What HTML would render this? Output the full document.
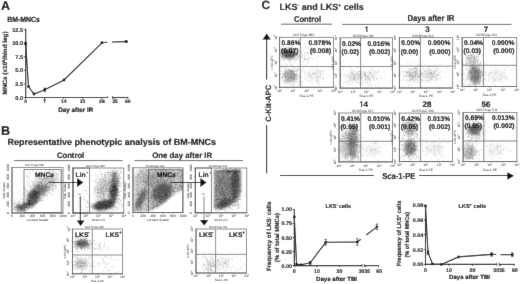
<!DOCTYPE html>
<html><head><meta charset="utf-8"><style>
html,body{margin:0;padding:0;background:#fff;}
svg{display:block;}
text{font-family:"Liberation Sans", sans-serif;text-rendering:geometricPrecision;}
text[font-weight=bold]{stroke:#111;stroke-width:0.15px;stroke-linejoin:round;}
</style></head><body>
<svg xmlns="http://www.w3.org/2000/svg" width="520" height="284" viewBox="0 0 520 284">
<defs><filter id="soft" x="0" y="0" width="520" height="284" filterUnits="userSpaceOnUse"><feConvolveMatrix order="3" kernelMatrix="0.0049 0.0602 0.0049 0.0602 0.7396 0.0602 0.0049 0.0602 0.0049" edgeMode="duplicate"/></filter><filter id="bl" x="-5%" y="-5%" width="110%" height="110%"><feGaussianBlur stdDeviation="0.35"/></filter><filter id="f8" x="-50%" y="-50%" width="200%" height="200%"><feGaussianBlur stdDeviation="0.8"/></filter><filter id="f10" x="-50%" y="-50%" width="200%" height="200%"><feGaussianBlur stdDeviation="1.0"/></filter><filter id="f12" x="-50%" y="-50%" width="200%" height="200%"><feGaussianBlur stdDeviation="1.2"/></filter><filter id="f15" x="-50%" y="-50%" width="200%" height="200%"><feGaussianBlur stdDeviation="1.5"/></filter><filter id="f20" x="-50%" y="-50%" width="200%" height="200%"><feGaussianBlur stdDeviation="2.0"/></filter><filter id="f25" x="-50%" y="-50%" width="200%" height="200%"><feGaussianBlur stdDeviation="2.5"/></filter><filter id="f30" x="-50%" y="-50%" width="200%" height="200%"><feGaussianBlur stdDeviation="3.0"/></filter><clipPath id="c0"><rect x="12" y="167.6" width="51" height="45.400000000000006"/></clipPath><clipPath id="c1"><rect x="73" y="168" width="50.8" height="45"/></clipPath><clipPath id="c2"><rect x="72.5" y="229" width="50.0" height="44.80000000000001"/></clipPath><clipPath id="c3"><rect x="133" y="167.8" width="50" height="44.79999999999998"/></clipPath><clipPath id="c4"><rect x="195.3" y="168" width="51.5" height="44.80000000000001"/></clipPath><clipPath id="c5"><rect x="196" y="229" width="50.5" height="44"/></clipPath><clipPath id="c6"><rect x="279.6" y="37.3" width="53.89999999999998" height="50.0"/></clipPath><clipPath id="c7"><rect x="340.2" y="37.8" width="52.30000000000001" height="50.3"/></clipPath><clipPath id="c8"><rect x="399.4" y="37.7" width="53.30000000000001" height="50.3"/></clipPath><clipPath id="c9"><rect x="462.2" y="37.5" width="54.50000000000006" height="49.0"/></clipPath><clipPath id="c10"><rect x="339" y="113" width="53.5" height="48.900000000000006"/></clipPath><clipPath id="c11"><rect x="399.4" y="113.1" width="53.10000000000002" height="48.5"/></clipPath><clipPath id="c12"><rect x="463.1" y="112.6" width="53.799999999999955" height="49.0"/></clipPath></defs>
<g filter="url(#soft)">
<rect width="520" height="284" fill="#fff"/>
<g clip-path="url(#c0)"><ellipse cx="20.5" cy="207.5" rx="4.5" ry="3" transform="rotate(-15 20.5 207.5)" opacity="0.42" filter="url(#f12)"/><ellipse cx="33" cy="198" rx="5.5" ry="8.5" transform="rotate(20 33 198)" opacity="0.5" filter="url(#f12)"/><ellipse cx="27" cy="205" rx="4" ry="3" transform="rotate(-30 27 205)" opacity="0.35" filter="url(#f12)"/><ellipse cx="38" cy="192" rx="10" ry="7" transform="rotate(-40 38 192)" opacity="0.18" filter="url(#f15)"/><ellipse cx="42" cy="190" rx="7" ry="4" transform="rotate(-30 42 190)" opacity="0.22" filter="url(#f15)"/><ellipse cx="46" cy="182" rx="13" ry="7" transform="rotate(-25 46 182)" opacity="0.14" filter="url(#f20)"/><polygon points="24,213.5 64,189.5 64,215 24,215" fill="#fff" opacity="1" filter="url(#f8)"/></g><g clip-path="url(#c1)"><ellipse cx="104" cy="205" rx="11" ry="4.8" transform="rotate(-12 104 205)" opacity="0.65" filter="url(#f12)"/><ellipse cx="113.5" cy="193" rx="4.2" ry="9" transform="rotate(5 113.5 193)" opacity="0.55" filter="url(#f12)"/><ellipse cx="114.5" cy="180" rx="3.6" ry="9" transform="rotate(-3 114.5 180)" opacity="0.35" filter="url(#f12)"/><ellipse cx="104" cy="188" rx="8" ry="11" transform="rotate(20 104 188)" opacity="0.15" filter="url(#f20)"/></g><g clip-path="url(#c2)"><ellipse cx="82" cy="243.5" rx="7" ry="4" transform="rotate(0 82 243.5)" opacity="0.42" filter="url(#f12)"/><ellipse cx="81" cy="264" rx="6" ry="5" transform="rotate(0 81 264)" opacity="0.14" filter="url(#f15)"/></g><g clip-path="url(#c3)"><polygon points="134,211 147,212 183,189 183,170 140,169 134,180" opacity="0.2" filter="url(#f15)"/><ellipse cx="162" cy="192" rx="11" ry="8" transform="rotate(-35 162 192)" opacity="0.45" filter="url(#f15)"/><ellipse cx="141" cy="199" rx="3.5" ry="11" transform="rotate(25 141 199)" opacity="0.3" filter="url(#f12)"/><ellipse cx="158" cy="178" rx="15" ry="7" transform="rotate(-15 158 178)" opacity="0.12" filter="url(#f20)"/><ellipse cx="160" cy="204" rx="10" ry="3" transform="rotate(-30 160 204)" opacity="0.2" filter="url(#f12)"/><polygon points="179.5,171 182.5,171 182.5,210 179.5,210" opacity="0.08" filter="url(#f10)"/><polygon points="148,214.5 184,190 184,215" fill="#fff" opacity="1" filter="url(#f8)"/></g><g clip-path="url(#c4)"><polygon points="214,170 241,170 241,192 236,202 226,208 214,209" opacity="0.4" filter="url(#f12)"/><ellipse cx="235" cy="185" rx="4" ry="15" transform="rotate(2 235 185)" opacity="0.3" filter="url(#f12)"/><ellipse cx="224" cy="203.5" rx="8" ry="4" transform="rotate(-30 224 203.5)" opacity="0.25" filter="url(#f12)"/><ellipse cx="230" cy="171" rx="9" ry="1.5" transform="rotate(0 230 171)" opacity="0.15" filter="url(#f10)"/></g><g clip-path="url(#c5)"><ellipse cx="210" cy="264.7" rx="6" ry="5" transform="rotate(0 210 264.7)" opacity="0.06" filter="url(#f20)"/><ellipse cx="223" cy="263" rx="7" ry="5" transform="rotate(0 223 263)" opacity="0.04" filter="url(#f20)"/></g><g clip-path="url(#c6)"><ellipse cx="289" cy="54" rx="7" ry="4.5" transform="rotate(0 289 54)" opacity="0.5" filter="url(#f12)"/><ellipse cx="290" cy="76" rx="6.5" ry="6" transform="rotate(0 290 76)" opacity="0.25" filter="url(#f15)"/><ellipse cx="314" cy="76" rx="9" ry="6" transform="rotate(0 314 76)" opacity="0.05" filter="url(#f20)"/></g><g clip-path="url(#c7)"><ellipse cx="354.4" cy="76.6" rx="7" ry="5" transform="rotate(0 354.4 76.6)" opacity="0.07" filter="url(#f20)"/><ellipse cx="369" cy="75.6" rx="8" ry="5" transform="rotate(0 369 75.6)" opacity="0.05" filter="url(#f20)"/></g><g clip-path="url(#c8)"><ellipse cx="413" cy="75" rx="7" ry="5" transform="rotate(0 413 75)" opacity="0.13" filter="url(#f20)"/><ellipse cx="430" cy="75" rx="8" ry="5" transform="rotate(0 430 75)" opacity="0.09" filter="url(#f20)"/></g><g clip-path="url(#c9)"><ellipse cx="475" cy="75" rx="6" ry="9" transform="rotate(0 475 75)" opacity="0.38" filter="url(#f15)"/><ellipse cx="472" cy="60" rx="5" ry="6" transform="rotate(0 472 60)" opacity="0.15" filter="url(#f15)"/><ellipse cx="498" cy="76" rx="9" ry="6" transform="rotate(0 498 76)" opacity="0.05" filter="url(#f20)"/></g><g clip-path="url(#c10)"><ellipse cx="353" cy="142" rx="5" ry="17" transform="rotate(0 353 142)" opacity="0.33" filter="url(#f15)"/><ellipse cx="346" cy="145" rx="6" ry="14" transform="rotate(0 346 145)" opacity="0.15" filter="url(#f15)"/><ellipse cx="372" cy="150" rx="8" ry="5" transform="rotate(0 372 150)" opacity="0.06" filter="url(#f20)"/></g><g clip-path="url(#c11)"><ellipse cx="410" cy="148" rx="6" ry="8" transform="rotate(0 410 148)" opacity="0.38" filter="url(#f15)"/><ellipse cx="410" cy="128" rx="6" ry="7" transform="rotate(0 410 128)" opacity="0.22" filter="url(#f15)"/><ellipse cx="435" cy="149" rx="9" ry="6" transform="rotate(0 435 149)" opacity="0.06" filter="url(#f20)"/></g><g clip-path="url(#c12)"><ellipse cx="474.3" cy="130" rx="6" ry="5" transform="rotate(0 474.3 130)" opacity="0.48" filter="url(#f12)"/><ellipse cx="469" cy="152" rx="6" ry="7" transform="rotate(0 469 152)" opacity="0.22" filter="url(#f15)"/><ellipse cx="495" cy="150" rx="9" ry="6" transform="rotate(0 495 150)" opacity="0.05" filter="url(#f20)"/></g>
<g filter="url(#bl)"><path d="M283.1 46.1h.8m6.6 1.8h.8m.2 .5h.8m3.4-.4h.8m-14.1 .6h.8m1.7 0h.8m1.8 .2h.8m5.9-.1h.8m-13.2 1.6h.8m2.3-.7h.8m6.3 0h.8m4.2 .4h.8m-17.3 .7h.8m-.1 .5h.8m3.3-.2h.8m1-.4h.8m-5.2 1.4h.8m6.6 0h.8m.9-.4h.8m.1 .7h.8m185.1-.3h.8m-197.4 1.3h.8m8.2 .1h.8m-.8-.3h.8m14.1-.4h.8m163.3 .3h.8m-190.5 1.3h.8m3.9-.4h.8m3.3-.4h.8m4.2 0h.8m-.6 .6h.8m.8 .1h.8m3.5 .1h.8m-15.2 1.2h.8m2.7-.7h.8m.1 .1h.8m4.3 0h.8m.2 .3h.8m-.1-.3h.8m4.6-.3h.8m7.1 .1h.8m154.1 .8h.8m-185.5 .6h.8m.7 .2h.8m2.8 .1h.8m1.8-.6h.8m1.2 .7h.8m2.9-.7h.8m6.4 .3h.8m-17 1.4h.8m1-.7h.8m-.2 .2h.8m0 .4h.8m-.5-.2h.8m2.3-.4h.8m-.6 .2h.8m1.6-.1h.8m172.3 .3h.8m-.7 .1h.8m5.1-.5h.8m7.1 .1h.8m-176.5 1.6h.8m3.7-.9h.8m-27.7 1.2h.8m6.9 .4h.8m11.5-.7h.8m161.5 .3h.8m-157.4 1h.8m157.1-.1h.8m.9-.1h.8m-175.4 1.5h.8m188 .1h.8m-175.8 1h.8m168.7 .1h.8m5.1-.3h.8m-194.9 .8h.8m12.4 0h.8m104-.3h.8m59.8 .2h.8m7.3-.1h.8m7.5 .1h.8m-192.2 1.1h.8m181.7 .3h.8m2.1 .1h.8m33.2 0h.8m-33.5 .9h.8m4 0h.8m-200.9 .6h.8m149.1 0h.8m37.6 .7h.8m2.7 0h.8m-182.6 1.1h.8m116.8-.8h.8m56.4 .6h.8m-53.9 .9h.8m18.6-.3h.8m35.6 .2h.8m-.1-.2h.8m1.3 .2h.8m-131.6 1h.8m64.9-.1h.8m.4 .2h.8m11.3-.6h.8m2.9 .9h.8m47.1-.7h.8m4.5 .5h.8m-.5 .1h.8m-183.3 1.1h.8m45.4-.8h.8m67.4 .2h.8m65 .6h.8m17.5-.3h.8m-210 1.1h.8m6.5-.4h.8m1-.3h.8m62.9 .6h.8m60-.6h.8m53.2 .2h.8m4.1-.2h.8m17 .6h.8m-204.2 .4h.8m26 .7h.8m1.5-.6h.8m51.9 .1h.8m26.5 .3h.8m12-.3h.8m53.7-.3h.8m5 .7h.8m-184.4 1.2h.8m.5-.4h.8m10 0h.8m116.3 .2h.8m7-.4h.8m39 0h.8m1 .5h.8m.1-.7h.8m-187.7 1.2h.8m27.9 .3h.8m38.1-.2h.8m4.9 .4h.8m.3 .2h.8m50.5-.2h.8m.4-.4h.8m10.6-.2h.8m7.3-.1h.8m57.1 .6h.8m-202.3 .6h.8m22.4 0h.8m46.1-.1h.8m6.8 .7h.8m44.4-.4h.8m6.4-.4h.8m15.8 .1h.8m1.6 .6h.8m.1-.2h.8m44 .4h.8m3.3-.3h.8m-158.1 .5h.8m25.7-.2h.8m16.3 .9h.8m33.4-.4h.8m3.6-.2h.8m-.3 .4h.8m20 .2h.8m39.3 0h.8m-.2-.3h.8m.5-.1h.8m1.9 .3h.8m.2-.4h.8m1.7 0h.8m2.1-.3h.8m.6 0h.8m-200 1.3h.8m4.5 .1h.8m5.1 .1h.8m21.7-.5h.8m32.8 .1h.8m8.7 .4h.8m45.9-.2h.8m70.6 .4h.8m1.5-.4h.8m-160.8 1.2h.8m31.8-.1h.8m12.7 .3h.8m57.3-.7h.8m4.2 .3h.8m41.2-.1h.8m2.9 .4h.8m1.9-.3h.8m-194.3 1.3h.8m28.7-.4h.8m104.3 .4h.8m8.5-.5h.8m34.1-.2h.8m4.3 .3h.8m3.7 .2h.8m23.4 .2h.8m5.6 .2h.8m-151.3 1h.8m9.1-.7h.8m3.4 .3h.8m-.4 .2h.8m64.1 .1h.8m28.7 .2h.8m12.4-.8h.8m1.4 .6h.8m.6-.6h.8m-192.5 1.2h.8m-.2 .2h.8m60.9-.4h.8m9.4 .1h.8m59.4 .1h.8m5.4-.1h.8m45.9 .2h.8m1.3 .4h.8m-180.9 .8h.8m166.6-.3h.8m9.5-.4h.8m3.8 1h.8m-196.4 .9h.8m4.3-.5h.8m3 .3h.8m24.6 .1h.8m158.6-.3h.8m-193.8 1.4h.8m150.4-.9h.8m.2 .7h.8m25.7-.2h.8m9.4-.4h.8m2.1-.1h.8m.1 .6h.8m14.2-.5h.8m14.6 .8h.8m-144.4 .4h.8m99.3-.2h.8m5.6 .3h.8m3.3 .1h.8m-.5 .4h.8m-72.1 .9h.8m-45.3 28.4h.8m0 .4h.8m49.2 .7h.8m-6.9 1.1h.8m5.5 1.2h.8m6 .2h.8m55.9-.7h.8m-130.9 1.6h.8m10.8 .9h.8m53.9 1.1h.8m2.3-.4h.8m-7 1.7h.8m-56.7 .8h.8m6.4-.6h.8m57.4 .8h.8m54-.3h.8m-121.7 .4h.8m5.9 .2h.8m48.6 0h.8m8.5 0h.8m9.2 .6h.8m38.8 0h.8m-118.6 1h.8m59.9-.7h.8m0 .5h.8m59.7-.3h.8m-53.6 1.1h.8m50.1-.1h.8m1.5 .1h.8m2.9 .2h.8m-118.7 1.2h.8m59.5-.3h.8m55 .3h.8m3.1-.1h.8m-.6-.2h.8m.4-.5h.8m10.6 .9h.8m-136.4 .3h.8m.4-.2h.8m2.3 0h.8m118.5 .7h.8m-128 1.2h.8m2.6-.4h.8m53.8-.1h.8m-.7-.2h.8m-.3 .5h.8m7.4-.4h.8m55.9 .2h.8m.9 .1h.8m1.8 .3h.8m-124.9 .2h.8m58.2 .7h.8m58.1-.5h.8m-.7 .1h.8m1 .3h.8m1.7-.4h.8m-.7 .1h.8m.1-.3h.8m-.7 .2h.8m5.3-.4h.8m-134.5 1.3h.8m55.4-.3h.8m2 .7h.8m-.3-.2h.8m2 .5h.8m-.2-.7h.8m58.5 .2h.8m.5 .1h.8m-121.3 .6h.8m55.3 .3h.8m2.3 .3h.8m1.6-.5h.8m1 .4h.8m52.6-.7h.8m9.5 .6h.8m-73.5 .5h.8m9.9 .5h.8m57.5-.2h.8m-127.8 1.5h.8m3.6-.1h.8m.5 .1h.8m4.4 .1h.8m52.3-.6h.8m-.6 .1h.8m12.6-.1h.8m40.1 .2h.8m4.7 .2h.8m9.7-.7h.8m-133.3 1.3h.8m1.7-.4h.8m.7 .3h.8m52.1 0h.8m5.8-.2h.8m3.1 .7h.8m57.6-.2h.8m-124.1 1.1h.8m2-.5h.8m1 .2h.8m1.2-.4h.8m53.3 .1h.8m2.2 .7h.8m67-.5h.8m-140.8 1.2h.8m4.1-.4h.8m118.3 .1h.8m2.8 .6h.8m4 .2h.8m3.2-.6h.8m-135.4 1.3h.8m1.7-.5h.8m6-.2h.8m-.8 .3h.8m53.1 .2h.8m3.5 .4h.8m34.1-.4h.8m22.5 .3h.8m-.5 .1h.8m-122.2 .8h.8m3-.3h.8m56.2 0h.8m-.4 .1h.8m.4-.4h.8m70.3 .1h.8m-.8 0h.8m-133.7 1.3h.8m2.9 .1h.8m111.2 .2h.8m-124.7 1.2h.8m1.6-.3h.8m5.1-.2h.8m50.2-.1h.8m4.2 .1h.8m-60 .7h.8m2 .7h.8m4.9-.3h.8m52.1-.2h.8m6.8 .4h.8m54 .1h.8m-118.1 .6h.8m-.4 .2h.8m-.6-.3h.8m58.7 .2h.8m32.7-.2h.8m20.1 .3h.8m-120.7 .7h.8m.1 0h.8m1.2-.3h.8m2 .8h.8m4.2-.1h.8m52.3-.6h.8m59.6 .1h.8m3.6-.2h.8m-127.5 1.3h.8m2.3-.3h.8m-.2 0h.8m73.3 .8h.8m74-.7h.8m-160.9 .9h.8m2.8 .1h.8m5 .7h.8m-.6-.9h.8m2.3 .9h.8m48.3-.3h.8m4.2-.1h.8m4.6 .2h.8m17-.6h.8m7.2 .7h.8m30-.4h.8m25.5 .4h.8m-151.1 .2h.8m1.3 .5h.8m11.5 .3h.8m62.2-.4h.8m14.2 .2h.8m-90.5 .6h.8m60.2 .3h.8m.3-.2h.8m6.2-.1h.8m76 .1h.8m-157.5 1.2h.8m10.2 .4h.8m1.1-.6h.8m5.7 .3h.8m12.2 .1h.8m-.7-.1h.8m35.7 0h.8m-.2-.2h.8m5.6-.1h.8m48.4 .5h.8m8.7-.6h.8m27.4 .6h.8m5.7-.1h.8m-156.3 .5h.8m4.7 .1h.8m.3 0h.8m9.9 0h.8m29.5 .2h.8m4.3-.3h.8m3 .2h.8m1.1-.4h.8m3.1 1h.8m52.9-.4h.8m-.4-.2h.8m-.4 .4h.8m-.8 .1h.8m2.3-.7h.8m-.8 .4h.8m-132.7 .5h.8m2 0h.8m4.6 .2h.8m6.9-.3h.8m.8 .9h.8m51.2-.2h.8m1.1 .3h.8m.1-.7h.8m.4-.2h.8m15 0h.8m39.4 .4h.8m-125.9 .6h.8m11.4 .4h.8m9.4 .4h.8m7.9-.7h.8m26.4 0h.8m6.8 0h.8m51.8 .5h.8m6.2-.5h.8m-125.6 1.1h.8m6.1 .3h.8m5.7 .2h.8m11.9 .2h.8m3.5-.6h.8m97.8-.1h.8m-131.6 1.1h.8m3.9 .2h.8m-.6-.2h.8m7.2-.2h.8m45.8 .4h.8m3.3 .3h.8m1.9-.2h.8m3.3-.6h.8m-61.7 1h.8m20.1-.1h.8m4.4 .2h.8m31.1 .1h.8m.5 .4h.8m56.7 .2h.8m-120.4 .8h.8m-.4 .2h.8m5.3 0h.8m1.8-.4h.8m55.8-.1h.8m-68.7 1.1h.8m1.3 0h.8m1.5 .4h.8m1.8-.5h.8m.5 .1h.8m113.1 0h.8m-.5 .2h.8m-27.6 .7h.8m25.5 .4h.8m17.5-.1h.8m-140 .4h.8m6.4 .8h.8m119.6-.7h.8m-127.5 .9h.8m-193 8.7h.8m2.1 .1h.8m-14.5 .9h.8m76.5 .1h.8m2.6-.6h.8m-110.5 1.7h.8m25.8-.4h.8m10.2 .2h.8m1.6-.5h.8m.4 .4h.8m3.9 0h.8m-.6-.1h.8m50.8 0h.8m4.1-.1h.8m2.3-.1h.8m5.5 .3h.8m2-.5h.8m-.6 .3h.8m2.4 .4h.8m-208.5 1.1h.8m1.7-.2h.8m115.2 .2h.8m11.4-.3h.8m3.4-.3h.8m51.5 .2h.8m2.4 .4h.8m1.8-1h.8m-.3 .1h.8m1.5 .6h.8m.9 .3h.8m1.2-.4h.8m1.2-.5h.8m-.3 .5h.8m-.7-.5h.8m1.8 .3h.8m1.8 .5h.8m.5-.6h.8m-177.6 1.1h.8m49.6 .4h.8m3.1 .1h.8m-.1-.7h.8m102.2 .8h.8m4.3-.8h.8m1.2 .3h.8m-.8 .1h.8m2.2-.4h.8m2.8 .3h.8m-.3 0h.8m1.4-.5h.8m-189 1.2h.8m56.1-.1h.8m3.1 .1h.8m30.9 0h.8m26.4 .4h.8m6.5-.1h.8m2.6 .1h.8m2.4-.4h.8m32.4-.1h.8m7.2 .5h.8m1.8 .1h.8m3.3-.4h.8m6.7 0h.8m-.5 .4h.8m-188.1 .5h.8m50.2 .7h.8m2 .1h.8m2.9-.3h.8m27.7-.5h.8m1 .6h.8m15.9 0h.8m12-.5h.8m.3 .4h.8m1-.1h.8m2.7 .1h.8m3 0h.8m-.7-.5h.8m44 .8h.8m2.2-.5h.8m.3 .3h.8m4.3-.5h.8m.9-.3h.8m-.2 0h.8m4.8 .6h.8m-202.1 .8h.8m56.4 .2h.8m4.7-.2h.8m2.7 .2h.8m5.8-.2h.8m-.1 .3h.8m53.4 .1h.8m9.5 .2h.8m37.2-.2h.8m18.5 0h.8m.1-.7h.8m-191.7 1.1h.8m3.5 .7h.8m1-.1h.8m53.9 .2h.8m32.7-.8h.8m6.4 0h.8m6.1 .1h.8m.7 0h.8m3.4 .4h.8m6 .2h.8m1.1-.2h.8m-.1-.1h.8m3.3 .3h.8m7.9-.6h.8m35.7 0h.8m17.1 .5h.8m1.4-.8h.8m-.7 .1h.8m-.5 .4h.8m2.6-.1h.8m-198.3 1.3h.8m57.4-.3h.8m10.9 .1h.8m45.5 .1h.8m.4 .4h.8m2.7-.5h.8m3.6-.4h.8m2 .4h.8m9.5-.2h.8m40.5 .6h.8m7.6-.8h.8m2.9 .4h.8m-.4-.4h.8m-208.1 .9h.8m16.2 1h.8m-.7-.3h.8m102.7 .1h.8m.2-.6h.8m16.5 .4h.8m4 0h.8m9-.4h.8m39.5-.1h.8m5.3 .3h.8m2.1 .6h.8m-.4-1h.8m-.7 .3h.8m-.6 .4h.8m.1-.5h.8m-.7 .3h.8m3.8 .1h.8m-202.1 .9h.8m7.6 .3h.8m2.5-.2h.8m4.7-.3h.8m.5 .5h.8m5.9-.2h.8m37.1-.4h.8m8.9-.2h.8m3.1 .1h.8m-.3 0h.8m.2 .2h.8m4.5 .5h.8m19.7 .2h.8m8.8-.1h.8m-.2-.9h.8m17.2 .8h.8m59.8-.7h.8m3.7 .9h.8m2.1-.1h.8m1.1-.3h.8m-178.7 1.3h.8m38.5-.1h.8m41.9 0h.8m3.1-.3h.8m2.9 .2h.8m12.5-.4h.8m1.4 .7h.8m54.5-.1h.8m5.9-.6h.8m10.2 .6h.8m-207.4 .9h.8m24.8-.6h.8m37.6 .6h.8m6.6-.3h.8m6.3 .2h.8m5.3-.4h.8m1.5 .5h.8m.5 .1h.8m25-.2h.8m2.2-.3h.8m.4-.1h.8m7.7 0h.8m1.3 .5h.8m3.2-.6h.8m2.1 .4h.8m-.7-.5h.8m12.6 .9h.8m-.2-.3h.8m37.9 .3h.8m3.5-1h.8m2.3 .6h.8m2.8 .2h.8m7.8-.6h.8m-.4-.1h.8m-202.6 1.8h.8m9.5-.1h.8m47.5 0h.8m10.4-.3h.8m8.5-.4h.8m-.2 .3h.8m17.7 .2h.8m.6-.4h.8m8.3 .5h.8m7.2-.6h.8m.9 .3h.8m.8 0h.8m1.4 .6h.8m10.2-.5h.8m58-.2h.8m2 .6h.8m2.5-.3h.8m.1-.5h.8m-.3 0h.8m3 .7h.8m-208.6 .9h.8m7.4-.6h.8m4.9 .7h.8m10.8-.6h.8m.6 .3h.8m51.6-.1h.8m3.6 .1h.8m1.6-.3h.8m18.6 0h.8m-.2 0h.8m4.2 .5h.8m4.9 .1h.8m20.3-.6h.8m-.4 .1h.8m3.9-.2h.8m3.6 .9h.8m-.2-.6h.8m-.7 .6h.8m42.2-.3h.8m.4-.2h.8m.9 .4h.8m4.5-.3h.8m0-.3h.8m-.5 .5h.8m-194 .2h.8m-.5 0h.8m5.1 .3h.8m2.7 .3h.8m58.4-.2h.8m.9 .5h.8m3.8-.3h.8m-.3 0h.8m-.3-.4h.8m29 .6h.8m3.6-.4h.8m66.4-.1h.8m1.2 .3h.8m.7-.3h.8m3.5 0h.8m8.7-.3h.8m1.9 1h.8m-206.3 .8h.8m2.5-.3h.8m1.2 .5h.8m2.9-.1h.8m.2 .1h.8m1.9-.7h.8m6 .3h.8m47.9-.3h.8m7.8 0h.8m2.3 .6h.8m1.2-.4h.8m-.2 .1h.8m21-.4h.8m.9 .2h.8m10.1-.3h.8m2.5 .8h.8m2-.9h.8m-.8 .9h.8m1.7-.7h.8m.9 .3h.8m2.5 .3h.8m11.5-.6h.8m40.4 .3h.8m7.6 .3h.8m.7-.3h.8m1.7-.1h.8m1.8 .5h.8m-.7-.5h.8m-.5 .4h.8m3.4-.4h.8m-206.7 1.2h.8m5.6-.3h.8m-.8 .3h.8m72.7-.4h.8m5.7 .7h.8m40.7-.2h.8m3-.1h.8m54.2-.5h.8m5.7 .8h.8m1.2-.5h.8m2.5-.1h.8m3.3-.2h.8m.8 .1h.8m.9 .4h.8m1.2 0h.8m-216.2 .7h.8m10.8 .1h.8m2.8 .6h.8m-.8-.3h.8m6.1-.4h.8m3.6 .5h.8m63 .1h.8m1.1-.1h.8m-.8-.4h.8m-.4-.1h.8m28 .2h.8m7.1-.1h.8m3.8-.3h.8m3.6 .1h.8m2.2 .1h.8m3.7 .5h.8m5.5-.1h.8m38.6-.2h.8m4.2-.5h.8m6.1 .6h.8m2.3-.2h.8m3 .6h.8m-.4-.8h.8m1 .2h.8m-211 .8h.8m9.3 .4h.8m1.7-.4h.8m.4 .2h.8m7.8 .6h.8m37.7-.8h.8m8 .4h.8m6.6 .2h.8m10.8-.7h.8m.9 .2h.8m20.6 .6h.8m6.3 .1h.8m7.5-.7h.8m6.8 0h.8m-.8-.2h.8m8.4 0h.8m3.5 .4h.8m2.3-.5h.8m3.5 .1h.8m.1 .5h.8m32.5 .2h.8m12.2-.8h.8m6.3 .1h.8m2.8 .4h.8m-201.2 1.1h.8m-.2-.5h.8m4.2-.1h.8m7.3 .9h.8m45.3-.1h.8m6.5 .1h.8m2.2-.3h.8m-.2-.6h.8m28.1 .3h.8m9 .1h.8m10.5 .5h.8m2.7-.6h.8m-.7-.2h.8m-.1 .2h.8m56-.1h.8m5.4-.2h.8m3.6 .5h.8m-189.5 1.2h.8m2.8 0h.8m53.1-.6h.8m-.4 .3h.8m4.4 0h.8m7.2-.2h.8m.5 .6h.8m-.2 0h.8m1.5-.8h.8m29.8 .7h.8m-.5-.2h.8m7.5-.4h.8m2.8 .4h.8m2.5 .2h.8m7.6-.6h.8m46.6 .4h.8m1.2 .3h.8m-.1-.3h.8m.9 .2h.8m7.4-.2h.8m-.1-.4h.8m-.4 .3h.8m5.1 .3h.8m-212.5 .5h.8m6.3 .1h.8m-.4 .4h.8m-.3-.6h.8m3.4 0h.8m4.5 .2h.8m4.8-.2h.8m.7 .1h.8m56.5 .3h.8m.3 .1h.8m.2 .2h.8m0-.7h.8m35 .5h.8m-.1-.6h.8m4.5 .9h.8m8.3-.8h.8m3.9 .1h.8m5.5 .8h.8m2.2-.9h.8m41.6 .3h.8m.2 .5h.8m-.1-.5h.8m0 .5h.8m3.1-.8h.8m8.2-.1h.8m.2 .7h.8m1-.6h.8m-208.7 1.9h.8m4.5-.3h.8m.7-.7h.8m4.7 .3h.8m.4 .4h.8m58.7-.3h.8m-.4 .2h.8m5.9 0h.8m.7-.5h.8m2.2 0h.8m-.2 .2h.8m2.4 .5h.8m2.4-.8h.8m20.5 .9h.8m4.8-.1h.8m13.2-.2h.8m4 0h.8m1.2 0h.8m44.3-.2h.8m5.3 .5h.8m9.4-.6h.8m5.8 .7h.8m-207.3 .8h.8m1.9-.6h.8m.3 .7h.8m.6-.5h.8m2 .2h.8m1.1 .1h.8m58.5 .1h.8m8.3-.4h.8m4.3 .5h.8m27.1-.1h.8m6.1 .2h.8m14.8-.8h.8m.9 .7h.8m2.2-.5h.8m3.4 0h.8m48.4 .4h.8m6.7 0h.8m-.4-.7h.8m.8 .8h.8m1.2-.6h.8m-.2 0h.8m3.9 .4h.8m-.5-.6h.8m-212 1.8h.8m-.7-.5h.8m3.6-.4h.8m-.4 1h.8m-.2-.1h.8m.8-.2h.8m.6-.3h.8m5.1 0h.8m.8 .5h.8m64.9-.5h.8m2 0h.8m.9 .4h.8m.4-.6h.8m-.5 0h.8m.4 .6h.8m-.2-.2h.8m21.3-.6h.8m1.7 .5h.8m.5 0h.8m6.7-.5h.8m6.2 .7h.8m4.1 0h.8m.9-.7h.8m3.1 .3h.8m47.4-.1h.8m2.4 .2h.8m7.6 .1h.8m1 .3h.8m-201.6 .3h.8m8.9 .6h.8m3.5-.5h.8m59.6 .7h.8m33.5-.6h.8m1.1 .4h.8m4.3-.7h.8m2.1 .9h.8m5.1-.3h.8m3 .1h.8m7-.4h.8m-.7 .2h.8m.9-.2h.8m.1 .7h.8m1.1-.9h.8m48.6 .3h.8m1.3 .1h.8m-.2-.2h.8m.7 .4h.8m1.9-.5h.8m7.2 .5h.8m-206.6 1.2h.8m5.1-.6h.8m.8 .7h.8m60.2-.5h.8m5.6-.4h.8m9.9 .4h.8m28.9 .2h.8m5.6-.3h.8m5.9 .3h.8m.2 .2h.8m1.6-.6h.8m.3 .3h.8m1.6 .2h.8m1.8-.3h.8m-.1-.4h.8m-.2 .8h.8m1.2-.5h.8m1.7 .3h.8m-.4-.2h.8m41.9-.1h.8m2.5 .5h.8m10.7 0h.8m1.4 0h.8m6.1-.3h.8m-208.1 1.1h.8m-.4-.6h.8m.4 .4h.8m1-.5h.8m1.6 .7h.8m0-.2h.8m0 .2h.8m4.9-.7h.8m68.7 .6h.8m28.1 .3h.8m1.5-.4h.8m11.1 .3h.8m8.9 .1h.8m1.1-.5h.8m52.7 0h.8m13.9-.3h.8m-210.4 1.5h.8m2.3-.4h.8m-.2 .5h.8m-.6 0h.8m3.3-.6h.8m1.1 .8h.8m64.9-.9h.8m4 .2h.8m2.8 .1h.8m28.9 .2h.8m3.5 .5h.8m.8-.5h.8m1 .1h.8m5.6-.5h.8m5.1-.1h.8m2.7 .6h.8m67.6-.5h.8m-213.5 1.3h.8m3.6 .5h.8m5-.2h.8m4.5 .2h.8m-.1-.1h.8m60.8-.6h.8m3.5-.2h.8m.4 .6h.8m.2 .2h.8m2.5 0h.8m3.7 0h.8m3.4-.8h.8m18 .5h.8m2-.2h.8m7.5 .3h.8m2.6-.5h.8m64.5 0h.8m2 0h.8m15.3 .2h.8m.5 .7h.8m-.2-.8h.8m.7 .6h.8m0-.7h.8m-214.9 1.8h.8m.9-.4h.8m1.7-.3h.8m79.5 .6h.8m-.1-.1h.8m0-.1h.8m-.3-.1h.8m1.5 .4h.8m0-.7h.8m.3 0h.8m.7 .6h.8m21.4 0h.8m.1-.2h.8m.9-.1h.8m11.3 .1h.8m.7-.2h.8m6.2 .4h.8m1.1-.3h.8m0-.1h.8m49.4 .1h.8m4.2-.4h.8m.8 .2h.8m14.3 .7h.8m-209.7 .5h.8m.6-.1h.8m4.1 .2h.8m1.4 .1h.8m64.7 .1h.8m2.2 .2h.8m-.7-.3h.8m1-.2h.8m1.4 .2h.8m6.9-.2h.8m22.6-.4h.8m-.7 0h.8m7.3 .7h.8m9.7 .1h.8m4.9-.2h.8m52.5 .3h.8m2.7-.5h.8m.1-.2h.8m-.5 0h.8m9.7-.1h.8m-.3 .7h.8m-215.1 .8h.8m10.4-.2h.8m63.5 .3h.8m.6-.7h.8m8.7 .3h.8m.7-.4h.8m5.8 .7h.8m-.4 .2h.8m-.6-.1h.8m4.7-.8h.8m15.3 1h.8m-.1-.7h.8m2.6 .1h.8m11 .3h.8m.4-.5h.8m68.8 .2h.8m5.8 0h.8m-.3 0h.8m.1-.3h.8m-.7 .3h.8m-.5 .1h.8m-.3-.1h.8m-.7 .2h.8m-.3-.2h.8m2.8-.4h.8m-223.2 1.9h.8m5.3-.5h.8m.4-.3h.8m1.4 0h.8m-.3 .8h.8m4.4-.3h.8m3.1-.3h.8m-.2 .3h.8m58.4 .2h.8m.2 .1h.8m1.5-.3h.8m-.4 .2h.8m.8 .1h.8m12.4-.7h.8m2.3 0h.8m26.7 0h.8m4.3 .3h.8m.8 .2h.8m11.9 .2h.8m59.7-.3h.8m-.7-.4h.8m1.8 .8h.8m.2-.2h.8m-.7-.7h.8m-.4 .6h.8m-.6 .3h.8m1.1-.7h.8m-.8-.3h.8m-201.1 1.9h.8m.1-.6h.8m-.7 .7h.8m-.5-.6h.8m-.4 .4h.8m-.7-.3h.8m-.4-.1h.8m-.4 .2h.8m2-.3h.8m.1 .2h.8m67.9-.2h.8m.9 .4h.8m-.1 .1h.8m2.4-.5h.8m.3 .4h.8m.5-.2h.8m-.5 .5h.8m-.3-.3h.8m-.5-.6h.8m23.7 0h.8m8.3 .7h.8m7.2 .1h.8m5.1-.1h.8m59.7-.8h.8m1 .1h.8m-.1 .2h.8m.2 .7h.8m-.4-1h.8m-.6 .6h.8m1.4-.3h.8m.3 .2h.8m0-.1h.8m1.3 .3h.8m.8 .1h.8m-215.3 .3h.8m.9 0h.8m1 .4h.8m1.8 0h.8m.8-.3h.8m1.2 .7h.8m.8-.3h.8m-.6 .3h.8m3.6-.1h.8m57.6-.8h.8m4.8 .9h.8m7.2-.6h.8m1 .4h.8m5.5-.1h.8m21.2 0h.8m-.1-.4h.8m2-.1h.8m12.2 .6h.8m4.8-.1h.8m.3-.2h.8m60.9 .1h.8m.7 .2h.8m-.1 0h.8m-.6-.4h.8m.4 .2h.8m.6 0h.8m0 .2h.8m7.9 .3h.8m-221.5 .2h.8m6.1 .5h.8m.3-.1h.8m.1-.3h.8m3.2-.3h.8m-.4 .1h.8m.5-.1h.8m.7 .8h.8m62-.6h.8m3.4 .4h.8m2.8-.5h.8m7.1 .3h.8m3.9 .2h.8m27.2-.6h.8m4.5 .7h.8m.2 0h.8m8.4-.1h.8m.7-.5h.8m56.2 .3h.8m3.9-.4h.8m3.7 .3h.8m-.4 .7h.8m3.8-.8h.8m7.5 .3h.8m.5-.2h.8m-225.1 1.3h.8m1.3-.2h.8m.7 .3h.8m-.5-.3h.8m1 .1h.8m-.2 0h.8m2.3 .2h.8m1.8-.4h.8m-.1 .2h.8m1 .2h.8m-.8 0h.8m.1 .1h.8m59.8-.7h.8m1.2 .4h.8m14.7-.3h.8m-.2 .7h.8m.2 0h.8m3.3-.6h.8m24 .4h.8m.3-.3h.8m73.1 .3h.8m7.7 .2h.8m1.5-.3h.8m2.5 .1h.8m10.4 .1h.8m-222.2 .7h.8m1.5 .4h.8m.4-.5h.8m-.8-.1h.8m.7-.1h.8m1.8 .3h.8m-.1-.4h.8m1.2 .5h.8m-.3-.1h.8m2.3 .3h.8m60-.4h.8m-.4 .5h.8m9.9-.6h.8m2.3 .4h.8m41.2-.6h.8m2.9 .2h.8m-.2 0h.8m65.5 .2h.8m-.1-.3h.8m-201.3 1.5h.8m2.1-.4h.8m-.2-.1h.8m7.7-.1h.8m65.2 .9h.8m43.6-.6h.8m6.6 .5h.8m78.1-.9h.8m-207 1.1h.8m.1-.1h.8m.9 .8h.8m71-.6h.8m15.3-.1h.8m24.2 .8h.8m82-.5h.8m6.5 .3h.8m-210.3 .6h.8m3 .1h.8m4 0h.8m60 .1h.8m-.3-.1h.8m46.3-.2h.8m3.6 .3h.8m6.9-.4h.8m-129.1 1.1h.8m57.4 24.3h.8m7 2.5h.8m-10.1 .8h.8m4.7-.5h.8m4.4 0h.8m-7.5 1.5h.8m.9-.3h.8m-2.7 .8h.8m5.8 .5h.8m.8-.3h.8m-14 1.3h.8m2.6-.6h.8m.9 .3h.8m.3 .1h.8m.8 .2h.8m-.5-.3h.8m1 0h.8m12.2 .3h.8m6.4-.5h.8m-23.3 1.3h.8m1.9-.1h.8m-9.7 1.1h.8m2.5 .2h.8m.9-.3h.8m4.4 .2h.8m-.5-.6h.8m-.8 .4h.8m.9-.3h.8m1.4 .3h.8m7.9 .3h.8m-23.3 .7h.8m2.4 .4h.8m-.5-.9h.8m-.8 .2h.8m.8 .3h.8m2.9 0h.8m-.2 .2h.8m-11 .7h.8m5.9-.4h.8m5.4 .7h.8m-.7-.2h.8m-.4-.4h.8m-.2 .3h.8m-15.8 .6h.8m-.6 .5h.8m9.3 .4h.8m1.8-.3h.8m-.4 .2h.8m-6.6 1.1h.8m1.3-.6h.8m-.7 .7h.8m1.3-.8h.8m0 .2h.8m7.4 1.6h.8m-5 .5h.8m-6.4 .7h.8m6.4-.1h.8m4 3.3h.8m104.2 1.3h.8m10.8 1h.8m-134.5 1.1h.8m17.8 0h.8m11.1-.5h.8m103.9-.2h.8m-126.3 1h.8m11.2 1.3h.8m4.7-.3h.8m131.9 .6h.8m-25.9 .4h.8m8.5 .4h.8m-146.1 .8h.8m1.3 1.3h.8m.2-.1h.8m21.3-.3h.8m113.3 .4h.8m6.7 .3h.8m-140.1 .3h.8m21.2 .7h.8m107.3-.3h.8m7.7 .2h.8m-144.1 .2h.8m-.4 .1h.8m129-.1h.8m-.1 .4h.8m-9.8 1.5h.8m6.5-.1h.8m1.4 0h.8m.2-.8h.8m4.1 .1h.8m-140.8 1.8h.8m34.1 .1h.8m108.1-.4h.8m-147.9 .8h.8m17.6 .5h.8m-15 .2h.8m135.3 .5h.8m6.8-.3h.8m-147.2 1.1h.8m3.4 0h.8m123.9 .2h.8m3.8 .5h.8m-.7 1.5h.8m-133.6 .9h.8m1.7 .5h.8m-.1 0h.8" stroke="#000" stroke-width="0.8" opacity="0.22"/>
<path d="M303.8 43.9h.8m-22 2h.8m2.4 1.6h.8m182.7 .7h.8m-184.5 1h.8m6.2-.3h.8m4.5-.2h.8m174.5 0h.8m-187 1.3h.8m.9 .1h.8m3.7-.5h.8m-9.3 1.5h.8m4.4-.4h.8m3.5 .7h.8m176.1-.2h.8m-191.6 1h.8m5.5 .2h.8m.5-.7h.8m1.1 .1h.8m.1 .1h.8m-.7 .5h.8m.2 0h.8m4.3-.6h.8m-17.7 .9h.8m12.5 0h.8m2.8 .3h.8m-15.6 .9h.8m8.2 .5h.8m.8 .1h.8m.9-.6h.8m2.8 0h.8m170.7 .2h.8m-189.5 1.2h.8m1-.2h.8m.7 .3h.8m5-.8h.8m.3 .3h.8m.3 .4h.8m.3 .1h.8m2.3-.7h.8m-.6 .8h.8m13.3-.5h.8m159.4 .4h.8m5.4-.3h.8m-185.9 .7h.8m.2-.1h.8m176.8 0h.8m-180.5 1h.8m1.9 .1h.8m3.7 .1h.8m3.3-.2h.8m164 .8h.8m8.6-.3h.8m-192.2 1.2h.8m3.8-.7h.8m1 .8h.8m-.1-.6h.8m-.3 .3h.8m6-.6h.8m7.8 .1h.8m.4 .5h.8m160.9-.3h.8m-.4-.3h.8m-190.7 1.4h.8m9.4 .2h.8m1.7 .2h.8m9.5 0h.8m2.1-.7h.8m-20.7 1.3h.8m2.3-.1h.8m-1.1 1.1h.8m178.6 0h.8m-.1 1h.8m2 .2h.8m-188 2h.8m126-.6h.8m-122.2 1.6h.8m6.8-.1h.8m5.5-.1h.8m160.8 .1h.8m5.9-.3h.8m4.1-.2h.8m.8 .5h.8m-14 .5h.8m5.5 1.7h.8m-187.8 1.1h.8m77.5 0h.8m47.9-.2h.8m56.3-.3h.8m.7-.2h.8m2.3 .5h.8m-187.1 1.2h.8m.2-.5h.8m1.9 0h.8m4.5 .5h.8m74.5-.8h.8m41.5 .1h.8m.7 .3h.8m54.2-.2h.8m3 .1h.8m1.2 .2h.8m3.7-.2h.8m-191 1.5h.8m9.6-.9h.8m69.3 .4h.8m63.7 .6h.8m.3-.3h.8m24.3 .2h.8m6.5 0h.8m3.4-.9h.8m-.1 .3h.8m-184.9 .9h.8m.8 .2h.8m27.6 .2h.8m82 .3h.8m4-.1h.8m7.8-.4h.8m55.4 .5h.8m6.8 0h.8m-.2-.3h.8m.6-.4h.8m-198.3 1.6h.8m7-.5h.8m64.2-.3h.8m10.9 .7h.8m-.7-.1h.8m6.2 .1h.8m-.6 .2h.8m36.6-.4h.8m-.4 0h.8m8.6-.5h.8m5.3 .9h.8m39-.8h.8m-.5 .6h.8m2.3 .3h.8m1.7-.7h.8m-.4-.2h.8m2.2 .2h.8m-.5 .1h.8m14.5 .3h.8m-208.4 1h.8m1.6-.3h.8m24.2 .2h.8m54.9 .3h.8m2.1-.2h.8m31.7-.3h.8m1.6-.3h.8m2 0h.8m-.6 .3h.8m.4 .2h.8m2.3 .2h.8m4.6-.2h.8m4.1-.4h.8m7.1-.2h.8m-.8 .5h.8m-147.5 1.1h.8m0-.6h.8m142.8 .7h.8m45.1 .2h.8m1.3-.3h.8m-.3 0h.8m-197.1 1.1h.8m.7 .2h.8m-.3 0h.8m7.1-.9h.8m-.1 .9h.8m1.2-.8h.8m1.1 .5h.8m18.2 0h.8m43.1-.3h.8m2.8-.3h.8m47.4 .5h.8m.3-.2h.8m22.1 .2h.8m37.9 0h.8m-192.3 .6h.8m9 .9h.8m51.6-.9h.8m64 .4h.8m15.7-.5h.8m43.5 1h.8m5.1-.3h.8m-188.4 .4h.8m2 .3h.8m120.8-.3h.8m13.5 .4h.8m3.9-.2h.8m41.1 0h.8m-195.9 1.6h.8m7.2-.1h.8m1-.3h.8m19.7-.2h.8m33.2 .2h.8m12.1-.1h.8m20.6 0h.8m45.7 .2h.8m10.5 .2h.8m34.9-.7h.8m.5 0h.8m.3 .8h.8m2.9-.5h.8m.5-.1h.8m8.5 .4h.8m1-.5h.8m-201.1 1.5h.8m2.1-.1h.8m7.3-.4h.8m48.5 .4h.8m6.7-.1h.8m1.5-.3h.8m55.2-.2h.8m3.5 .9h.8m16.1-.5h.8m31.6 .6h.8m29.1-.5h.8m-214.7 1.3h.8m6.1-.6h.8m1.1 .3h.8m77.1 .1h.8m36.4-.3h.8m18 .1h.8m41.1-.3h.8m1 .7h.8m.1-.1h.8m10.7-.5h.8m-202.7 1.1h.8m4.1 .4h.8m.6-.5h.8m59.9 .1h.8m54.2 .3h.8m15.3-.1h.8m51.4 .1h.8m25.8-.2h.8m-217.3 1.5h.8m59.6-.1h.8m13.7-.5h.8m122.3-.2h.8m-180.8 1.4h.8m40.4 .2h.8m17.5-.5h.8m116.2 .7h.8m-184.9 .2h.8m6.6 1.2h.8m9.6 .4h.8m34.9-.2h.8m1.8-.3h.8m58 .5h.8m2-.5h.8m55.4 .5h.8m5.8-.1h.8m-97.5 .4h.8m-26 28.5h.8m121.1-.1h.8m-72.9 2.6h.8m-55 .5h.8m9.6 2.1h.8m117.1-.4h.8m-126.6 1.6h.8m-6.4 .6h.8m8.6-.1h.8m58.4 .5h.8m-65.7 .6h.8m7.9 .4h.8m52.1-.8h.8m69.2 .7h.8m0-.3h.8m-135.2 1.1h.8m1.9 0h.8m60.5-.3h.8m61.9 0h.8m-55.9 1.6h.8m51.8-.4h.8m.5 .3h.8m1.3-.2h.8m-118.8 .7h.8m55.8 .7h.8m59.1-.4h.8m1.2 .5h.8m6.6-.1h.8m-.8-.9h.8m-133.2 2h.8m2.2-.3h.8m1.9 .2h.8m-.4-.8h.8m.5 .4h.8m52.1-.1h.8m56.5 .2h.8m2.2-.1h.8m.9 .4h.8m11.5-.4h.8m-143.6 .9h.8m60.7 .6h.8m7.5-.4h.8m67.2-.3h.8m-128.5 1.4h.8m51.4-.2h.8m2.6-.3h.8m12.4 .6h.8m47.1-.1h.8m.9-.4h.8m.4-.3h.8m-.5 .4h.8m2.3 .3h.8m-63.2 .7h.8m59.2-.2h.8m.5 .3h.8m.3-.1h.8m1.6 .2h.8m-136 .4h.8m3.3 .1h.8m12.1 .4h.8m50.3 .5h.8m2.1-.2h.8m2.9-.1h.8m45.9-.3h.8m4.6 .3h.8m.7-.1h.8m1.6-.2h.8m1.4-.1h.8m.5 0h.8m.1 .1h.8m-.7 0h.8m.4 .1h.8m6.5 .4h.8m-133.9 .1h.8m2.2 .7h.8m50-.6h.8m61.5 .6h.8m5.8 .1h.8m2.1-.5h.8m-125.4 1.4h.8m-.8-.7h.8m50.1 .5h.8m1.2 .3h.8m25.7-.1h.8m41.9-.3h.8m-124.7 .9h.8m1.3 .2h.8m-.6 .5h.8m52.5-.7h.8m-57.8 1.4h.8m1.2-.1h.8m-.4 0h.8m.6-.2h.8m53.5 0h.8m1.3-.4h.8m2.1 0h.8m5 .6h.8m48.3 .4h.8m2.7-.3h.8m-.2-.3h.8m-118.8 .9h.8m60.6-.1h.8m52.1 .1h.8m7.7-.2h.8m.6 .8h.8m-133.4 1.1h.8m3.6-1h.8m-.7 .8h.8m58.9-.4h.8m3.3 .4h.8m1.9-.6h.8m-69.5 1.6h.8m6.9-.1h.8m.1-.4h.8m114.2-.2h.8m1.1 .3h.8m-121.3 1.3h.8m120.5 0h.8m-133.1 1.2h.8m8-.8h.8m86.9 .1h.8m-88.5 1h.8m60.1 .3h.8m9-.4h.8m-75.5 1.1h.8m67.1 0h.8m85.4 .7h.8m-152.4 1.1h.8m2.1-.1h.8m-.3-.5h.8m50.6-.3h.8m4.9 .1h.8m65.3 .4h.8m-132 1.3h.8m3.7-.6h.8m23.5 .6h.8m34.6-.7h.8m1.8 0h.8m1.4 .2h.8m49.5-.1h.8m1.7-.1h.8m-117.1 .8h.8m2.4 .8h.8m.5-.1h.8m48.9-.6h.8m14.5-.1h.8m-66.3 1.4h.8m45.4 .3h.8m.4-.3h.8m3.9 .1h.8m.3 0h.8m.2-.3h.8m4.7 .8h.8m1.4-.1h.8m55.5-.4h.8m2.1 .3h.8m10.3 .1h.8m2-.2h.8m-147.1 1.2h.8m7.9 0h.8m4.4-.5h.8m.8 .5h.8m41-.3h.8m4.9 .2h.8m.2-.2h.8m5.3-.6h.8m25 .8h.8m29.5-.7h.8m5.2 .7h.8m14.1-.4h.8m8.6-.3h.8m-147.9 1.8h.8m2.5 .1h.8m49.5-.9h.8m14 0h.8m45.5 .1h.8m.4 .2h.8m-.2 .4h.8m-116.9 .5h.8m56.6 .7h.8m-.6-.2h.8m25.5-.1h.8m26.1-.1h.8m8.2-.6h.8m-133 1.6h.8m9.2-.2h.8m4.4 0h.8m44.5 .2h.8m8.6-.1h.8m.3-.1h.8m54.4 .6h.8m1.1-.5h.8m-119.6 1h.8m2.7-.3h.8m47-.1h.8m12.5 .4h.8m-63.1 1.4h.8m-.4-.6h.8m2.8 .1h.8m52.7-.4h.8m56.1 .5h.8m2.4-.4h.8m-114.3 1.1h.8m22.5 .1h.8m31.5 .3h.8m-.2 .3h.8m9.2-.9h.8m42.2 .3h.8m2.7 .6h.8m2.7-.9h.8m2.4 .3h.8m14.5-.1h.8m7.8 .5h.8m-143.2 .9h.8m110.6-.5h.8m-114.4 1.8h.8m50.3-.6h.8m62.9 .1h.8m-.5 .4h.8m-.3 .1h.8m-.7-.6h.8m-117.5 1.5h.8m.4-.5h.8m11.2 .3h.8m35.4 .2h.8m2.2-.6h.8m19.3 .7h.8m37.3 0h.8m.1-.3h.8m36.7-.4h.8m-157.4 1.3h.8m6.4-.4h.8m6.1 .4h.8m46.3 .4h.8m5.8 0h.8m53.6-.9h.8m13.9 .1h.8m-79.8 1.1h.8m35.6 0h.8m-95.7 1.1h.8m7.6-.1h.8m53.5 .3h.8m57.7 .1h.8m1.2-.6h.8m1.2 .5h.8m1.3 .2h.8m-116.6 .9h.8m17.1-.1h.8m38.8 .1h.8m49.1-.4h.8m3.2-.2h.8m-112.8 1.8h.8m45.8 .2h.8m33.9-.4h.8m.6-.3h.8m38.6-.1h.8m-36.9 .9h.8m-273.7 7.7h.8m54 .6h.8m8.1 .3h.8m.4-.6h.8m-88.6 1h.8m3.6 .9h.8m11.9-.3h.8m14.2-.1h.8m35.3-.3h.8m7.6 .6h.8m-.6 0h.8m.8-.2h.8m8.8-.3h.8m-184.2 1.4h.8m7.7-.1h.8m50.6-.5h.8m4.8 .1h.8m21.5 .6h.8m10.6-.8h.8m11.1 .2h.8m9.3 .1h.8m5.2 .1h.8m0 .4h.8m35.5 .1h.8m1.8-.3h.8m5.6-.4h.8m.3 0h.8m4.7-.3h.8m1.3 .5h.8m.8-.2h.8m-.5 .2h.8m-.4-.4h.8m-.3 .8h.8m.1-.6h.8m.1 0h.8m1.3 .2h.8m-209.6 .9h.8m18 .4h.8m48.2-.4h.8m7.3 .1h.8m2.3 .4h.8m8.9-.7h.8m39.6 .6h.8m63.7-.5h.8m-.7 .5h.8m.2-.6h.8m.5 0h.8m0 .4h.8m1.1-.3h.8m2.2 .6h.8m1.7 .1h.8m-.1-1h.8m.7 .2h.8m-199.2 .9h.8m64.1 .4h.8m0 .4h.8m4.3-.9h.8m30.7 .3h.8m28.7 .6h.8m3.6-.4h.8m-.4-.1h.8m4.8-.1h.8m38.3 .3h.8m.5-.2h.8m1.3-.3h.8m3.4 .1h.8m.2 .1h.8m4.6-.3h.8m-182.9 1.5h.8m6.4-.3h.8m40.8 .4h.8m7.4 .4h.8m1.9-.9h.8m.2 0h.8m38.3 .4h.8m.1 .3h.8m3.9-.6h.8m2.6 .8h.8m54.2-.9h.8m8 .7h.8m1.7 0h.8m.1-.2h.8m3.6-.4h.8m-.5 .6h.8m-.1-.3h.8m4.2 .4h.8m-208.2 .6h.8m8.8 0h.8m8.3-.3h.8m58.8 .2h.8m8.1 .4h.8m22.6-.1h.8m10.9-.6h.8m68 .6h.8m12-.2h.8m-.3-.3h.8m.9-.2h.8m-211.4 1.6h.8m69.3 .3h.8m10 .1h.8m-.3-.1h.8m3.8-.1h.8m.9 .2h.8m31.7-.4h.8m.8 .1h.8m13.9-.6h.8m11.9 .4h.8m3.6-.5h.8m40.7 .4h.8m4.7-.4h.8m4.8 .8h.8m1.8 .1h.8m-209.5 .7h.8m11.2-.5h.8m3.8 .6h.8m68.1-.6h.8m.1 .3h.8m.3 0h.8m-.1 .3h.8m-.3 0h.8m29.4 .2h.8m6.2-.2h.8m5.8-.5h.8m2.5-.2h.8m16 0h.8m36.8 .8h.8m7.9-.4h.8m-.8 .4h.8m8.3-.5h.8m-199.6 1.2h.8m9.8-.1h.8m2.3 .1h.8m89.2-.1h.8m27.4 0h.8m10.3-.2h.8m37.5 .5h.8m-.5-.2h.8m6.6 0h.8m1.1 .1h.8m12.1-.5h.8m-184.2 1.3h.8m55.5-.3h.8m1.6 .8h.8m2.1 .1h.8m17.4-.1h.8m5-.3h.8m3.6-.1h.8m12.2 .4h.8m9.7-.1h.8m5.1-.7h.8m1.8 .7h.8m34.7-.5h.8m9.6 .2h.8m6.5 .2h.8m.8-.4h.8m.6 .5h.8m1.5-.3h.8m-197.3 .5h.8m1.1 .7h.8m6.2 0h.8m1.4-.5h.8m51.4 0h.8m7.7 .4h.8m1 .3h.8m1 0h.8m5.2-.2h.8m19.1 .2h.8m1.7 0h.8m6.7-.4h.8m10.3 .4h.8m2.6 .1h.8m47-.8h.8m0 .2h.8m3.5 .3h.8m2-.2h.8m4.9 .1h.8m.7 .1h.8m3.1-.2h.8m2.2-.1h.8m-.4 .2h.8m-197 1.4h.8m.6-.9h.8m4.6 .5h.8m.9 .1h.8m51.1-.3h.8m6-.2h.8m1.1 .5h.8m1.9-.5h.8m1 .1h.8m.2 .4h.8m1.8 .1h.8m18.6 0h.8m2.2-.2h.8m15.7 .1h.8m11.4 0h.8m4.3 .3h.8m3.4-.1h.8m40.6-.4h.8m2 .5h.8m4.4-.9h.8m2.7 .1h.8m-.6-.1h.8m2.9 .4h.8m.2-.1h.8m-.2 .4h.8m-210.7 1.2h.8m6-.6h.8m8.1 .1h.8m1.8-.3h.8m13.3 .8h.8m35.2-.7h.8m18.4 0h.8m30.4-.1h.8m67.1 .6h.8m2.5-.3h.8m.7 0h.8m5.6-.5h.8m1.2 .5h.8m6.2 .4h.8m-.2-.8h.8m3.6-.1h.8m-200.7 1.6h.8m8.8-.2h.8m60-.3h.8m-.3 .1h.8m2.4 .2h.8m2.4-.1h.8m-.4 .1h.8m3 .1h.8m.9-.1h.8m23.1 .3h.8m2-.4h.8m19.6 .4h.8m3.7 .2h.8m39.8-.1h.8m4.9-.6h.8m.9 .4h.8m2.5-.3h.8m4.7 .6h.8m2-.2h.8m-190.7 1.2h.8m8.7-.9h.8m50.1 1h.8m-.3-.1h.8m1.8-.6h.8m.3 .3h.8m4.2-.5h.8m1 .1h.8m-.3 .6h.8m-.8-.6h.8m17.7 .7h.8m21.3 0h.8m-.3-.5h.8m4-.1h.8m.4 .5h.8m7.3-.4h.8m3.6 .4h.8m-.4-.2h.8m54.5-.1h.8m3.6-.2h.8m-207.6 .9h.8m3.8 0h.8m4 .5h.8m.6-.3h.8m2.2 .1h.8m.6 .2h.8m4.1 .1h.8m4.4-.6h.8m54.4 .3h.8m1.2 0h.8m-.4 .5h.8m7.9-1h.8m16 .1h.8m8.2 .5h.8m3.6 .1h.8m1.1 .2h.8m1.5-.3h.8m2 .1h.8m5.6-.7h.8m1.3 .3h.8m8 .6h.8m4.1-.7h.8m0 .7h.8m35.7-.1h.8m10.8-.7h.8m.4 0h.8m-.3 .5h.8m-.4 .2h.8m3.1-.1h.8m-.4-.1h.8m-208.8 .4h.8m10.2 .5h.8m-.5 .2h.8m.2-.5h.8m-.6 .7h.8m5.6-.6h.8m62.4-.1h.8m.8 .5h.8m1.7-.5h.8m1.7 .7h.8m.3-.5h.8m.7 .2h.8m2.2-.5h.8m23.2-.1h.8m4.4 1h.8m1.7-1h.8m16.7 .7h.8m-.2 .3h.8m64.7-.6h.8m-200.5 1.1h.8m-.4-.4h.8m-.8 .6h.8m-.1-.4h.8m10 .4h.8m1.1 .2h.8m60-.2h.8m.2-.6h.8m-.6 .8h.8m-.2 .1h.8m-.2-.2h.8m-.6 0h.8m.1-.1h.8m-.5 0h.8m1.2-.3h.8m.9-.2h.8m19.7 .4h.8m12.7 0h.8m1.5-.1h.8m5-.1h.8m8.3 .3h.8m8-.4h.8m36 .7h.8m9-.4h.8m2.4-.5h.8m3.4 .2h.8m-195.6 1.2h.8m3.1 .4h.8m10.3-.3h.8m.7-.2h.8m40.2-.4h.8m.6 .3h.8m11.8 .6h.8m3.2-.3h.8m-.4-.1h.8m.7 .4h.8m45.9-.8h.8m.2 0h.8m.2 .7h.8m59.9-.7h.8m2.7 .8h.8m.9-.2h.8m4.2-.5h.8m-211.1 1.3h.8m7.4 .2h.8m3.5-.3h.8m62.9-.3h.8m4.4 .4h.8m-.1 0h.8m1.2 .5h.8m-.1-.6h.8m5.4 .1h.8m.1 .4h.8m-.1-.8h.8m30.9 .2h.8m2.9 .4h.8m5.6-.3h.8m3 .3h.8m13.8-.2h.8m38.5 .5h.8m4.4-1h.8m.2 .3h.8m9.3 0h.8m-203.6 1.7h.8m7.3-1h.8m2.4 .1h.8m63.8 .4h.8m5 .4h.8m-.2-.6h.8m.7 .1h.8m-.6 .4h.8m.8-.2h.8m-.1 .1h.8m23.6 0h.8m19 .1h.8m.6-.2h.8m.6-.1h.8m1.8 .1h.8m12.9 0h.8m.1-.3h.8m43.7 .4h.8m.4-.4h.8m.9 .7h.8m6.5-.8h.8m.1 .4h.8m-.1 0h.8m-205.3 1.1h.8m.4-.2h.8m1.2-.2h.8m.7-.1h.8m70.8 .6h.8m2.2-.1h.8m-.2-.1h.8m.1 .3h.8m1-.7h.8m1.7 0h.8m17.5 .4h.8m5.1-.2h.8m3.3-.2h.8m6.1 .6h.8m11-.6h.8m4.7 .4h.8m.9-.2h.8m1.3 .3h.8m40.5-.1h.8m5.5 0h.8m.3-.2h.8m.7 .1h.8m5.6 .4h.8m4.8-.2h.8m1.4 0h.8m.4-.1h.8m.6 .1h.8m-206.2 1.1h.8m-.1 0h.8m-.4-.4h.8m-.7 .3h.8m.9 .3h.8m62.2-.8h.8m9.6 .5h.8m29.1-.6h.8m-.2 0h.8m10.7 .8h.8m6.1-.6h.8m2.7-.1h.8m-.7 .6h.8m3.7-.2h.8m1.5-.2h.8m-.4-.2h.8m.6 0h.8m1.2 .3h.8m38.2 .4h.8m4.3-.9h.8m6.7 .4h.8m7.8 .2h.8m-202.3 1.1h.8m62.7-.4h.8m13 .3h.8m3.5-.3h.8m22.3 .6h.8m1.9-.2h.8m21-.1h.8m.9-.1h.8m-.4-.2h.8m4 .2h.8m49.8-.4h.8m2.6 .3h.8m.1-.3h.8m.7 .4h.8m2 .1h.8m-202.4 .9h.8m5.5 .2h.8m-.6-.1h.8m3.5-.1h.8m2.7 .4h.8m61.1 0h.8m2.7-.7h.8m4 .5h.8m1.4-.6h.8m1 .2h.8m2.4 .4h.8m23.1-.4h.8m-.2 .1h.8m1.9 .2h.8m11.1 .3h.8m.7 0h.8m1.2-.6h.8m2.6 .7h.8m7.5-.6h.8m46.5 .5h.8m11.1 .1h.8m3.4 0h.8m-206.2 .5h.8m-.5 .3h.8m1.6 0h.8m.6-.4h.8m-.2-.4h.8m3.4 .1h.8m61.8 .4h.8m6-.3h.8m5.3 .1h.8m21.5-.2h.8m4.4 .4h.8m0 .2h.8m9.3-.1h.8m6.1-.6h.8m5.3 .3h.8m51.4 .7h.8m-.1-.9h.8m5.9 .5h.8m1-.4h.8m4.1-.1h.8m-.1 .3h.8m-.2-.3h.8m.9 0h.8m-218.5 1.2h.8m8.8 .1h.8m1.5 .2h.8m66.2 .1h.8m16-.5h.8m1.6 .1h.8m21.9 0h.8m2.1 .5h.8m3.8-.8h.8m-.1 .7h.8m4.7-.2h.8m.1 .2h.8m7.8-.1h.8m-.2-.2h.8m5.3-.4h.8m46.7 .7h.8m7.2-.3h.8m2.5 .6h.8m2.4-.5h.8m-205.5 1.1h.8m6.1-.5h.8m-.3 .1h.8m1.4 .5h.8m1-.2h.8m-.4 0h.8m4.5 .3h.8m57.9 .1h.8m3.6-.6h.8m1.4 .2h.8m3.3 .4h.8m-.1-.1h.8m-.6-.8h.8m7.1 .9h.8m27.4-.5h.8m8.6 .3h.8m4.9-.3h.8m1.6 .3h.8m46-.6h.8m4.5 .7h.8m2.4-.7h.8m10.3 .1h.8m2.4 .7h.8m-206.5 .4h.8m-.2-.2h.8m.6 .4h.8m.7 .2h.8m-.8 .2h.8m-.3-.9h.8m.3 .6h.8m41.7 .3h.8m14-.5h.8m17.5-.2h.8m1.4 .1h.8m35.3 .3h.8m4.1 0h.8m2.6-.5h.8m5.4-.1h.8m2.6 .2h.8m-.5 .5h.8m55.4-.6h.8m-.8 .6h.8m-.6 .3h.8m1.9-.4h.8m-.6 .3h.8m3.4-.6h.8m-.5 .4h.8m-211.2 .7h.8m8.9-.3h.8m.5 .4h.8m7-.4h.8m5.3 0h.8m49 .8h.8m3.9-.4h.8m7.1-.3h.8m2.3 .6h.8m-.6 0h.8m5.2 0h.8m25.3 0h.8m17.4-.4h.8m5.5-.1h.8m51.5 .2h.8m2.2 .1h.8m1 .2h.8m-.4-.2h.8m1.3-.6h.8m-194.3 1.1h.8m1 .9h.8m.2-.3h.8m63.6 .2h.8m.7-.4h.8m.2 .2h.8m3-.7h.8m-.7 .2h.8m2.7 .8h.8m.6-.7h.8m3 0h.8m15.8 0h.8m5.1-.1h.8m8.5 .6h.8m1.5-.7h.8m1.1 .8h.8m6.4-.7h.8m54.5-.1h.8m2.7 .2h.8m0 .6h.8m.2-.4h.8m-.1-.2h.8m3.6-.1h.8m.7-.1h.8m.1 .8h.8m1.4-.2h.8m-.6 0h.8m-.4-.2h.8m-.1-.3h.8m-.3-.2h.8m-206.1 1.5h.8m0 .3h.8m1.4-.5h.8m2.4 0h.8m1.7 .2h.8m-.5-.2h.8m.7 .2h.8m47.4-.1h.8m19.7 0h.8m6.4-.2h.8m1 .7h.8m.4-.2h.8m19.2-.4h.8m12.1-.2h.8m8 .3h.8m5.7-.1h.8m49.4-.3h.8m-.8 .1h.8m9.2 .1h.8m1.6 0h.8m4.3 .5h.8m-.6-.4h.8m-217.3 1.7h.8m1.8-.9h.8m4.2 .2h.8m1.5 .6h.8m1.3 0h.8m-.3-.5h.8m2-.2h.8m2.1 .8h.8m.2-.8h.8m61-.2h.8m6.5 .7h.8m2.8-.3h.8m.7 .5h.8m0 0h.8m2.1-.1h.8m3.4-.3h.8m20.6-.3h.8m.3 .1h.8m-.6-.1h.8m.4 0h.8m6.1-.1h.8m6.3 .7h.8m1.4-.7h.8m2.5 .2h.8m60.9 .5h.8m3.3-.2h.8m4.4-.4h.8m-211.3 1.8h.8m3.3-.6h.8m-.1 .1h.8m-.3 0h.8m-.3-.2h.8m-.5 .3h.8m-.3-.4h.8m-.2-.2h.8m-.5 .3h.8m-.5 .2h.8m-.6-.4h.8m.6 .4h.8m3-.3h.8m.7 .4h.8m-.7 0h.8m49.9-.1h.8m9.4-.2h.8m-.5 .6h.8m.4-.8h.8m.2 .1h.8m2.2 .5h.8m-.2-.4h.8m3.1 .4h.8m.4-.2h.8m28.6 .3h.8m.4-.6h.8m17.5 .1h.8m1.9-.2h.8m1.4 .5h.8m58-.1h.8m.6-.3h.8m-208 1.6h.8m7.8-.3h.8m.3-.2h.8m1.5 .3h.8m.3-.2h.8m.3 0h.8m.4 0h.8m.7-.4h.8m-.4 .2h.8m1.1 .2h.8m57.7-.1h.8m1.6 .4h.8m1.7-.3h.8m-.3 .1h.8m-.4-.4h.8m2.8 .9h.8m3.3-.3h.8m2.3-.1h.8m-.6-.2h.8m1.1-.1h.8m-.7 .3h.8m.6 0h.8m-.6-.3h.8m27.2-.1h.8m8.4-.1h.8m8.3 .1h.8m54 .2h.8m2 .1h.8m2.4 .4h.8m1.2 0h.8m1.9-.5h.8m4.7-.2h.8m3.7 0h.8m-219.1 1.5h.8m2.4-.5h.8m.5 0h.8m.4-.1h.8m.9 .8h.8m.7 0h.8m1.1-.4h.8m-.1 0h.8m-.5-.3h.8m0 .1h.8m-.6 .4h.8m64.8-.4h.8m.7 0h.8m1.4 .3h.8m52.1 .3h.8m4.5-.2h.8m58.9-.5h.8m1.2 .4h.8m.2-.5h.8m5.8 .3h.8m1.4 .2h.8m5.8 .2h.8m-222 1h.8m2.3 0h.8m.2-.2h.8m9.8 .1h.8m3.1-.1h.8m.4-.4h.8m54.3 .5h.8m4.8-.5h.8m.3 .7h.8m2.6-.3h.8m3.7 .3h.8m4.4 0h.8m1.2-.3h.8m24.2-.2h.8m77.1-.3h.8m.1 .4h.8m3.4-.2h.8m1.9 .6h.8m-.5-.5h.8m5-.2h.8m5.7 .2h.8m.3-.2h.8m-220.1 1.3h.8m4.3-.4h.8m1.5-.1h.8m-.6 .3h.8m-.7 .2h.8m.9-.4h.8m-.3 .6h.8m.5-.1h.8m3.3 .3h.8m53.8-.1h.8m4-.1h.8m7.4-.6h.8m2.7 .5h.8m0-.6h.8m1.8 .5h.8m4.2-.1h.8m23.6 .4h.8m4.3-.4h.8m-.4 0h.8m75 .5h.8m-203.2 .6h.8m3.6-.2h.8m5.1 .3h.8m-.6-.2h.8m60.3-.4h.8m10.5 .8h.8m.6-.5h.8m13.3-.1h.8m22.7 .7h.8m2-.4h.8m12.4-.3h.8m4.7 .6h.8m63.1 .1h.8m-202.5 .7h.8m.5-.5h.8m1.2 .2h.8m-.2 .1h.8m4 .1h.8m52.2 .3h.8m11-.8h.8m4.8 .1h.8m4.6 0h.8m1.2 .4h.8m5 .3h.8m21.1 .2h.8m4.4-.7h.8m11.4-.1h.8m62.8 .7h.8m-196.5 .4h.8m2.7-.2h.8m1.6 .1h.8m57.2 0h.8m1.6 .6h.8m50.5-.8h.8m.4 .5h.8m.7-.2h.8m-.2 .3h.8m-119.9 1.3h.8m69.5-.5h.8m14.7-.2h.8m3.3 .2h.8m.7 .2h.8m21.2-.5h.8m2.9 0h.8m86.3 .2h.8m-124.4 1.3h.8m6.1-.1h.8m-34.9 22h.8m9.6 .4h.8m-8.2 1.4h.8m-2.4 2.5h.8m.7 0h.8m8.3-.2h.8m-9.7 1.2h.8m2.3-.1h.8m2.4-.1h.8m.8 .2h.8m18 0h.8m-23.5 .8h.8m.1 0h.8m-.8-.3h.8m2.1 0h.8m-10.2 1.6h.8m7.9-.5h.8m.1 0h.8m-8.6 1h.8m-.8-.4h.8m4.7 .4h.8m6.1-.2h.8m-12.2 1.1h.8m1.8 .5h.8m-.7-.2h.8m1.5-.6h.8m.9 .5h.8m.3-.4h.8m2.9 .7h.8m-13.8 .9h.8m1.5-.2h.8m1.2-.3h.8m6.3 .6h.8m1.1-.1h.8m7.1 .2h.8m.1-.7h.8m3.6 .2h.8m-27.2 .7h.8m.3 0h.8m1.7 .3h.8m.2 .2h.8m4 .1h.8m.8-.2h.8m5.4-.4h.8m3.3 .3h.8m3.5 .4h.8m-24.3 .4h.8m3.7 .3h.8m-.3-.3h.8m22.7 .7h.8m-31.6 .4h.8m-1.9 1.5h.8m-1.7 .5h.8m3.8 .4h.8m18.2-.1h.8m5.5 .7h.8m-28.8 1.8h.8m151.7-.1h.8m-152.5 3.6h.8m125.1-.3h.8m-2.8 2.6h.8m1.3-.9h.8m-.4 .6h.8m15.8-.4h.8m-133 1.6h.8m12.5 1h.8m-20.7 .6h.8m-2.8 .9h.8m22.3 .3h.8m116 .3h.8m-146.2 .3h.8m1.9 .6h.8m6.7-.4h.8m121-.2h.8m15.5-.1h.8m4.2 .5h.8m6.2-.1h.8m-155.8 .8h.8m126.8-.1h.8m4.7 .2h.8m9.2 .1h.8m-142.6 .9h.8m.3-.4h.8m125 .7h.8m-134.2 .5h.8m10.8-.1h.8m130.4 .4h.8m-139 1h.8m-.4 .1h.8m10.7 .2h.8m109.6 .2h.8m.5-.6h.8m9-.1h.8m1.4-.2h.8m1 .2h.8m2.8 0h.8m-139.7 .9h.8m21.8 1h.8m100.6-.1h.8m12.2 .2h.8m-144.2 1.1h.8m36.5 .1h.8m92.2 .3h.8m-125.3 1.4h.8m123.3 .4h.8m5.8 .6h.8" stroke="#000" stroke-width="0.8" opacity="0.22"/>
<path d="M287.6 44.9h.8m174.3 1.2h.8m-177.2 1h.8m191.4-.2h.8m-184 1.1h.8m-10.5 1.4h.8m8.8-.9h.8m-10.7 1.5h.8m2-.2h.8m-.1 .2h.8m.3 0h.8m5.7 .1h.8m-11.7 .8h.8m8.2-.1h.8m5.8 .3h.8m-14.5 .9h.8m1 .4h.8m.1-.8h.8m.8 .5h.8m2.7 .1h.8m0-.3h.8m-11.9 1.5h.8m-.4-.2h.8m.8-.7h.8m1.5 1h.8m1.4-.5h.8m1.5-.3h.8m1.2 .7h.8m11-.3h.8m-23.2 1h.8m.4-.5h.8m1.1-.1h.8m2.4 .8h.8m.4-.8h.8m.1 .8h.8m7.3-.3h.8m-17.1 .7h.8m0 .3h.8m.4-.5h.8m1.1 .5h.8m3.5 .3h.8m.3-.2h.8m-.1-.2h.8m2.9 .5h.8m167.2-.1h.8m.6 0h.8m5.2-.5h.8m-193.7 1.6h.8m-.7-.2h.8m3.7-.3h.8m2 .5h.8m-.1-.8h.8m4.6 .1h.8m-12.5 1.5h.8m181.9-.6h.8m10.1 .8h.8m.3-.7h.8m-183.1 1.3h.8m171.6-.2h.8m5.6 0h.8m-193.4 1h.8m1.3 .6h.8m1.9-.7h.8m18.4 .7h.8m-18.7 .8h.8m5.8-.4h.8m181.5 .2h.8m5.2-.5h.8m-179.5 1.1h.8m170.2-.1h.8m-181.7 1.8h.8m178.4 .1h.8m5.1 .8h.8m-193.2 1.1h.8m175.4-.2h.8m.5 0h.8m11.9-.6h.8m-.8 .8h.8m-60 .9h.8m44-.7h.8m2.2 .8h.8m6.2-.5h.8m2.4 .6h.8m-45.1 .9h.8m44-.4h.8m-65.2 .7h.8m2.8 .7h.8m.2-.2h.8m5.6-.4h.8m49.9 0h.8m-124.4 1.5h.8m51.5-.2h.8m17.1 .1h.8m16.4 .2h.8m29-.1h.8m-96.5 .6h.8m99.4-.1h.8m-.8 .5h.8m-.6-.3h.8m1-.2h.8m-184.1 1.5h.8m9.4-.3h.8m16.8 .4h.8m91.7-.7h.8m14.7 .4h.8m48.3 .4h.8m2.7-.9h.8m-194.5 1.6h.8m3.6-.6h.8m-.7 .8h.8m.3 0h.8m55.6-.4h.8m80 .5h.8m52.6-.7h.8m-202.3 1h.8m0-.1h.8m7.5 .2h.8m2.2 .6h.8m15.7-.4h.8m9.4 .4h.8m37.2 0h.8m3.4-.4h.8m38.3-.2h.8m4.2 0h.8m4.3 .4h.8m23.4-.7h.8m34.6 .4h.8m10.4 .1h.8m-198 1.2h.8m2.6 0h.8m2.7 0h.8m12.4 0h.8m11.8-.4h.8m52.3 .2h.8m6.1-.1h.8m33.3-.4h.8m59.6 .5h.8m-.2 0h.8m-.1 0h.8m2.2 .2h.8m-.8 .3h.8m.4-.3h.8m2.3-.2h.8m.2 0h.8m8.2-.4h.8m.5 .7h.8m-208.7 .4h.8m6 .5h.8m2.4-.3h.8m2.1 .1h.8m55.9 .1h.8m49.9 .3h.8m4.9-.2h.8m5.2-.5h.8m6 .4h.8m9.4 0h.8m.7-.4h.8m32.4 .2h.8m6.7 .2h.8m3.4-.6h.8m31.4 .3h.8m-231 .9h.8m1.1-.1h.8m-.5 0h.8m.8 .7h.8m7.5-.6h.8m1.8 .5h.8m.2-.1h.8m51.3 .1h.8m16-.3h.8m2.2 0h.8m41.1 0h.8m2.2-.3h.8m16.2 0h.8m42.3 .3h.8m.9 .5h.8m.3-.5h.8m2.3-.2h.8m-195.4 1.5h.8m5.1-.3h.8m8.9 .5h.8m11 .1h.8m52.2-.4h.8m1.8 .3h.8m3.8-.7h.8m11.3 .6h.8m24.3-.6h.8m-.4 .3h.8m-.3-.4h.8m14.5 .7h.8m41.5 0h.8m10.5-.7h.8m25.4 .3h.8m-195.9 .9h.8m39.6 .4h.8m14.4-.1h.8m75.1-.4h.8m24.6 .4h.8m6.8 .4h.8m7.6-.7h.8m-197.8 1h.8m3.2-.2h.8m145.5 .3h.8m36.8 .4h.8m.3-.6h.8m.2 .5h.8m-.1 0h.8m1.4-.3h.8m.5-.4h.8m12.2 .3h.8m-203.2 1.3h.8m1-.3h.8m1.4-.2h.8m72.3 .3h.8m1.2-.1h.8m5.5-.2h.8m26.4 .9h.8m7.7-.4h.8m2.7-.1h.8m14.7-.3h.8m4.2 .6h.8m1.8 .1h.8m27.7-.6h.8m2.7 0h.8m12.9 .1h.8m-190.5 1.2h.8m28.1-.4h.8m28.9-.1h.8m11.5 .3h.8m46.8 .3h.8m.5 .2h.8m8.5-.1h.8m42.8-.4h.8m0-.3h.8m9.8 .4h.8m-.5-.2h.8m-195.7 .8h.8m-.6 .8h.8m10.7-.4h.8m3.8 .5h.8m15.6-.4h.8m29.6-.5h.8m1 .7h.8m57.8-.8h.8m1 .1h.8m17.4 .3h.8m43.4 .1h.8m7.8 0h.8m13.5-.1h.8m-211.1 1h.8m3.5 0h.8m120.1-.1h.8m68.1 .3h.8m-193.6 .8h.8m79.1-.4h.8m54.4 .3h.8m-131.1 1.3h.8m114.9-.3h.8m75.3-.2h.8m-7.6 1.3h.8m4 .2h.8m-113 .5h.8m52.4 1.2h.8m-73.1 30.2h.8m122.1 .4h.8m-70.6 .7h.8m74.1-.6h.8m-121.4 1.8h.8m57.3-.6h.8m-60.7 1.2h.8m46.2 .2h.8m8.3 .2h.8m57.8-.1h.8m-.2 .1h.8m4.9-.3h.8m-73.2 .7h.8m10.2 .5h.8m-60.3 1.2h.8m56.2-.1h.8m60-.8h.8m5.3 .9h.8m-129.9 .6h.8m4.3-.4h.8m59.7 .4h.8m53.4 .4h.8m15.2-.4h.8m-84.5 1h.8m72.4 .4h.8m-.1-.2h.8m-67.1 .5h.8m-.5 .4h.8m56.2-.2h.8m1.7-.3h.8m7 .1h.8m-.2-.1h.8m.3-.1h.8m.5 .4h.8m-77.5 1.3h.8m3-.2h.8m0-.2h.8m.2 .6h.8m58.9-.6h.8m-.2 .5h.8m5.2-.1h.8m3.3-.1h.8m-.5 .1h.8m1.1-.5h.8m-65.5 1h.8m48.7 .1h.8m8.8 .6h.8m4.3-.5h.8m-126.7 1.6h.8m114.6-.3h.8m1.8 0h.8m2-.5h.8m-.8 .2h.8m5.3 .2h.8m-131 .6h.8m114.1 .2h.8m-57.2 1.5h.8m1.7-.9h.8m2.1 .6h.8m54.4-.1h.8m3.4-.1h.8m.4 0h.8m1.3 .2h.8m-133.9 1.1h.8m10.6-.3h.8m-.2 .1h.8m-.2 .4h.8m48-.2h.8m.9-.5h.8m2.3-.1h.8m56.6 .8h.8m4.1 .1h.8m-128.8 .1h.8m3.1 .5h.8m65.4 0h.8m51.3-.2h.8m.9-.2h.8m3 .2h.8m5.6 0h.8m-138.7 1h.8m7.7 .5h.8m52.3-.9h.8m71.6 .6h.8m-127.7 1h.8m2.5-.4h.8m48.3 .4h.8m11.1-.3h.8m56.3 0h.8m.5 .7h.8m2.5-1h.8m.2 .8h.8m6.3-.6h.8m-76 1.1h.8m1.6 .3h.8m.8 .3h.8m57.2-.1h.8m4.7-.7h.8m3.2 .2h.8m-138 1.3h.8m61.3 .1h.8m-.2-.2h.8m-.3-.5h.8m4.9 .4h.8m5.5-.3h.8m63 0h.8m-133.6 1.7h.8m5.8 0h.8m8.1 .1h.8m49.5 .1h.8m90.5-.8h.8m-164.6 1.6h.8m11.8-.7h.8m17.7 .6h.8m98.1-.6h.8m-122.2 1.4h.8m5.1 0h.8m-.3 0h.8m1.8 .1h.8m48.9 .1h.8m2.1-.1h.8m1.3 .1h.8m56.1-.5h.8m-131.3 1.2h.8m12.2-.2h.8m1.1 0h.8m54.6 .5h.8m-.4 0h.8m-65.5 .7h.8m8 .4h.8m-.1-.1h.8m48.2-.5h.8m.9 .2h.8m1.3-.1h.8m2.3-.2h.8m62.1 .7h.8m1.1 .1h.8m-126.1 .2h.8m.7 .4h.8m125.6 .2h.8m-136 .8h.8m5.5-.5h.8m0 .5h.8m-.2-.4h.8m-.4 .1h.8m.8 .5h.8m52.7-.7h.8m3.1 .2h.8m1.4 .2h.8m-68.3 1.2h.8m1.5-.3h.8m1.3-.1h.8m1.6 .1h.8m1.6 .6h.8m-.1-.1h.8m51.4-.6h.8m-.4 .7h.8m1.5 0h.8m1.4-.3h.8m1.3-.4h.8m51.3 .2h.8m5.1 .1h.8m17.5-.3h.8m-143.4 1.1h.8m-.5 .5h.8m-.2-.6h.8m1.6 .3h.8m56 .1h.8m8.3 .3h.8m-72.6 .5h.8m2-.3h.8m1.7 .3h.8m2.6 .3h.8m54.1 .1h.8m-.2-.2h.8m-.7 .1h.8m-.3 .1h.8m2-.2h.8m49.6-.3h.8m6.6 .1h.8m-127.5 1.3h.8m7.6-.5h.8m.3 .8h.8m56.2-.4h.8m-.3 0h.8m1.9-.3h.8m92.9 0h.8m-163.4 .7h.8m9.5 .7h.8m52.8-.3h.8m16.2-.2h.8m69.8-.1h.8m-144.5 1.2h.8m46.7-.1h.8m1.7 .7h.8m-.3 0h.8m2.9-.2h.8m2.7-.6h.8m-.4 .9h.8m2.3-.3h.8m81.6-.1h.8m-153.5 1h.8m6-.6h.8m-.7 .8h.8m15-.3h.8m35.9 .4h.8m1.9-.5h.8m10.9 0h.8m20.7 .6h.8m27.8-.4h.8m5.3 .4h.8m6.1-.2h.8m-130.7 1.2h.8m4-.6h.8m3.2 .1h.8m42.9 0h.8m5.6 .2h.8m-.5-.3h.8m1.9 0h.8m-66 .7h.8m.4 .3h.8m1.4 0h.8m3.2 0h.8m1.7 .5h.8m20.9-.7h.8m38.1 .5h.8m53.8 .1h.8m1.5-.1h.8m.1-.6h.8m1.8 .2h.8m13.6 0h.8m17 0h.8m-162.2 1.2h.8m.4-.2h.8m-.8 .4h.8m2.8 0h.8m.3-.1h.8m50.9 .2h.8m25.1 .1h.8m35.8-.6h.8m.7 .2h.8m1.8-.3h.8m-126.9 1.8h.8m4.7-.5h.8m.6-.2h.8m50.5 .4h.8m7.7 .3h.8m21-.8h.8m37.2 .5h.8m17.9 .1h.8m5 0h.8m-155.6 .6h.8m1.1 .3h.8m1.1-.1h.8m2.3 .3h.8m3.5-.1h.8m1.4-.7h.8m67.8-.1h.8m7.8 0h.8m6.3 .4h.8m24.7 0h.8m2.9-.1h.8m-119 .8h.8m13.5 0h.8m37.9 0h.8m72.3 .4h.8m-127.5 1.2h.8m2.1-.2h.8m52.4-.3h.8m3.3 .4h.8m57.7-.6h.8m-131.1 1.4h.8m128.5-.1h.8m-4.3 .8h.8m6.7 .8h.8m-126.2 1.6h.8m-236.1 8.2h.8m41.9-.1h.8m1.9 .2h.8m3.8-.1h.8m66.5-.1h.8m.1-.5h.8m1 .4h.8m1.4-.1h.8m2.6 .3h.8m-.2 .1h.8m-194.3 .4h.8m108.9 .1h.8m3.4-.3h.8m9.8 .3h.8m2.5-.1h.8m47.9 .6h.8m1.6 0h.8m7.5 .1h.8m-.8-.2h.8m1.3-.1h.8m2.8 .4h.8m-185.9 .8h.8m45.8-.5h.8m33.7 .7h.8m2.9-.7h.8m24.6 .6h.8m6.1-.1h.8m7.8-.8h.8m35.5 .8h.8m4.1-.7h.8m.1 .6h.8m1.7-.6h.8m1.9 .2h.8m-.3-.1h.8m1 0h.8m-.6 .4h.8m.8 .3h.8m.8-.3h.8m5.6-.6h.8m-211 1.1h.8m128.2 .1h.8m2.7 .2h.8m11.1-.3h.8m.7 .6h.8m5.3 0h.8m47.3-.3h.8m5 .2h.8m4.2-.3h.8m-.7 .3h.8m-198.3 1.4h.8m77.2-.6h.8m15.2 .2h.8m12.6-.2h.8m9.3-.3h.8m17.1 .3h.8m2.2-.3h.8m44.8 .3h.8m2.6-.1h.8m.5 .6h.8m2.3-.7h.8m.3 .7h.8m5-.5h.8m-198.1 .9h.8m57-.1h.8m6.6 0h.8m33.5 .5h.8m6.5 .1h.8m10.6 .2h.8m12.9-.4h.8m-138.1 1.1h.8m74.5-.4h.8m1.2 .1h.8m22.1 .3h.8m-.2-.4h.8m9.2 .3h.8m2.8-.2h.8m13.3-.2h.8m58.6 .4h.8m8-.5h.8m-196.9 1.1h.8m3.4 .3h.8m7.4 .3h.8m57.1-.8h.8m32.4 .9h.8m3.2-.9h.8m1 .9h.8m.7-.7h.8m.4 .2h.8m8.1 .6h.8m-.8-.3h.8m9.2-.6h.8m2.9 .5h.8m48.1-.3h.8m4.1-.3h.8m5 .1h.8m-.7 .2h.8m-183.9 .8h.8m6.4 0h.8m47.7 .5h.8m3.3-.5h.8m33.3 .7h.8m2.9-.5h.8m4.2 0h.8m3.9 .3h.8m7.1 .2h.8m.3-.8h.8m50.9 .3h.8m-.5-.3h.8m3.8 .9h.8m-.4-.4h.8m.2-.2h.8m3.5 .3h.8m5.5-.4h.8m-198.7 1.3h.8m3.8-.2h.8m12.6 .6h.8m40.6-.7h.8m5.3 .3h.8m14.2 .5h.8m17.4-.1h.8m1.7-.5h.8m8.6-.3h.8m4.6 .2h.8m14.2-.3h.8m1.8 .1h.8m4.8 .3h.8m37.8-.3h.8m23.2 0h.8m-193.8 .9h.8m64.7 .5h.8m.2-.1h.8m4-.2h.8m.5 .3h.8m27 .1h.8m-.4-.4h.8m3.1-.1h.8m27.8 .1h.8m39 .2h.8m-.1 .5h.8m2.2-.5h.8m-.4-.2h.8m.3 .5h.8m13.6 .1h.8m-199.6 .7h.8m6.9-.1h.8m44.1 .1h.8m3.5-.3h.8m6.1 .1h.8m4.6 0h.8m.3 .6h.8m70.8-.6h.8m41.6-.3h.8m1.6 .4h.8m10.6 .1h.8m.4 .4h.8m-202.2 .9h.8m5.7-.3h.8m4.6 .5h.8m.8-.2h.8m57.3-.2h.8m2.3 .1h.8m1.2-.5h.8m-.8-.1h.8m.3 .5h.8m31.7 .4h.8m12.7-.2h.8m1.3-.3h.8m7.7-.2h.8m52.6 .2h.8m1.5 .1h.8m.7 .2h.8m2.9-.5h.8m1.7-.2h.8m2.2 0h.8m-210.7 1.1h.8m9.3 .3h.8m1.1-.1h.8m12.3 .1h.8m-.5-.2h.8m58 .7h.8m2.2-.8h.8m35.2 .7h.8m6.8-.5h.8m55 .1h.8m1.5-.2h.8m2.8 .1h.8m9-.2h.8m1 .6h.8m-.2-.8h.8m.5 .5h.8m.8-.4h.8m-195.9 1.1h.8m5.2 .1h.8m-.6 .3h.8m5.6 .2h.8m48.3-.5h.8m5.4 0h.8m2.4 0h.8m32.2 .7h.8m-.2-.7h.8m7.4 .3h.8m11.9 .3h.8m6 .1h.8m-.3-.3h.8m1.4-.3h.8m46 0h.8m.7-.2h.8m2.5 .2h.8m1.2 .1h.8m-.6-.3h.8m6.9 .6h.8m-.1 .1h.8m-187.3 .6h.8m59.1-.2h.8m.2 .3h.8m2 .1h.8m5.6-.1h.8m17.2-.4h.8m6.9 .2h.8m7.5 .5h.8m3-.3h.8m-.6 .1h.8m1.3-.6h.8m6.2 .5h.8m7.5 0h.8m40.9-.1h.8m.5 0h.8m10.2-.4h.8m1.4 .5h.8m-195.7 1h.8m2.1 .3h.8m3.3-.2h.8m65.1-.1h.8m6.4 .1h.8m18-.7h.8m5.1 .3h.8m6-.3h.8m-.8 .4h.8m12.2 .6h.8m3.1-.6h.8m2.2 .1h.8m-.7 .4h.8m4.8-.3h.8m40.2 .3h.8m3.6-.9h.8m4.6 .8h.8m8.6-.1h.8m3.3-.3h.8m-200.8 .7h.8m11.6 .7h.8m-.6-.7h.8m49.7 .7h.8m1.4-.2h.8m1.9 .2h.8m1.6-.3h.8m-.3 .1h.8m.5 .3h.8m1.3-.7h.8m.9 .3h.8m2.4-.4h.8m40.2 .6h.8m0 .2h.8m18.3-.6h.8m.5-.1h.8m37.1 .5h.8m-.6-.4h.8m9.3 0h.8m.4-.1h.8m1.2 .4h.8m4.2 0h.8m2-.5h.8m-210.9 1.4h.8m4.2-.3h.8m8.5 .5h.8m7-.3h.8m52.1-.3h.8m3 .7h.8m.5-.6h.8m7.7 0h.8m26.5 .2h.8m4.1 .2h.8m5.3 0h.8m.2 .1h.8m2.9 .3h.8m2.8-.1h.8m.9-.8h.8m.3 .5h.8m12 0h.8m36.6 .3h.8m8.1-.9h.8m2.9 .7h.8m.7 .3h.8m2.1-1h.8m4.6 .2h.8m-211 .9h.8m2.9 .7h.8m-.5 .1h.8m1.2-.4h.8m2.8 .1h.8m.6-.2h.8m4.6 .3h.8m54.7-.3h.8m-.8-.1h.8m.4 .3h.8m1 .2h.8m4.5-.3h.8m30.8-.4h.8m11.8 .5h.8m12.7 0h.8m48 .2h.8m7.2 .2h.8m7.7-.4h.8m3.1 0h.8m-204 1.1h.8m.1-.1h.8m2.4 .3h.8m.4 0h.8m1.6-.5h.8m-.3 .3h.8m.2 0h.8m0 0h.8m1.1-.7h.8m.1 .2h.8m61.6 .1h.8m.2 .1h.8m-.6 .4h.8m-.3 .1h.8m6.5-.7h.8m21.8-.2h.8m.4 .6h.8m21.9-.4h.8m-.3 .5h.8m-.7-.5h.8m.8 .1h.8m2-.1h.8m.5 .5h.8m4.8-.1h.8m-.6-.4h.8m1.9 .8h.8m37.6-.8h.8m5.5 .4h.8m-.4 .4h.8m2.8-.8h.8m7.6 .3h.8m.9 .1h.8m-206 1.1h.8m.4 .2h.8m-.1-.7h.8m1.2 .4h.8m3 .3h.8m-.3 0h.8m.6 0h.8m2.5-.1h.8m6.1-.7h.8m43.5 .6h.8m9.8 .1h.8m-.1-.5h.8m2.4 .4h.8m23.8 0h.8m3.3-.3h.8m11.9-.1h.8m.6 .1h.8m5.9 .3h.8m-.8 .2h.8m1.8-.4h.8m2.6-.5h.8m10.3 .2h.8m38.7 .5h.8m17.4-.5h.8m.6 .2h.8m.3 .1h.8m.3-.2h.8m-209.9 1h.8m.7 .6h.8m.3 .1h.8m-.7-.5h.8m6.1-.3h.8m.1 .6h.8m2 0h.8m.8-.7h.8m38.8 .2h.8m14.7 .6h.8m1-.3h.8m3.1 0h.8m.5 .1h.8m4-.2h.8m27.1-.2h.8m3.5 .2h.8m7.6 .4h.8m0 0h.8m11.9-.5h.8m-.1-.2h.8m47 .2h.8m1.8-.3h.8m2.6 .1h.8m5.4 .4h.8m4.9-.5h.8m-220.3 1.7h.8m12.8-.3h.8m7.1 .2h.8m-.5-.4h.8m.2 .6h.8m-.6-.4h.8m1.4 0h.8m1 .4h.8m-.6-.5h.8m1.5 .6h.8m.8-.6h.8m.1-.4h.8m51.1 1h.8m2-.4h.8m7.9-.3h.8m4.9 0h.8m-.6-.1h.8m22.3 .8h.8m3.5-.5h.8m1.6-.1h.8m11.9-.1h.8m4.5 .2h.8m1.2-.5h.8m.2 .9h.8m1.4-.9h.8m47.1 .5h.8m18 .3h.8m2.3 0h.8m-212.9 .5h.8m2.9 .1h.8m10.9 .3h.8m70.8 .1h.8m1-.2h.8m-.7-.1h.8m2.4-.2h.8m20.8 .4h.8m.9-.5h.8m2.3 .1h.8m1.3 .1h.8m.4 .4h.8m-.4 .2h.8m1.5-.7h.8m.1 .1h.8m9.1 .4h.8m3.6-.2h.8m2.8 0h.8m44.4-.5h.8m2.4 .3h.8m2.2 0h.8m-.4-.4h.8m5.5 .9h.8m1.3-.7h.8m10.4 .4h.8m-221.6 1.2h.8m9.1-.3h.8m2-.2h.8m1.9 0h.8m.7 0h.8m.8 .5h.8m.2-.6h.8m2.2 .7h.8m-.6-.4h.8m3.5 .4h.8m2.9-.5h.8m35-.3h.8m16.4 .3h.8m9-.2h.8m-.3 .5h.8m27.2 .2h.8m1.9-.2h.8m4.6-.1h.8m7.2-.3h.8m7.7 .3h.8m3.5-.6h.8m44.2 .9h.8m3.5-.4h.8m7.2 .1h.8m2.1 0h.8m.7-.3h.8m-.8 0h.8m.5 .7h.8m-211.8 0h.8m11.7 .4h.8m-.4 .5h.8m.7-.5h.8m3.3 .3h.8m60.9-.4h.8m.7 .1h.8m2.3 .5h.8m2.8-.2h.8m.1 .3h.8m.4-.7h.8m-.6 .4h.8m38.5-.2h.8m.6 .5h.8m2.4-.1h.8m2 0h.8m5.3-.7h.8m2.7 .1h.8m52.7 .3h.8m-.3 .3h.8m-.3 .1h.8m2-.2h.8m-191.9 .8h.8m39.7-.1h.8m18.9 0h.8m5 .4h.8m.7-.3h.8m8.2 .1h.8m2.2-.3h.8m25.7 0h.8m-.1 .3h.8m.2 .1h.8m10.7 .2h.8m.5-.9h.8m4.1 .9h.8m1.8-.8h.8m3.7 .2h.8m1.3 .5h.8m.2-.6h.8m65.6 0h.8m-.5 .2h.8m-207.6 1.3h.8m0-.3h.8m-.3 .2h.8m-.5 .2h.8m2.6 0h.8m43.7-.9h.8m22.6 .8h.8m35-.4h.8m.3-.1h.8m4.7 .1h.8m77.2 .4h.8m5.1-.6h.8m4.5-.1h.8m2.1 .5h.8m-207.6 .6h.8m-.1 .1h.8m-.5 .4h.8m4-.1h.8m64.3-.2h.8m4-.4h.8m7.5 .2h.8m28.4 .8h.8m19-1h.8m-.2 .3h.8m-.2 .1h.8m0 0h.8m-.1 .5h.8m2.2-.7h.8m46.1 .7h.8m.1-.7h.8m3.5 .6h.8m4.1 0h.8m1.2 .1h.8m.6-.8h.8m.8 .8h.8m-.3-.8h.8m-208.6 1.3h.8m10-.1h.8m46.7 .1h.8m19.3-.1h.8m3 0h.8m-.1 .1h.8m6.5 .3h.8m23 .1h.8m-.2-.4h.8m1.3 .1h.8m3.5-.4h.8m13.2 .7h.8m.3-.4h.8m2.4 .4h.8m52.7-.7h.8m9.7 .6h.8m1-.1h.8m-203.3 1h.8m-.3-.3h.8m1.3 .1h.8m0-.3h.8m4.3 .8h.8m3.9 .1h.8m1.9-.5h.8m51.3 .1h.8m9.7 .3h.8m2.9-.6h.8m-.6 .3h.8m-.3 .1h.8m7.4-.5h.8m.3 .2h.8m-.3 .4h.8m16.8-.5h.8m1.6-.2h.8m2.8 .7h.8m14.8-.3h.8m59.1-.4h.8m3 .8h.8m4.8-.4h.8m7-.2h.8m.1 .5h.8m-210.1 .8h.8m-.4 .2h.8m-.7-.7h.8m-.5-.1h.8m-.4 .4h.8m3.8-.1h.8m-.3-.2h.8m-.1 .1h.8m.8 .3h.8m2.2-.3h.8m0 .3h.8m60.8-.3h.8m.6 .7h.8m1.9-.8h.8m.8 .5h.8m5.5-.5h.8m20.3 .1h.8m3.6 .3h.8m2 .3h.8m6.8-.5h.8m6 .3h.8m-.2-.1h.8m5.8 .4h.8m2.2-.3h.8m52.3-.4h.8m7.9 .5h.8m-216.5 1.2h.8m14.4-.9h.8m6.4 .6h.8m50.2-.2h.8m11.2-.1h.8m2.2 .4h.8m6.2-.2h.8m-.6 .4h.8m2.7-.1h.8m.3-.6h.8m1.8 .4h.8m1.6 .3h.8m21.4-.9h.8m-.4 .8h.8m-.2 .2h.8m.9-.4h.8m14.9 .3h.8m.7-.2h.8m.4-.3h.8m0-.1h.8m57.2 0h.8m-.5 .6h.8m10.8 .1h.8m-.8-.9h.8m-.2 .9h.8m.8-.7h.8m.1 .4h.8m-214.2 1.1h.8m6.5-.7h.8m1.9 .8h.8m1.9-.9h.8m54.9 .6h.8m4.2-.5h.8m4.3 .1h.8m.5-.2h.8m2.4 .9h.8m.2-.2h.8m3.2 .1h.8m-.7-.5h.8m1.2 .5h.8m1.2-.8h.8m45.6 .8h.8m.4-.4h.8m1.9-.3h.8m51.8 0h.8m6 .1h.8m.3 .3h.8m-.5 .1h.8m1.7-.3h.8m5.4-.1h.8m.1-.2h.8m4.5 .3h.8m-218.2 1.4h.8m2.2-.4h.8m.7 .3h.8m.7 .1h.8m-.5-.5h.8m1.3 .5h.8m2.9-.2h.8m57.9 .1h.8m1.3-.5h.8m3.2 .2h.8m-.5 .4h.8m.1-.3h.8m.5-.1h.8m34.8 0h.8m0 .5h.8m1-.1h.8m10-.1h.8m4.3-.2h.8m1.9-.2h.8m55.6 .2h.8m1.7-.1h.8m1.3 .1h.8m.6-.3h.8m.5-.1h.8m9.1 .6h.8m4.3-.4h.8m-223 1h.8m.1 .1h.8m3.1-.1h.8m5.1 0h.8m1.7 .4h.8m1.3-.3h.8m.1 0h.8m1.3-.1h.8m59.1 .7h.8m3.4-.6h.8m6.1 .7h.8m1.3-.2h.8m-.3-.3h.8m.1 .1h.8m12.6-.3h.8m14.5 .3h.8m14 .2h.8m65.5-.6h.8m5.6 .8h.8m1.4-.7h.8m6.1 .5h.8m2.9-.7h.8m-217.7 .9h.8m.7 .2h.8m.5 .6h.8m-.6-.1h.8m1.7 .2h.8m-.7-.5h.8m2.4 .3h.8m60.4 .2h.8m7.7 0h.8m-.3 .1h.8m4.7 0h.8m.4-.9h.8m1.9 .2h.8m43.8 .5h.8m1.1-.1h.8m-.3-.5h.8m.5 .6h.8m58.4-.1h.8m1.5-.2h.8m3.7-.4h.8m2.9 .4h.8m4.7-.4h.8m-219.1 1.7h.8m.1-.2h.8m5.6 .1h.8m3.7 .2h.8m.5-.1h.8m4.2-.2h.8m55.5-.4h.8m2 .6h.8m6.7-.1h.8m13.4-.2h.8m20.5 .5h.8m.9-.4h.8m18 .1h.8m58.7-.3h.8m7.1 .2h.8m1 .3h.8m9.9-.4h.8m-214.8 1.1h.8m-.5-.1h.8m.5 .3h.8m.7-.3h.8m7.2-.1h.8m64.9 .2h.8m11.5-.1h.8m37.9 .4h.8m.2 0h.8m2.3-.5h.8m66.9 .3h.8m-.5 .3h.8m-.1-.2h.8m-129.8 .6h.8m2.6-.3h.8m1.5 .7h.8m4.8-.2h.8m1.8-.1h.8m-.7 .1h.8m35.2 .3h.8m8.4 0h.8m63.5-.8h.8m2.7 .4h.8m1.3 .5h.8m-207.6 .2h.8m1.4 .1h.8m1.1 0h.8m0 .5h.8m2.4-.6h.8m-.4 0h.8m74 .6h.8m36.4-.4h.8m7.9-.1h.8m73.3 .6h.8m5.1-.2h.8m-204.4 .7h.8m1.5 0h.8m81.8 .4h.8m28.5 .1h.8m-114.8 .1h.8m78.6 .4h.8m.3-.3h.8m44.3-.1h.8m-62.4 27.9h.8m.8-.3h.8m2 .6h.8m-14.2 1.4h.8m.5 .1h.8m3.1-.1h.8m1.1 .3h.8m5.6-.7h.8m-16.4 .9h.8m3.3 .5h.8m1.2 0h.8m2.4-.5h.8m2 .8h.8m1.3-.4h.8m-14.9 1.1h.8m6.2 0h.8m-4.3 1.1h.8m-.5-.3h.8m1.6-.1h.8m.4 .4h.8m3.1-.2h.8m1 .3h.8m-.8-.7h.8m17.2 .6h.8m-28.5 1.3h.8m2.9-.3h.8m.8-.2h.8m.1-.2h.8m3 0h.8m-11.8 .7h.8m1.4 .6h.8m4.7-.2h.8m-9.4 .9h.8m3.3 .2h.8m.2-.2h.8m.2 .6h.8m.5-.5h.8m1.8 .3h.8m3.5-.3h.8m17.8 .2h.8m-14.4 .9h.8m2.9-.2h.8m-5.2 .8h.8m-9.5 .9h.8m-7.7 2h.8m5.7 .8h.8m4.5 .2h.8m-17.2 4.3h.8m14.9 .3h.8m15.1-.4h.8m99.4-.1h.8m22 .9h.8m-137 .3h.8m14.4 .3h.8m114.4 .2h.8m-146.5 1h.8m24.6-.7h.8m108.6 .2h.8m-134.6 1h.8m24.1 1.3h.8m-25.9 .9h.8m4.7-.1h.8m123.7-.1h.8m1.6 0h.8m4.3 .1h.8m13.1-.2h.8m-129.2 1.6h.8m97.6-.4h.8m7.4-.1h.8m2.5 .6h.8m6.2-.8h.8m1.1 .6h.8m4.4-.2h.8m-147.1 .8h.8m.9 0h.8m9.8 .5h.8m1 .1h.8m3.2-.3h.8m116.3-.6h.8m6 .6h.8m5 .4h.8m-153.3 .9h.8m10.4-.5h.8m19.9-.2h.8m101.5 0h.8m.6 .5h.8m-133.1 1.3h.8m8.4-.3h.8m125.3-.1h.8m1.4 .1h.8m-137.6 .5h.8m135.3 .4h.8m-1 .5h.8m8.1 .1h.8m7.2 .1h.8m4.1 1.1h.8m-27.9 1h.8m-.4 1.4h.8m-127.5 .6h.8m32.9 .6h.8" stroke="#000" stroke-width="0.8" opacity="0.22"/>
<path d="M291.1 46.6h.8m-.1 .5h.8m12.7-.1h.8m-.7 .5h.8m-17.4 .6h.8m2.8-.5h.8m-11.1 1.6h.8m-.8 1h.8m-.7-.1h.8m12.1-.5h.8m6.1 .7h.8m-15.7 .9h.8m3.2-.2h.8m-9.1 .6h.8m3.4 .2h.8m3.3-.2h.8m9.1 .7h.8m177.4-.1h.8m-.4-.4h.8m-194.5 1.1h.8m-.1-.4h.8m1.4 .6h.8m1.2-.2h.8m2.6 .3h.8m.4 .2h.8m4.2-.8h.8m5.7 .1h.8m-21.4 1.3h.8m1.5 .2h.8m3.3 .2h.8m178.2-.1h.8m-4.1 1.2h.8m12.5-.5h.8m-200.5 .9h.8m3.2 0h.8m2.5 .3h.8m1.7 .2h.8m1.9-.3h.8m2.8-.4h.8m168.4-.1h.8m-186.8 1.7h.8m2.1-.6h.8m-.1 .8h.8m5.4-.2h.8m-.3-.6h.8m-.4 .3h.8m5.3 .1h.8m-.7-.5h.8m1 .6h.8m3.2-.6h.8m168.7 .7h.8m1.5-.4h.8m-193.8 .9h.8m28.2 0h.8m157.4-.3h.8m-181.6 2h.8m15.9-1h.8m5.5 1h.8m161.5-1h.8m-191.8 2h.8m15.4-1h.8m-18.8 1h.8m6.2 .3h.8m176.5 .2h.8m4.6 .2h.8m1.6-.6h.8m12.3 0h.8m-65.3 1.4h.8m51-.2h.8m-9 1.1h.8m10.9-.3h.8m-12.3 1.3h.8m-149.8 1.3h.8m156.9 .2h.8m3.6-.6h.8m-137.5 1.1h.8m126.3 .5h.8m.5 0h.8m.2-.5h.8m9.7-.2h.8m19.2-.2h.8m-88.3 1.8h.8m52.8-.3h.8m5.2 .4h.8m-.7-.2h.8m1.3 0h.8m5.3-.1h.8m-.4-.2h.8m-199.5 .7h.8m65.4 .3h.8m5.2-.3h.8m56.9 0h.8m21.8 .6h.8m38.5 0h.8m-181.3 1.2h.8m.2-.3h.8m-.2 .3h.8m110.1-.2h.8m7.2-.1h.8m-.7-.5h.8m9.6 .1h.8m37.9 .3h.8m10.9 .4h.8m33.1 .1h.8m-217.3 .7h.8m1.7 0h.8m125.6-.5h.8m43.1 .5h.8m2.3-.6h.8m3.1 .7h.8m3.3-.3h.8m0 .5h.8m-198.1 .4h.8m3.1 .5h.8m2.5-.4h.8m6.3 0h.8m23.2 .3h.8m42 .1h.8m4.3-.6h.8m9.1-.1h.8m24 .2h.8m12.4-.1h.8m56.9 .4h.8m2.5-.5h.8m-193.7 .9h.8m135.3 0h.8m12.5 .4h.8m10.3-.3h.8m23.9 .4h.8m-.1-.5h.8m-186 1.8h.8m-.5 0h.8m3.3-.3h.8m.6 .2h.8m-.6-.4h.8m1.7 .4h.8m62.1-.6h.8m3.3-.1h.8m3 .4h.8m65.3-.3h.8m-.3-.1h.8m31.6 .7h.8m.7-.3h.8m2.6 .2h.8m4.7 0h.8m.9-.5h.8m2.3 .6h.8m0-.3h.8m.6-.4h.8m-195.3 1.3h.8m5.7 .6h.8m63.4-.3h.8m.9 0h.8m4-.5h.8m44.9 .6h.8m15.4-.2h.8m2.6-.3h.8m54.7 .3h.8m-.3 0h.8m-196.7 .6h.8m4.6 .7h.8m.9-.6h.8m111.5-.1h.8m62.7 .6h.8m-181.6 1.2h.8m-.4-.5h.8m.2 .3h.8m58.1-.3h.8m2.7 0h.8m10.8-.5h.8m5.3 .4h.8m30.4 .4h.8m13.3-.3h.8m-.8 .1h.8m12.2 .2h.8m5.6-.5h.8m26.5 .1h.8m2.9 0h.8m9.1 .3h.8m9.7 .2h.8m12.1-.8h.8m-220.1 1.5h.8m9.9 0h.8m.6-.1h.8m61.5-.3h.8m4.1 .6h.8m3.6-.4h.8m.3 0h.8m45.1 .5h.8m26.4-.3h.8m31-.5h.8m6.2 .7h.8m-194.5 .4h.8m2.5-.2h.8m1.8 .2h.8m-.3 .3h.8m2.2 0h.8m.8-.3h.8m2 .7h.8m4.7-.2h.8m62.4-.1h.8m4.2 .2h.8m-91.2 1h.8m4.5-.2h.8m65.7-.3h.8m3.4 .4h.8m51.6 0h.8m55.4-.3h.8m4.3-.1h.8m2.3 .7h.8m.2-.7h.8m-184.2 1.1h.8m61 .3h.8m50.6-.6h.8m4.7 .3h.8m3.9-.1h.8m13.3 0h.8m49-.3h.8m1.9 .3h.8m-192 1h.8m.5 0h.8m54.7 .7h.8m15-.6h.8m4 .1h.8m48.6-.3h.8m61.9-.1h.8m.6 .4h.8m9.4 .3h.8m5.9 .1h.8m-214.9 .2h.8m-.6 .4h.8m13.1-.1h.8m11.4 .2h.8m43.8-.3h.8m121.4-.2h.8m-59.1 1h.8m53.5 .6h.8m.3-.2h.8m3.2-.1h.8m22.5-.1h.8m-209.5 .9h.8m73.5 .3h.8m108.9-.4h.8m-107.1 1.8h.8m74-.8h.8m19.8 .9h.8m9.8-.7h.8m-192.7 1.3h.8m129.3 30.2h.8m-70.5 4.8h.8m4.9-.1h.8m117.3-.3h.8m-119.6 1h.8m7.2 0h.8m112.7 .1h.8m-60 1.4h.8m2.4-.1h.8m61.5-.4h.8m-.8 .5h.8m-77.4 .9h.8m-.1-.1h.8m8 .1h.8m59.6 .1h.8m2.5 .1h.8m-125.2 .8h.8m115.3-.3h.8m10.5-.1h.8m-133.1 1.8h.8m2.8-.4h.8m56.5-.4h.8m5.6 .6h.8m1.6 .1h.8m58.7-.1h.8m3.1-.1h.8m.3 .3h.8m-.2-.2h.8m-131.5 .6h.8m58.8-.1h.8m.2 .5h.8m58.3-.4h.8m6.9 0h.8m.2 .3h.8m-125 1.2h.8m2-.8h.8m3.5 .7h.8m105.6-.5h.8m4.3 0h.8m6.1 .5h.8m-130.4 1.2h.8m7.7-.1h.8m51.9-.8h.8m65.3 .8h.8m-120.4 .8h.8m50-.5h.8m.2 .1h.8m-.2 .2h.8m2.9-.2h.8m0 .5h.8m.3-.7h.8m49.3 .7h.8m11.9-.6h.8m-125.9 1.8h.8m.5-.7h.8m2.3 .4h.8m45.6-.2h.8m2.6 .4h.8m1.7 0h.8m55.8-.8h.8m3.8 .1h.8m0 .3h.8m8.4 0h.8m-125.3 .8h.8m53.7 .6h.8m54.9 .1h.8m5.8-.3h.8m.5-.6h.8m2.5 .3h.8m10.3-.2h.8m-142.6 1.3h.8m-.3 .5h.8m2.5-.5h.8m3.1 .3h.8m112.9-.4h.8m6.8 .3h.8m1.5-.3h.8m-63.4 1.5h.8m56.5-.5h.8m2 0h.8m-.6 .5h.8m.6-.6h.8m.5-.1h.8m-131.5 1.6h.8m117.2-.5h.8m3.1 .2h.8m4.5-.2h.8m3 .3h.8m-137.5 1.1h.8m15.6-.5h.8m75 .3h.8m37.9 .4h.8m5.7 0h.8m30.5-.7h.8m-161.5 1.4h.8m56.3 .4h.8m.2-.7h.8m57.9 .1h.8m.8-.1h.8m-123.3 1.3h.8m.3-.6h.8m59.6 .8h.8m30-.7h.8m35.4 .8h.8m-.3 0h.8m.8-.1h.8m.4-.7h.8m-129 1.1h.8m5.3 .8h.8m61.4-.1h.8m-72 .7h.8m-.7 .4h.8m1.9-.8h.8m115.6 .7h.8m7.1-.6h.8m13 .3h.8m-132.3 1.1h.8m48.3 0h.8m15.4-.3h.8m-72.2 .8h.8m-.1 .5h.8m1.2 0h.8m56.4 .1h.8m56.8-.2h.8m.4-.5h.8m-128.1 1.7h.8m3.1-.2h.8m1.4-.6h.8m2.6 .7h.8m1.1-.4h.8m16.9 .5h.8m3.1-.6h.8m32.7 .5h.8m4.9-.4h.8m56.3-.1h.8m1.9 0h.8m-.5 .1h.8m-123.5 1.1h.8m1.8 .1h.8m4.5 .4h.8m48-.5h.8m6.3-.2h.8m80.7 .1h.8m-153 1h.8m1.6 .4h.8m8.6-.3h.8m-.1 .5h.8m0-.2h.8m42.1-.4h.8m34.8 .6h.8m.8-.1h.8m32.6-.3h.8m21.4 .3h.8m-149.9 .4h.8m2.2 0h.8m3.8 .6h.8m1.8-.8h.8m51.3 .6h.8m-.2-.6h.8m-.5 .2h.8m-.3 .3h.8m3.4 .5h.8m.3-1h.8m49 .2h.8m-123.6 1.2h.8m16.3 .2h.8m19.4-.4h.8m24.4 .2h.8m1.8-.3h.8m26.6 .7h.8m37.7 .1h.8m-.8-.9h.8m-130.3 1.6h.8m6.8 .2h.8m-.7-.2h.8m9.9-.5h.8m.2 .3h.8m10.8 .3h.8m34-.2h.8m-.8 .4h.8m3-.6h.8m-.7-.2h.8m1 .9h.8m56.1-.5h.8m-.3-.4h.8m-126.1 1.7h.8m10.1 .1h.8m6.8-.6h.8m4.7 0h.8m34.4-.2h.8m2.7 .2h.8m1.9 0h.8m-.6 .2h.8m-.4-.2h.8m0 .1h.8m56.9 0h.8m7.1 .3h.8m-73.6 .9h.8m1.6-.1h.8m5-.1h.8m53.4 .4h.8m-125.3 .7h.8m9-.3h.8m16.1 .4h.8m105.2-.6h.8m.7 .9h.8m11.1-.8h.8m-141.6 1.4h.8m1.6 .1h.8m4.3 .1h.8m53.1-.7h.8m6.1 .6h.8m52.7-.2h.8m-126.4 1.6h.8m1.4-.6h.8m1.2 .2h.8m-.3-.4h.8m.2 .5h.8m0-.4h.8m-.2 .4h.8m1.6-.5h.8m2.3 .2h.8m51.2-.3h.8m55.5 .1h.8m33 .2h.8m-158.9 .7h.8m8.1 .8h.8m-3.2 .3h.8m.9 .1h.8m-.8 .7h.8m1.4-.2h.8m51.8-.4h.8m19.7 .4h.8m8.2 0h.8m28.9 .1h.8m5.3-.4h.8m2.3 .4h.8m-.6-.5h.8m5-.4h.8m31.8 .3h.8m-167.7 1h.8m-.4 .4h.8m2.3-.4h.8m8.2 .4h.8m16.6 .1h.8m26.7-.2h.8m62.8-.3h.8m-108.6 1.6h.8m45.1-.5h.8m-60.2 1.2h.8m9.6-.1h.8m17.6 .3h.8m29.6-.4h.8m8.4-.4h.8m3.8 .4h.8m-.5 .5h.8m46.9-.4h.8m4.8 .2h.8m-62.8 .5h.8m.9 .7h.8m-59.5 1.4h.8m-239.3 8.3h.8m24.8 .1h.8m4.8 0h.8m81-.1h.8m8.6-.3h.8m2.5 .3h.8m-208.1 1.4h.8m87.4-.6h.8m44.1 .2h.8m13.1-.3h.8m1.2 .4h.8m46.7 .2h.8m-181 .7h.8m1.1-.4h.8m7.4 .2h.8m76.7-.4h.8m3.7 .2h.8m18.5 .1h.8m4.4 0h.8m13.9-.1h.8m37.3 .8h.8m3.9-.1h.8m4.6-.2h.8m.2-.7h.8m-.4 .9h.8m.2-.2h.8m-.6 .1h.8m-169.7 .7h.8m86.5 .3h.8m15.1-.5h.8m48.6 .1h.8m13.6-.3h.8m-.6 .3h.8m-.5 .1h.8m1.5-.1h.8m5.4-.3h.8m-182.5 1.9h.8m48.8-.9h.8m11 .5h.8m21.4 0h.8m8.7 0h.8m11.4-.4h.8m0 .6h.8m7.3 .1h.8m47.2-.2h.8m1.9 .3h.8m4.4-.9h.8m.6 .1h.8m-.4 .1h.8m3.7 .1h.8m2.2-.2h.8m-.5 .1h.8m-210.2 1.3h.8m.7-.2h.8m17.7 .2h.8m14.1 .2h.8m39.4 0h.8m6.6-.7h.8m3.3 .7h.8m.3-.1h.8m4.2 .2h.8m18.6-.3h.8m24.4-.1h.8m12.5-.1h.8m42.4 .3h.8m7.2 .1h.8m.9-.3h.8m-193.4 1.1h.8m6.3 .3h.8m62.6-.3h.8m2.3-.2h.8m.4 .4h.8m2.7 0h.8m-.2-.2h.8m29.3 .1h.8m8.1-.6h.8m58.3 .4h.8m8.6 .4h.8m3.8-.8h.8m3.6 0h.8m.7 .7h.8m2.2-.3h.8m-187.8 1.4h.8m47.6-.7h.8m6.5 .7h.8m3.5-.8h.8m.5 .7h.8m2.1-.3h.8m44.3 .1h.8m16.9-.5h.8m.1 .7h.8m36.5-.5h.8m-.1 0h.8m2.8 .3h.8m13.2 .2h.8m3.7-.3h.8m-188.6 .6h.8m68.7 .8h.8m-.5-.1h.8m.3-.1h.8m18.3-.2h.8m19.4 .5h.8m58.2-.4h.8m2.5 .3h.8m-.2-.7h.8m-.2 .5h.8m.3-.3h.8m9.5 .4h.8m3.6-.6h.8m-.3 .6h.8m-200.4 1.2h.8m3.9-.9h.8m10.5 .5h.8m54.9-.3h.8m.3 .1h.8m1.5-.1h.8m20.1 .5h.8m13.8 0h.8m1.7-.1h.8m6.2-.2h.8m.3 0h.8m13.2 .3h.8m3.2-.6h.8m36.6 .1h.8m1.1 .6h.8m2.4-.2h.8m1.5-.6h.8m-.1 .2h.8m1.3 .1h.8m5.8 .3h.8m3.6-.5h.8m0 .1h.8m-212.2 1.6h.8m18.7-.7h.8m54.1 .4h.8m9.4 0h.8m29.3-.4h.8m8 .4h.8m7.9-.4h.8m71.2 .2h.8m2.9-.4h.8m3.2 .4h.8m-205.1 .9h.8m6.9-.2h.8m6.9 .9h.8m.9 0h.8m-.3-.3h.8m4.6 .2h.8m39.1-.7h.8m6.5 .6h.8m6.9-.4h.8m3.2 0h.8m30.5-.2h.8m7.1 .7h.8m8.4 0h.8m.3-.6h.8m3.5 .4h.8m9.9-.5h.8m36.7 .8h.8m1.1-.3h.8m-.4-.6h.8m6.8 .1h.8m-.8 .2h.8m-.2-.2h.8m3.4 .4h.8m1.6-.3h.8m2.9 .4h.8m-.6-.1h.8m-193.3 1.1h.8m2.9-.2h.8m51.7 .3h.8m6.7-.4h.8m.3-.3h.8m2.6 .1h.8m-.1 .5h.8m19.4-.2h.8m5.2 .1h.8m-.6-.5h.8m-.1 .9h.8m2.5-.3h.8m9.3-.2h.8m7.1 .1h.8m6.2-.4h.8m41.8 .6h.8m2.7-.6h.8m-.8 .1h.8m6.3 .3h.8m8.5-.1h.8m-.3-.2h.8m-.4-.2h.8m-.6 0h.8m-195.6 1.8h.8m6.2-.5h.8m6.5-.3h.8m43.3 .7h.8m5.3-.4h.8m4.5 .5h.8m.2-.5h.8m-.1-.4h.8m4.7 .4h.8m21.8-.3h.8m1.6 .6h.8m10.1-.3h.8m10 .3h.8m0-.2h.8m56-.5h.8m4.6 .6h.8m3.2-.1h.8m-.4-.1h.8m2.4 .5h.8m-137.7 .9h.8m11.5-.7h.8m2.2 .8h.8m-.1-.6h.8m1.9 .1h.8m23.8-.3h.8m11.5 0h.8m10.3 .1h.8m3.8 .4h.8m50.3 .4h.8m.2 0h.8m.7-.2h.8m9.1 .2h.8m2.6-.5h.8m1.2 0h.8m0-.1h.8m-207.6 1h.8m4.9 .4h.8m6.7-.4h.8m53.2 .1h.8m4 .3h.8m1.4-.2h.8m.6 0h.8m.7-.6h.8m50.3 .9h.8m-.7 0h.8m2.4-.4h.8m6.3-.2h.8m-.3 .3h.8m3.2 0h.8m5.6 .2h.8m37.4-.3h.8m3.5-.1h.8m4.4-.1h.8m1.7 .5h.8m1.8 .2h.8m4-.8h.8m-200.5 1.4h.8m8.1-.4h.8m56.6 .8h.8m6.3-.7h.8m2.3 .5h.8m25.7-.3h.8m3.4 .1h.8m25.3-.3h.8m1.3 .7h.8m39-.3h.8m.5-.2h.8m5.4-.3h.8m3.6 .3h.8m.5 0h.8m4.5-.2h.8m-200.9 1.7h.8m3.7-.2h.8m1.9-.3h.8m1.1-.1h.8m3.3 0h.8m.1 .5h.8m47.5-.4h.8m3.7 0h.8m14.3 0h.8m4-.1h.8m19.8 .4h.8m7.2-.1h.8m9.1 0h.8m.7 .2h.8m.3-.3h.8m.5 .4h.8m1.3-.5h.8m6.7 .3h.8m3.1-.4h.8m2.8 0h.8m35.1 .2h.8m2.3-.4h.8m-.6 0h.8m-.1 .2h.8m6.7-.4h.8m-.4 .4h.8m4.3 .4h.8m2.4-.7h.8m1.6 .1h.8m.5 .3h.8m-.7-.2h.8m-203.6 1.1h.8m1.4 .1h.8m-.5 .2h.8m1.1 .1h.8m58.7-.2h.8m10.4 .1h.8m2 0h.8m-.2 .3h.8m37.4-.2h.8m8.9-.3h.8m1.2-.5h.8m1.1 .1h.8m.8 0h.8m.1 .5h.8m-.4-.6h.8m1.1 .4h.8m.5-.1h.8m-.6 0h.8m45.3 .3h.8m.6 .2h.8m.1-.5h.8m6.8-.2h.8m1.5 .7h.8m.1-.8h.8m3 .1h.8m-.6 .7h.8m-214.2 .8h.8m13.3 .2h.8m6.5-.1h.8m-.4-.5h.8m4.8 .1h.8m5-.1h.8m43.3 .5h.8m1.4-.1h.8m1.8-.1h.8m.9 0h.8m1.9-.4h.8m-.7 .1h.8m2-.1h.8m1.7 .7h.8m-.1-.2h.8m26.9 .1h.8m.7-.2h.8m12.3 .5h.8m-.1-.5h.8m14.2-.5h.8m5.8 .4h.8m45.2-.3h.8m.4 .5h.8m1.1 0h.8m8.6-.2h.8m1.5 .1h.8m-210 .7h.8m1.1 .7h.8m.2-.3h.8m1.1 .2h.8m4.9-.4h.8m4.7 0h.8m2.6 .2h.8m48.6 .2h.8m1.2-.3h.8m6.8 .5h.8m1.1-.2h.8m-.1 0h.8m-.3-.5h.8m-.1 .4h.8m-.4-.5h.8m-.7 .5h.8m1.1 .2h.8m-.3-.4h.8m21.8-.2h.8m1.1 .6h.8m3.3-.7h.8m-.6 .7h.8m6-.1h.8m6.4-.3h.8m1.9-.3h.8m8.1 .3h.8m9.7 0h.8m32.4 .5h.8m2.2-.4h.8m1.9 .1h.8m11.1-.3h.8m-200.2 1h.8m5.1-.3h.8m9.7 .5h.8m64.9 .2h.8m-.1-.1h.8m24 0h.8m2.4-.4h.8m4.1 .1h.8m5.1 .3h.8m.3 0h.8m1.5-.5h.8m1.9-.1h.8m12.8 0h.8m40.3 .9h.8m4.3-.6h.8m7.3 .6h.8m.3 0h.8m0-.5h.8m.4-.4h.8m1.3 .4h.8m5.4 .3h.8m-204 .8h.8m-.3-.1h.8m-.6 .3h.8m1.2-.4h.8m.8 .5h.8m5-.4h.8m-.8-.2h.8m-.6 .5h.8m9.5 0h.8m26.5-.8h.8m18.7 .8h.8m6.6-.7h.8m-.6 .3h.8m.1 .4h.8m22-.3h.8m.5-.4h.8m2.8 0h.8m4.3 .7h.8m3.8 0h.8m-.2-.2h.8m7.4 .4h.8m5.8 0h.8m5.8-.1h.8m3.5-.7h.8m-.5 .7h.8m50 0h.8m3-.2h.8m1.1 .3h.8m4.2-.9h.8m-205.7 1.1h.8m2.6 .6h.8m8.3-.1h.8m2.7-.6h.8m60.1 .2h.8m.6-.3h.8m1.3 .7h.8m.3 0h.8m1.9-.3h.8m-.2-.1h.8m19.2-.2h.8m7.1 .1h.8m-.1 0h.8m9.9 .2h.8m7.1 .4h.8m2.2-.2h.8m-.6 .4h.8m8.2-.8h.8m54.2 .1h.8m2.5 .2h.8m-209.7 1.4h.8m4.7 0h.8m-.2-.2h.8m2 0h.8m.2-.7h.8m11.6 .5h.8m47.5-.5h.8m15.1 .1h.8m3.7 0h.8m20.4 .9h.8m-.1-.2h.8m.7-.1h.8m.8 .3h.8m3.5-.7h.8m10.5-.3h.8m7.2 .1h.8m54.3-.1h.8m11.4 .9h.8m-.7-.2h.8m-200.9 .4h.8m1.1 .5h.8m4.4 .2h.8m51 0h.8m1.7-.3h.8m2.6 .4h.8m10.3-.8h.8m-.2 .7h.8m32.3-.8h.8m.1 .5h.8m5.5-.1h.8m5.2 .1h.8m1.6-.2h.8m.7-.1h.8m1.8-.1h.8m.8 .1h.8m.7 .7h.8m7.4 0h.8m46.7-.3h.8m-.8-.3h.8m.5 .6h.8m.3-.2h.8m5.3 .2h.8m0-.2h.8m-200 .4h.8m-.6 0h.8m4.9 .3h.8m2.9 0h.8m1.4 .2h.8m7.3-.3h.8m55.5 .2h.8m2.4 .1h.8m2.3 .1h.8m.7-.1h.8m1.6 .1h.8m16.9-.2h.8m-.4-.5h.8m5 .5h.8m5.1 .4h.8m14.7-.3h.8m-.3-.4h.8m8 .6h.8m40.5 0h.8m.6 .2h.8m-.6-.7h.8m7.6-.2h.8m1.5 .3h.8m-203.4 .9h.8m5.1 .3h.8m.2-.4h.8m3.5 .1h.8m.2 0h.8m5.1 .1h.8m2.7 .2h.8m41.5 .1h.8m6.4 .2h.8m15-.1h.8m-.4 0h.8m4.7-.6h.8m20.9 .3h.8m3.9-.1h.8m9.1-.2h.8m5.2 .6h.8m6.4 .1h.8m59.3-.9h.8m1.1 .4h.8m5.2 .4h.8m3.7-.6h.8m-209.9 1.4h.8m.4-.3h.8m2.2 .2h.8m64.4 .5h.8m8-.7h.8m4.3 .4h.8m5.6-.7h.8m30.3 .7h.8m-.6-.2h.8m6-.3h.8m5.3 0h.8m-.8 .6h.8m0-.7h.8m1.5 .4h.8m1 0h.8m51.4-.1h.8m7-.1h.8m2.2 .2h.8m.8-.2h.8m-.2 .1h.8m1.2 .3h.8m3.5-.1h.8m-.5-.6h.8m-211.7 1.9h.8m-.4-.4h.8m2.1-.4h.8m7.1 .2h.8m55 .1h.8m1.6 .2h.8m11.3-.2h.8m5.7 0h.8m19.8 .6h.8m.5-.9h.8m1 0h.8m5.8 .8h.8m.3-.7h.8m3.1 .1h.8m0 .2h.8m5.6-.4h.8m1.3 .1h.8m60.6 .7h.8m1.9 .1h.8m1.6-.4h.8m1.8 0h.8m-209.9 .8h.8m2 0h.8m3.3 .3h.8m3.8-.6h.8m65.7 .6h.8m7.1-.3h.8m6.5 .4h.8m2.1 .2h.8m-.1-.8h.8m16.1 .6h.8m6.2-.8h.8m1 .3h.8m.4 .2h.8m4.1-.4h.8m2.2-.1h.8m61.9 1h.8m6.3-.7h.8m1.9 .3h.8m3.1 .4h.8m1.7-.4h.8m-.1-.3h.8m5.4 .7h.8m-226.4 .8h.8m4.1-.3h.8m6 0h.8m.4 0h.8m-.5 .3h.8m.2-.1h.8m-.4-.7h.8m-.4 .6h.8m2.3 0h.8m5.9 0h.8m55.5 0h.8m8.4 .1h.8m.5-.1h.8m2.6-.4h.8m5.5 0h.8m27.8 0h.8m3 .4h.8m.8 .1h.8m.9-.5h.8m1 .3h.8m5.3 .2h.8m1.1-.6h.8m1.4 .5h.8m50.6-.1h.8m4.7-.3h.8m1.5 .5h.8m1.2-.5h.8m2.8 .3h.8m1.2 .3h.8m.2-.3h.8m1.5 .2h.8m4.8-.6h.8m-211.5 1.9h.8m0-.3h.8m71-.1h.8m2.3 .3h.8m0-.3h.8m.2 0h.8m.4-.5h.8m.3 .9h.8m1.7-.1h.8m2.7-.9h.8m5.1 .4h.8m17.1 .3h.8m13.2-.1h.8m-.1-.2h.8m2.2 .2h.8m2.9 .2h.8m3.3-.1h.8m55.2 0h.8m1.1 .1h.8m-.1 .1h.8m.3-.2h.8m-.4-.3h.8m-.1 0h.8m.6 .2h.8m2.2 .4h.8m2.1-.4h.8m3.1-.2h.8m-.5 .3h.8m-.6 0h.8m.6-.2h.8m-213 1.2h.8m.7-.3h.8m.2-.3h.8m.4 0h.8m.3-.1h.8m.6 .9h.8m66.3-.7h.8m-.3 .2h.8m4-.3h.8m4.1 .5h.8m-.2 .3h.8m-.5-.1h.8m.6-.3h.8m1.2-.3h.8m-.8 .2h.8m22.9-.3h.8m13.3 .6h.8m1.7-.4h.8m-.7 .5h.8m.1-.6h.8m4.2 0h.8m53.3 0h.8m1.8 .8h.8m2.3-.1h.8m-.6-.2h.8m3.2-.4h.8m0 .6h.8m.5 0h.8m1.8-.3h.8m.5 0h.8m2.8 .3h.8m1.4-.4h.8m1.4-.1h.8m-219.9 1.3h.8m10.3-.3h.8m-.1 .5h.8m2.1-.2h.8m1.4-.5h.8m-.5-.1h.8m.3 .6h.8m60.1 0h.8m8-.1h.8m.6-.1h.8m-.6 0h.8m30.9-.1h.8m.4-.2h.8m9.5 0h.8m1 .5h.8m61.3 .2h.8m2.8-.1h.8m2.2-.7h.8m-.6-.1h.8m-.7 .8h.8m1.2-.1h.8m-.2 .2h.8m.2-.9h.8m-.8 .9h.8m.2 .1h.8m-.8-.7h.8m-213.2 1.2h.8m-.6-.2h.8m4.7-.2h.8m2.5 .7h.8m-.5-.5h.8m1.5 .4h.8m.6-.7h.8m.9 .8h.8m73-.1h.8m.2-.2h.8m2.4 .1h.8m3.2-.2h.8m4.1 .3h.8m3.1 .3h.8m15.3-.7h.8m82.2 .2h.8m.4-.1h.8m1.7-.1h.8m3 .7h.8m3.2-.9h.8m1.5 .4h.8m-219.4 1.2h.8m2.7 0h.8m-.7-.5h.8m3.7 .5h.8m-.5-.1h.8m-.5-.2h.8m-.5 .4h.8m.2-.7h.8m2.9 .1h.8m0-.1h.8m3.9 .6h.8m66.4-.4h.8m-.7-.3h.8m3.1 .9h.8m0-.8h.8m.7 .8h.8m11.6-.6h.8m17.2 .6h.8m-.5-.6h.8m1 .1h.8m-.7 .3h.8m18.6 .3h.8m1.7-.9h.8m58.1 .1h.8m14.7 .2h.8m2.1-.3h.8m-219.7 1.3h.8m2.2-.2h.8m5.2-.1h.8m2.9 0h.8m52.1 .5h.8m15.5 .2h.8m-.7-.1h.8m-.7-.5h.8m.3 .1h.8m.6 .5h.8m4.9-.5h.8m.7 .4h.8m3.6 .2h.8m19.4-.3h.8m6.2 .1h.8m2.8-.4h.8m9.5 .4h.8m58.2-.6h.8m1 0h.8m-.4 .4h.8m1.6-.4h.8m6.7 .2h.8m1 .2h.8m6.2-.3h.8m-.5 .1h.8m-221.2 .7h.8m4 1h.8m-.8-.6h.8m-.4 0h.8m3.9 .2h.8m1.9-.3h.8m-.3 .1h.8m-.7-.2h.8m.7 .6h.8m1.7 0h.8m55.1-.7h.8m.8 .2h.8m0-.1h.8m-.5 .2h.8m1.7-.3h.8m-.6 .6h.8m.7-.1h.8m-.1-.2h.8m2.8 .4h.8m2.6-.5h.8m.1 .4h.8m.3 0h.8m2.1 .1h.8m.8-.7h.8m3.5 .4h.8m1.8-.3h.8m18.3 .6h.8m12.2 0h.8m.8-.6h.8m.6 .4h.8m1.4 .3h.8m62.4-.3h.8m2-.5h.8m.3 .3h.8m-.6 .2h.8m7 .3h.8m3-.7h.8m-218.8 1.7h.8m2.7-.9h.8m.6 .5h.8m2.4-.2h.8m2.4-.1h.8m-.7 .5h.8m62.7-.2h.8m6.6-.1h.8m1.2 0h.8m-.4-.3h.8m5.4 0h.8m2.6 .8h.8m-.6-.3h.8m4.3 0h.8m.6 .1h.8m-.7 .2h.8m19.5 0h.8m2.1-.8h.8m-.1 .5h.8m83.6 .4h.8m12-.6h.8m-225 1.4h.8m2.9 0h.8m2.4 .1h.8m1.2 0h.8m2.1-.4h.8m2.9-.1h.8m63.8 .2h.8m2.8-.1h.8m.8 .4h.8m10.6-.7h.8m4.1 .2h.8m19.1-.4h.8m4.9 .2h.8m79 .4h.8m9-.6h.8m-208.7 1h.8m1.1 .5h.8m58 0h.8m17.9 .2h.8m35.2-.1h.8m6.6-.3h.8m6 .4h.8m-136.1 1.1h.8m6.8-.6h.8m0 .3h.8m73-.3h.8m0 .1h.8m39.4-.3h.8m-119.6 1.3h.8m76.4-.2h.8m9.4 0h.8m-33.4 25.4h.8m2.4 1.1h.8m.5 .2h.8m2.6 1.1h.8m-7.1 .7h.8m1.9 .2h.8m1.9-.2h.8m.4 .2h.8m-.8-.3h.8m-3.3 1.4h.8m10.3-.6h.8m-16.6 1.4h.8m.3 .2h.8m-.2-.2h.8m-.2 1.1h.8m2.2-.3h.8m-.2 .3h.8m-.2 0h.8m-.3 0h.8m-.1-.4h.8m.7-.3h.8m.5 .8h.8m1.2-.3h.8m-2.6 1.1h.8m-11.5 .4h.8m3.5 .2h.8m-.1 .5h.8m-.6-.8h.8m.9 .1h.8m.3 0h.8m-.8 .8h.8m2.1-.8h.8m-12.9 .9h.8m1.8 .6h.8m-.1 .3h.8m6-.2h.8m3.2-.3h.8m5.8-.4h.8m1.6 .8h.8m-23.4 .8h.8m5 .3h.8m-3.2 .8h.8m7.6-.5h.8m.6 .5h.8m9.1-.4h.8m-24.2 1.2h.8m11.2-.3h.8m9.9-.1h.8m2 .3h.8m-25.1 .7h.8m138.9 2.9h.8m9.3 3.1h.8m-139.2 1.2h.8m113.3 .5h.8m32.2-.4h.8m-159.4 1.4h.8m130.3-.5h.8m12.6 .4h.8m-15.9 .4h.8m3.9 .8h.8m17.1-.9h.8m-155.8 1.9h.8m2.7-.3h.8m2.1 .2h.8m1.1 .2h.8m1.5-.1h.8m5.1-.7h.8m117.3 .6h.8m-135.4 .5h.8m3-.1h.8m126.4 .2h.8m7.5 .1h.8m3.7-.1h.8m-141.6 1h.8m10.3-.3h.8m13.9 .4h.8m-26.8 .8h.8m-.1 .3h.8m4.9-.1h.8m-.6 0h.8m-.7-.4h.8m0 .2h.8m.4-.2h.8m125.6 .1h.8m13 .6h.8m-140.1 .6h.8m0 .6h.8m0-.7h.8m18 0h.8m120.1 .5h.8m-151.5 .4h.8m24-.1h.8m113.9 .5h.8m-143.7 1.2h.8m3.5-.1h.8m.8-.2h.8m7 .2h.8m6.6 .1h.8m130.5-.7h.8m17.5-.1h.8m-161.8 1.3h.8m124 .3h.8m4.8-.4h.8m-137.7 1.1h.8m8.1 .5h.8m120.8-.6h.8m-124.7 1.1h.8m23 .5h.8m92.7-.7h.8m1.6 .8h.8m-.6-.8h.8m2.4 .4h.8m-118.7 1.2h.8m117.6-.1h.8m-.8-.1h.8m11-.2h.8m-131 1.3h.8" stroke="#000" stroke-width="0.8" opacity="0.22"/>
<path d="M280.8 44.4h.8m13.8 1.6h.8m-8 2.3h.8m2.6-.6h.8m9.3 .4h.8m-22.1 2.2h.8m2.7 0h.8m-.5-.2h.8m4 .2h.8m13.3-.4h.8m169.8 .4h.8m-187.4 1h.8m5.1-.5h.8m5.4-.2h.8m-18.2 1.7h.8m3-.4h.8m.1-.1h.8m-.3 .5h.8m0-.8h.8m.7 0h.8m-6 1.3h.8m-.6 .5h.8m-.8-.8h.8m2.1 .8h.8m4.3-.3h.8m.9 0h.8m-.4 .4h.8m-.4-.2h.8m.5-.3h.8m-13.3 .7h.8m5.2 .4h.8m.9 0h.8m3 .2h.8m-10.6 .7h.8m.6 .3h.8m2.2-.1h.8m3.4 .1h.8m.2-.6h.8m.5-.1h.8m174.1 .8h.8m-189.4 .8h.8m3.2 .3h.8m-.7-.7h.8m.7-.2h.8m.6 .2h.8m-.1 .2h.8m-.6 0h.8m-.4 0h.8m6 .4h.8m174.8-.4h.8m-192.3 .7h.8m19 .7h.8m171.7 .1h.8m-190 .5h.8m6.9-.1h.8m-5 1.4h.8m.2-.5h.8m.2 0h.8m1.8 .2h.8m2.1 .1h.8m8.4 .5h.8m168.7-.4h.8m1.3 0h.8m-186.8 1h.8m185.1 .3h.8m-176.1 .2h.8m.9 .7h.8m166.6-.6h.8m6 .7h.8m-.2-.3h.8m-15.1 1.1h.8m6.3 .2h.8m3.2 .6h.8m4.5-.2h.8m-.1 .6h.8m-190.6 .3h.8m116.1 0h.8m-122.6 1.3h.8m141.7 .5h.8m40.9 1h.8m0-1h.8m4.3 .3h.8m-190 1.2h.8m129.1-.4h.8m.4 .1h.8m4.7 .1h.8m4.5 0h.8m42.5 .3h.8m1.3 0h.8m-.8 .3h.8m4.2-.8h.8m14.8 .3h.8m-192.2 1.5h.8m125-.3h.8m36.7 0h.8m3.3 .2h.8m9-.2h.8m-34.3 .9h.8m-165.8 .7h.8m3.7 .6h.8m123.4-.1h.8m1.6 .2h.8m25.6-.2h.8m1.4-.2h.8m31.5-.1h.8m.5 .5h.8m23.7-.3h.8m-208.8 1.1h.8m23.6-.5h.8m60.9 .6h.8m52.6-.8h.8m37.4 .3h.8m.5-.2h.8m.4 .2h.8m3.2 .7h.8m-191.5 1h.8m-.8-.3h.8m4.2-.7h.8m6.4 .5h.8m20.5-.3h.8m46.6 .8h.8m48.6-.2h.8m8-.3h.8m-.8-.5h.8m48.9 .7h.8m3-.4h.8m-.4 .6h.8m11.3-.1h.8m-176.7 .8h.8m36.2-.1h.8m50.2-.5h.8m36.2 .2h.8m27.5 .1h.8m14.6 .3h.8m5.2-.3h.8m-207.7 1.3h.8m9.8-.3h.8m-.8 .6h.8m58.6-.5h.8m3.9-.3h.8m2.6 .4h.8m54.2 .4h.8m2.5-.3h.8m8.6-.6h.8m40.4 .1h.8m4.1 .1h.8m.7 0h.8m1.5 0h.8m15.2-.2h.8m-187.7 2h.8m54.1-.5h.8m52.8 .3h.8m58.2-.2h.8m4.3-.3h.8m1.4 .5h.8m5.4-.4h.8m-206.4 1.6h.8m5.5-.4h.8m5.2-.1h.8m55 .3h.8m17.6 0h.8m45.4 .2h.8m-.7-.5h.8m2.8 .1h.8m4.2 .2h.8m46.7-.4h.8m2.6-.2h.8m.3 .6h.8m3.2-.5h.8m-198.5 1.3h.8m2.3-.5h.8m39.7 0h.8m85.5 .3h.8m.6-.2h.8m2.4 .2h.8m6.1 .5h.8m48.9-.5h.8m4.6 .6h.8m-198.9 0h.8m7.6 .8h.8m.2-.5h.8m2.1 .1h.8m56.4 .3h.8m1.4-.3h.8m1.2 .5h.8m6.4 .1h.8m107.4-.2h.8m.3-.3h.8m5.9 .2h.8m18.8-.2h.8m-209.9 .7h.8m6.9 .4h.8m56.2-.5h.8m2.2 .3h.8m9.6-.1h.8m10.9-.1h.8m31.3 .5h.8m59.7-.3h.8m1.8-.3h.8m-190.6 1.5h.8m6.7 .3h.8m5.6-.7h.8m10.5 .7h.8m106.2-.3h.8m4.6-.3h.8m13.7 .5h.8m-134.7 1h.8m14.3-.6h.8m158.6 .1h.8m17.4 .2h.8m-204.8 1.3h.8m4.8-.5h.8m1.9 0h.8m1.8 .4h.8m15.7-.4h.8m6.8-.1h.8m89.8 .5h.8m12.6-.5h.8m44.7 .1h.8m3.8 .1h.8m-.8 .2h.8m-63.7 .6h.8m58.4 .3h.8m-6.8 .7h.8m2.6 .2h.8m-98.7 .6h.8m94.4 .2h.8m4.9 0h.8m-187.2 .9h.8m117.9 1.4h.8m12 0h.8m-4.4 28.1h.8m-71.1 1.2h.8m128.4 1.2h.8m4.2 .3h.8m-128.6 1h.8m46.6 1h.8m80.3 .4h.8m-143 .6h.8m73.9 .7h.8m51-.3h.8m8.3 .1h.8m-116.7 1.1h.8m42.6-.1h.8m69.6-.5h.8m.2 .2h.8m2.7 .4h.8m-129.4 .2h.8m52.8 0h.8m5.3 .8h.8m5.7-.4h.8m48.6-.1h.8m7 .4h.8m-126.3 .4h.8m54.7-.1h.8m62.9 .9h.8m6.7-.6h.8m.2 .2h.8m-.5 .1h.8m.3-.4h.8m-131.5 .9h.8m7.5 .3h.8m122.4 .3h.8m-135.2 .6h.8m9.8 .3h.8m49.8-.1h.8m11.5-.4h.8m47.5 .8h.8m8.7-1h.8m3.6 .1h.8m3.1 .8h.8m-137.2 .9h.8m3-.6h.8m5.3 .6h.8m-.8-.1h.8m53.7 0h.8m1.5-.5h.8m1.4-.1h.8m53.9 .4h.8m4.9 .5h.8m-120.2 .7h.8m50.2 0h.8m2.7 .1h.8m1.9-.1h.8m51.3-.3h.8m3.7-.1h.8m5.1 .1h.8m.7 .6h.8m1.5 0h.8m-126.4 .5h.8m53.3-.4h.8m.4 .3h.8m61.7 .5h.8m2.7 0h.8m4-.2h.8m1-.3h.8m-139 1.4h.8m5.3-.2h.8m4.2 0h.8m-.2 .4h.8m.3-.9h.8m49.4 .2h.8m4.1 .1h.8m-10.3 1.2h.8m6.4 0h.8m.7 .3h.8m3.3-.9h.8m61.3 .4h.8m-68.9 1.5h.8m-.5-.3h.8m56.6-.3h.8m-123.2 1.5h.8m.6 0h.8m3-.3h.8m4.2-.3h.8m.9-.1h.8m109.3 0h.8m.9 0h.8m-.1 .7h.8m-.5 0h.8m.4-.3h.8m.6 0h.8m1.4 .2h.8m.5-.3h.8m.4 .4h.8m1.9-.4h.8m2.6-.1h.8m-128.4 1.5h.8m56.3 0h.8m58.8-.5h.8m-.8 0h.8m6.2-.2h.8m-.8 .6h.8m-133 .4h.8m11.2 .2h.8m45.7 .2h.8m6.6-.1h.8m56.8 0h.8m2.2 .3h.8m5.7-.4h.8m-133.4 .8h.8m5.3 .7h.8m1.7 .2h.8m53 0h.8m61.2-.3h.8m3.1-.4h.8m2-.1h.8m1.2 .2h.8m-.8-.3h.8m-127.4 1.4h.8m8.3 .4h.8m46.2-.5h.8m-.7 .4h.8m67.2-.3h.8m-.5-.2h.8m-129 1.3h.8m.4-.2h.8m1.4 .1h.8m3.7-.3h.8m120.8 0h.8m-127.6 .9h.8m49.5 .1h.8m-53.4 .8h.8m-.7 .4h.8m1.5-.1h.8m3.4 .2h.8m50.8 .4h.8m62.5-.7h.8m4.8 .2h.8m-129.8 .6h.8m3.7 .5h.8m21.9-.2h.8m2.7 .3h.8m47.6-.2h.8m48.2-.3h.8m-122.6 1.3h.8m0 0h.8m21 .2h.8m37.2-.5h.8m4.1 0h.8m51.7 0h.8m-121 1.7h.8m1.5-.6h.8m20.5 .6h.8m29.1 .2h.8m62.3-.7h.8m1 .1h.8m29.1-.4h.8m-156.1 1.4h.8m1.8 .2h.8m1.3-.4h.8m.9 .1h.8m2.6 .4h.8m1.2 .3h.8m4.2-.3h.8m2.1 .1h.8m41.4-.1h.8m2.9-.1h.8m56.6 .2h.8m-118.6 .5h.8m2.5 .6h.8m24-.8h.8m26.9 .3h.8m6.6 .5h.8m.5-.6h.8m56.7-.2h.8m-126.1 1.4h.8m2.2-.1h.8m-.2 .3h.8m-.3-.4h.8m.7 .3h.8m.8-.3h.8m1.9 .5h.8m48.9-.2h.8m3.1-.3h.8m7 .4h.8m53.9-.3h.8m-47.3 .8h.8m9.2 .1h.8m7.4 .4h.8m52.1 .1h.8m-150.8 1h.8m5.1-.5h.8m5.4-.2h.8m46.2 0h.8m4.3 .1h.8m4.1 .7h.8m-1.6 .5h.8m17.4 .2h.8m69.5-.5h.8m-157 1.2h.8m.1 .3h.8m2.1 0h.8m1.2-.3h.8m20.8-.1h.8m31.1-.1h.8m3.4 0h.8m2.5 .8h.8m55.1-.2h.8m0-.2h.8m2.8 .3h.8m5.1-.4h.8m-133.1 .7h.8m1.8 .4h.8m4.1 .1h.8m51.9 .1h.8m.8-.5h.8m.6 .6h.8m2.1-.6h.8m18.7 .7h.8m41.5-.3h.8m24.6-.4h.8m4.6 .5h.8m-167.6 .6h.8m1.7-.1h.8m6.5 .7h.8m57 .1h.8m2.7-.3h.8m2.4-.1h.8m-73.4 1h.8m10.8 .3h.8m53.7-.7h.8m1.9 .5h.8m1.8-.3h.8m52.4 .5h.8m.8-.6h.8m10.7 .4h.8m-132.1 .8h.8m3.5 0h.8m2.1 .1h.8m-11.5 1.1h.8m1.1-.6h.8m23.4 .4h.8m30.9 .3h.8m2.7-.2h.8m1.7 0h.8m5.2-.2h.8m.8 .6h.8m47.6-.7h.8m2.7-.1h.8m4.1 .8h.8m2.4-.1h.8m.5-.6h.8m-121.7 .7h.8m.7 .3h.8m49.4 .6h.8m7.1-.7h.8m1.1-.1h.8m54.8-.1h.8m-116.3 1.6h.8m107.8 0h.8m2.1 .1h.8m.1-.2h.8m15.4 .4h.8m-145.9 .1h.8m8.9 .3h.8m48.2 .5h.8m11.5-.1h.8m53.7-.1h.8m-.2 0h.8m1 .1h.8m6.2-.1h.8m21.9-.3h.8m.9 .4h.8m-143.5 .3h.8m44.2 .7h.8m6.5-.3h.8m3.4 .3h.8m51.8-.4h.8m.5 .3h.8m-110.7 1.8h.8m-181.8 7.6h.8m46.5 .8h.8m-.5-.2h.8m0-.6h.8m-.7 .2h.8m9.5 .1h.8m1.4 .1h.8m-190.5 1.3h.8m67.8-.1h.8m28.4-.3h.8m73.4 .6h.8m1.9-.4h.8m3.8 .5h.8m1.6-.1h.8m.2 0h.8m-.1-.5h.8m-181.6 1.4h.8m55.3-.2h.8m34.5-.5h.8m1.3 .8h.8m20.9-.6h.8m45.9 .3h.8m4.3 0h.8m1.1-.3h.8m5.1-.2h.8m-.3 .1h.8m.7 0h.8m2.5 .8h.8m2.7-.8h.8m1.9 .1h.8m-190.8 1.5h.8m57.9-.1h.8m5.1 .2h.8m2.4-.2h.8m39.2-.4h.8m-.8-.1h.8m9.1 .6h.8m4.7-.4h.8m1.3 .2h.8m3.3-.3h.8m2.8-.2h.8m44.8 0h.8m.4 .6h.8m1-.5h.8m4.5 .4h.8m.5-.6h.8m.2 .2h.8m-209.4 1.6h.8m65.4 0h.8m4.7-.2h.8m10.8-.2h.8m1.9 .3h.8m-.1-.5h.8m19.5 .3h.8m8.7-.2h.8m.3 .7h.8m14.1-1h.8m5.4 .8h.8m3-.4h.8m46.2-.3h.8m10 .2h.8m-.7 0h.8m3.4 .7h.8m.8-.3h.8m5.1-.3h.8m-207.4 1.4h.8m23-.8h.8m48.9 0h.8m1.5 .5h.8m2.7 .2h.8m.8-.1h.8m1.9-.5h.8m25.1 0h.8m4.5 .3h.8m10.6 .3h.8m2.3-.5h.8m1.1 .2h.8m58.6 .3h.8m7-.1h.8m3.6-.4h.8m-188.3 1.6h.8m87.4-.2h.8m4.2-.2h.8m6.3-.3h.8m23.5 .3h.8m6.6 .5h.8m34.8-.1h.8m13.8 .2h.8m-.8-.7h.8m-.4 .4h.8m1.3-.4h.8m-205.9 .9h.8m24.4-.1h.8m62.6 0h.8m17.5 .8h.8m.8 0h.8m9.1-.7h.8m19 .3h.8m7.2-.4h.8m44.5 .3h.8m5.1 .2h.8m6.3 .3h.8m1.4-.5h.8m0 .2h.8m-211.5 .6h.8m20.5 .6h.8m13.2 .2h.8m47.4-.3h.8m5.6-.2h.8m19.1-.4h.8m11 0h.8m8.5 0h.8m11.8 .4h.8m-.2-.3h.8m-.5 .5h.8m.5 .1h.8m1.3 .2h.8m7.4-.3h.8m47.1 .2h.8m7.9-.4h.8m-191.1 1.4h.8m53-.1h.8m9.4-.1h.8m1.5-.2h.8m2.8-.3h.8m16.2-.1h.8m4.1 .1h.8m8.6 .1h.8m18.1-.2h.8m50.9 .5h.8m-.2-.5h.8m-.8 .4h.8m1.6 .4h.8m-.3-.8h.8m8 .8h.8m4.4-.4h.8m-204.7 1.4h.8m4.3-.7h.8m6.9 .3h.8m8.5 .2h.8m52-.5h.8m3.5 .6h.8m-.7 0h.8m-.1 0h.8m3.2-.7h.8m1.6 .4h.8m27.5-.1h.8m10 .4h.8m2.1-.6h.8m57 .2h.8m6.3-.2h.8m2.5-.2h.8m.2 .7h.8m2.2 .1h.8m2.6-.1h.8m-.1-.5h.8m-127.7 1.7h.8m1.1-.8h.8m.6 .6h.8m30-.2h.8m1.8 .1h.8m.8 .2h.8m6.4-.1h.8m.1-.1h.8m13.7 .4h.8m.9-.3h.8m2.7-.1h.8m43.1-.4h.8m-.1 .4h.8m.2-.2h.8m1.2 .5h.8m10.3-.2h.8m1.8-.2h.8m-.2 .1h.8m-205 1.1h.8m15.7-.1h.8m-.3 0h.8m42.4-.5h.8m8.5 .3h.8m5.1-.4h.8m3 .3h.8m1.6-.2h.8m23.8 .8h.8m15.7-.2h.8m-.6 .3h.8m3.5-.8h.8m57.5-.1h.8m-181.3 1.1h.8m7.3 .7h.8m7.6-.2h.8m44.8-.2h.8m.9 .3h.8m7.2-.2h.8m2.1-.2h.8m36.1-.4h.8m.6 .6h.8m1.2-.6h.8m8 1h.8m-.4-.5h.8m11.4 .5h.8m1.2-.8h.8m49 .7h.8m4.3-.4h.8m-.5-.4h.8m-206.1 1.8h.8m7.6 .1h.8m6.4-.8h.8m55.6 .5h.8m2.9 .1h.8m1.8-.1h.8m-.4-.5h.8m1.2-.1h.8m3.9 .7h.8m1.5-.3h.8m.9 .2h.8m-.4-.4h.8m3.5-.2h.8m27.2 .4h.8m6.8-.2h.8m4.2 .1h.8m17.3 0h.8m36.8-.3h.8m8.7 .4h.8m.1 .4h.8m1.4-.4h.8m.2 .4h.8m.3-.8h.8m.4 .4h.8m.8-.3h.8m.6 .2h.8m-203.9 1.3h.8m3.6 0h.8m4.1-.6h.8m-.3 .3h.8m14.3 .2h.8m43.5 .4h.8m8-.1h.8m2.7-.5h.8m-.4 .6h.8m27.9-.8h.8m6.2 .7h.8m19.2 0h.8m43.1 0h.8m2-.7h.8m1.5 .5h.8m1.5-.5h.8m7.9 .7h.8m-.5-.6h.8m-195.8 1.6h.8m10.9 0h.8m.1-.8h.8m.1 .8h.8m54.8-.3h.8m-.8-.2h.8m1.7 .5h.8m.8-.9h.8m-.1 .4h.8m38.6 .4h.8m-.6-.1h.8m.1 .2h.8m.8-.5h.8m11.9 .2h.8m-.5 .1h.8m8.2-.1h.8m39.6 .2h.8m2.3 0h.8m3.8 .1h.8m6-.4h.8m.5-.1h.8m.2 .2h.8m1.4-.3h.8m.2 .2h.8m.2-.3h.8m-208.9 1.4h.8m6.3-.6h.8m9.1 .1h.8m6.6 .6h.8m1.7-.2h.8m43.3-.2h.8m1.5 .5h.8m-.2-.4h.8m4.6 0h.8m2.2 .3h.8m-.5 0h.8m1.7 .1h.8m-.8-.6h.8m.6 .2h.8m2.4 .2h.8m43.1 .3h.8m1-.2h.8m1.7-.3h.8m1.7 .3h.8m1.2-.4h.8m7.9 .5h.8m38.6 0h.8m1.6-.5h.8m5.2-.2h.8m-204.8 1.1h.8m-.6 .6h.8m10.2-.8h.8m1.8 .2h.8m3.9-.2h.8m-.6 .2h.8m61.1 .2h.8m4.2 .1h.8m3.2-.1h.8m.3-.1h.8m-.7 .7h.8m35.7-.1h.8m-.8-.5h.8m8-.4h.8m4.6 .5h.8m14.9-.2h.8m32.4 .5h.8m1.7-.6h.8m4.7 0h.8m-.7 .7h.8m5.5-.2h.8m.4-.2h.8m1.2-.3h.8m-198.3 1.1h.8m-.5 .3h.8m1.5-.5h.8m1.5 .8h.8m.9 0h.8m.3-.8h.8m2.2 .7h.8m66.7-.1h.8m3.9-.3h.8m27.3-.3h.8m3.5 .6h.8m1.6-.6h.8m1 .9h.8m8.9-.1h.8m11.2-.1h.8m-.6-.2h.8m40.3-.3h.8m4.1 .6h.8m.2-.5h.8m.1 .5h.8m2-.8h.8m2.8 .7h.8m-.3-.3h.8m.3 0h.8m4.9-.3h.8m-210.5 1.6h.8m7.8-.7h.8m18.3 0h.8m41 .1h.8m-.6 .1h.8m.5 .4h.8m7.9-.4h.8m1-.1h.8m2.6 .2h.8m1.1 .3h.8m-.2-.6h.8m3.9 .8h.8m36-.7h.8m.9 0h.8m1.2 .6h.8m-.1 0h.8m4.7 .2h.8m4.3-.9h.8m42.6 .2h.8m10.9-.3h.8m3.1 .2h.8m-198.3 1.5h.8m.4-.1h.8m4.5 0h.8m6.7-.3h.8m1.6 .1h.8m1.7 0h.8m-.1-.1h.8m42.2 0h.8m3.9-.1h.8m0-.1h.8m3.3 .2h.8m6-.3h.8m.5 .6h.8m-.8 .1h.8m2.1-.5h.8m.2 .4h.8m25.5-.1h.8m-.2 .4h.8m7-.5h.8m.9-.4h.8m.9 .1h.8m.8 .6h.8m1.5 0h.8m-.1 .2h.8m-.3-.2h.8m-.7 .2h.8m1.1 0h.8m2.7 0h.8m.9-.5h.8m9.4-.3h.8m44.8 .7h.8m2.3-.6h.8m-.2 .5h.8m2.5-.4h.8m3.3 .4h.8m-.6 0h.8m-.5-.4h.8m1.1 .7h.8m-217.9 .3h.8m5 .4h.8m4.8 .2h.8m6.9-.5h.8m-.7 .6h.8m12.9-.4h.8m45.9-.5h.8m11.7 .4h.8m2.8 0h.8m1.8 0h.8m25.5 .3h.8m-.4-.5h.8m2.1 .3h.8m4.7-.5h.8m.8-.1h.8m-.2 .4h.8m3.2-.1h.8m1.5 .6h.8m.3-.6h.8m-.6 .6h.8m1-.7h.8m-.4 .3h.8m-.8 .3h.8m-.1-.1h.8m6.7-.4h.8m.5 .6h.8m40.9-.7h.8m-.4 .4h.8m.5 .3h.8m1.4 0h.8m.7-.2h.8m.7-.5h.8m4.5 .8h.8m-.1-.2h.8m-.2-.3h.8m2.8 .3h.8m.2-.3h.8m.8 .2h.8m-.7-.2h.8m4-.3h.8m-208.7 .9h.8m.6 .3h.8m3.6 .4h.8m-.7 0h.8m-.6-.6h.8m3.7 .5h.8m1.4-.2h.8m50 .3h.8m10.4-.7h.8m2.7-.1h.8m.5 .1h.8m.7 .9h.8m-.8-.6h.8m-.7-.4h.8m29.7 .7h.8m3.1-.7h.8m.7 .6h.8m2.4-.5h.8m16.2 .7h.8m3.5 0h.8m43.3-.7h.8m5.7 .3h.8m9.4-.2h.8m-207.4 .8h.8m.3 .6h.8m3.8 .3h.8m2 0h.8m1.4-.8h.8m3 .5h.8m3.9-.6h.8m49.3 .7h.8m1.9-.5h.8m.6 .8h.8m.6-.3h.8m8.6-.1h.8m23.6-.6h.8m1.2 .3h.8m6.6 .1h.8m1.7-.4h.8m4 .4h.8m4 .2h.8m66.2 .1h.8m0-.3h.8m6.3-.3h.8m1.5 0h.8m-212.1 1.6h.8m4.7 .3h.8m-.1-.1h.8m.8 .1h.8m.6-.5h.8m3.3-.4h.8m-.6 .3h.8m3.4 .4h.8m59.1-.4h.8m-.6 .2h.8m7.8-.5h.8m30.1 .1h.8m.3 0h.8m24.6 .6h.8m.6-.1h.8m52-.5h.8m12.8 .4h.8m1.2-.1h.8m-210.4 1.2h.8m-.6-.2h.8m.6 .5h.8m10.1-.8h.8m4.8 .4h.8m62.7 .2h.8m28.2-.2h.8m1.4-.3h.8m.1 .5h.8m.8-.5h.8m.7 .7h.8m.8-.7h.8m5.7-.1h.8m3.4 .6h.8m1.1-.8h.8m5 .2h.8m-.4 .7h.8m4.7-.1h.8m48.6 .1h.8m3.3-.1h.8m-201.1 .2h.8m-.5 .1h.8m.5 .9h.8m9.4-.6h.8m1.8-.3h.8m67.7 0h.8m7 .3h.8m-.7 .1h.8m28.9 .1h.8m11.4-.5h.8m1.6 .3h.8m1.1 0h.8m6.2 0h.8m46.5-.2h.8m8.4 .3h.8m-.6 .5h.8m2.4-.2h.8m2.4-.3h.8m1.2 .1h.8m-205.8 .7h.8m-.8 .6h.8m3.2-.4h.8m2.8 .3h.8m59.3-.2h.8m1.9-.4h.8m.6 0h.8m9.6 .5h.8m2.5 .1h.8m.5-.3h.8m18.1-.1h.8m3 .2h.8m-.7-.2h.8m1.3-.3h.8m-.1 .3h.8m0-.2h.8m-.7-.1h.8m.9 .3h.8m-.8 .5h.8m-.6-.1h.8m1.7-.1h.8m3.5-.7h.8m9.2 .4h.8m-.5 .6h.8m1.5-.8h.8m5.7-.1h.8m52 .2h.8m-.7 .5h.8m-.1-.5h.8m10 .3h.8m1.1 .3h.8m.1-.2h.8m1.9-.6h.8m-206.8 1h.8m4.5 .6h.8m60-.6h.8m15 0h.8m0 .4h.8m5.4 .3h.8m14.3-.3h.8m-.4-.2h.8m.7 .5h.8m3-.1h.8m2.7-.1h.8m6.5-.2h.8m6.7 0h.8m61.4 .6h.8m4.6-.3h.8m3.4-.2h.8m-.1-.4h.8m3.3 0h.8m-213.5 1h.8m1.8 0h.8m3.2 0h.8m69.5 .6h.8m7.9-.1h.8m.3-.3h.8m2.1 .7h.8m23.7-.9h.8m-.6 .7h.8m1.2-.4h.8m23.4 .2h.8m-.3-.3h.8m.5 .7h.8m.3-.8h.8m48.8 .2h.8m5-.1h.8m-.5 .6h.8m6.6-.2h.8m.3 .1h.8m.1-.1h.8m0-.3h.8m3.3 .6h.8m-208.5 .9h.8m1.9 0h.8m-.6-.3h.8m68.8-.3h.8m1.3 .6h.8m.8-.7h.8m.5 .7h.8m.8-.8h.8m5.7 .9h.8m-.6-.8h.8m19.9-.2h.8m1 .9h.8m.2-.3h.8m4.3 .3h.8m17.7-.3h.8m50.9-.4h.8m4.7 0h.8m-.5 .5h.8m2.2-.1h.8m.4 .2h.8m.4-.7h.8m8.7 .3h.8m-220.2 1.5h.8m4.6 0h.8m-.2-.5h.8m6.1 0h.8m.6-.2h.8m-.7-.1h.8m6.6 .3h.8m44.5 0h.8m12.7 .2h.8m5 .2h.8m-.6 0h.8m3.5-.7h.8m6.3 .2h.8m22.1 .3h.8m1.7-.4h.8m-.6 .6h.8m14.8-.6h.8m1.6 .4h.8m4.8-.2h.8m2-.1h.8m57 .5h.8m1.3-.7h.8m-.7 0h.8m-.5-.1h.8m.6 .3h.8m1.8 0h.8m5.8 .5h.8m-207.7 .8h.8m1.6-.2h.8m3.2 0h.8m62.4 .3h.8m6.4-.3h.8m-.1 0h.8m1.9-.1h.8m-.2 .6h.8m-.6-.8h.8m3.3 .6h.8m-.8 .3h.8m20.3-.9h.8m.5 .1h.8m7.6 0h.8m5.4-.1h.8m1.6 .9h.8m3.1-.4h.8m59.8-.1h.8m-.1 .3h.8m.1-.7h.8m1.2 .7h.8m4.6-.5h.8m-.3 .3h.8m.2-.5h.8m-217.2 1.3h.8m9.3 .5h.8m7.5 0h.8m2.4-.5h.8m61.2 .2h.8m1.2 .2h.8m2.1-.1h.8m-.4-.4h.8m6.1-.1h.8m2.6 0h.8m23.6 .8h.8m0-.3h.8m.8-.1h.8m3.9-.1h.8m7-.1h.8m67.1 .4h.8m3.6-.1h.8m-.1-.4h.8m-208.4 1.6h.8m7.2-.5h.8m.8-.2h.8m.4 .2h.8m1.7 .4h.8m.3-.2h.8m68.3-.1h.8m2.8 .3h.8m29.5-.6h.8m1.8 .7h.8m1.8-.8h.8m9 .9h.8m5.7-.9h.8m-.7 0h.8m-.7 0h.8m3.4 .8h.8m52.1-.3h.8m5.3-.3h.8m7.7-.2h.8m-212.8 1.8h.8m.9 .1h.8m2.4 0h.8m1.5-.1h.8m-.1-.8h.8m-.4 .4h.8m-.4-.5h.8m-.7 .6h.8m.2 .1h.8m1.3-.1h.8m63 0h.8m2.9-.4h.8m3.1 .5h.8m1.2 .3h.8m1.7-.7h.8m-.8 .3h.8m.2 .3h.8m7.2-.7h.8m20.8 .3h.8m4.7-.3h.8m12.5 .6h.8m2-.4h.8m60.9 .2h.8m.7 0h.8m1.1 .3h.8m-.4-.1h.8m1.8-.8h.8m-.2 .1h.8m3.5 .9h.8m.9-.8h.8m3.9 .1h.8m-219.4 1.4h.8m2-.2h.8m3.6-.1h.8m5.1 0h.8m-.2 .2h.8m59.5 .1h.8m5.8-.5h.8m2.5 .3h.8m.9-.2h.8m-.1 .3h.8m6.3 .3h.8m41.1-.7h.8m3 .4h.8m1.8-.1h.8m57.6 .4h.8m0-.6h.8m7.9-.3h.8m11 .4h.8m-225.4 1.5h.8m2.4-.6h.8m.9 0h.8m3.8 .1h.8m.1 .5h.8m.4-.1h.8m1.7-.5h.8m.6 .4h.8m-.6-.1h.8m1.1-.2h.8m53.8 .4h.8m1-.6h.8m5.4 .2h.8m10.5 .3h.8m2.5-.5h.8m-.5 .4h.8m27.9-.5h.8m1.2 .6h.8m-.6-.6h.8m7 0h.8m8.8 0h.8m64.4 .5h.8m3.4-.4h.8m-210.8 1h.8m-.5 0h.8m.6 0h.8m-.3 .7h.8m-.5-.5h.8m3.1-.2h.8m4.5 .2h.8m1.2 .2h.8m60.5-.4h.8m3.4 .6h.8m.4-.6h.8m.8 .1h.8m1.5 .4h.8m2.2 .3h.8m1.6-.6h.8m-.7 .1h.8m.7-.5h.8m-.7 .4h.8m25-.2h.8m.6-.1h.8m2.7 0h.8m2.1 .1h.8m76 .1h.8m.8 .3h.8m-.7-.1h.8m-.6 .4h.8m-208.8 .3h.8m5.9-.1h.8m-.7 .6h.8m-.2-.2h.8m-.6-.2h.8m1.1 .4h.8m.4 .1h.8m1.2 0h.8m73.2-.8h.8m-.6 .1h.8m-.3 .1h.8m2.7 .7h.8m.5-.3h.8m3.3-.6h.8m.2 .3h.8m24.5 .3h.8m83.4-.2h.8m2.1 .5h.8m-208.8 .7h.8m-.6 .1h.8m4.7-.2h.8m2.5-.3h.8m65.5-.2h.8m12.1 .1h.8m10.7 .5h.8m22 .4h.8m-.3 0h.8m1.9 0h.8m74.6-.8h.8m5.7 .1h.8m-206.5 .7h.8m3.2 0h.8m-.5 .5h.8m.2 .3h.8m75.5-.3h.8m17.8-.4h.8m99.9 .5h.8m9.4 0h.8m-210.9 .5h.8m64.3 25.6h.8m-5.6 .6h.8m6.9 .5h.8m-3.7 .5h.8m-3.4 1.4h.8m-.5 .1h.8m-7.1 1.1h.8m7.2-.8h.8m2 .3h.8m1 0h.8m1.3-.1h.8m-13.7 1.3h.8m2.3-.2h.8m1.7 .1h.8m-.8-.2h.8m-6.1 1.3h.8m1.7 .1h.8m1.2-.1h.8m19.3-.3h.8m-25.8 1h.8m2.8 .5h.8m-.3-.3h.8m.7-.4h.8m.8 .2h.8m.6 0h.8m2.7-.3h.8m-10.7 1.8h.8m.1-.7h.8m1.9 .9h.8m-.5-.8h.8m1.3 .6h.8m-.8 .1h.8m6.2-.6h.8m-13.5 1.3h.8m2.8 0h.8m-.6-.3h.8m.3-.2h.8m-.6 .8h.8m5-.8h.8m-16.8 1.2h.8m3.7 0h.8m1.5 .6h.8m.9-.4h.8m-.4-.1h.8m3.3 .1h.8m-10.3 1.3h.8m3.5-.5h.8m13.6 .6h.8m4.7-.2h.8m11.8-.3h.8m-37.7 1.1h.8m2.3-.3h.8m.6-.1h.8m2.3 .1h.8m5.3 .8h.8m5.5-.8h.8m10.2 .1h.8m-27 1.6h.8m.6 3.8h.8m125.8-.4h.8m12.8 1h.8m-149 1.8h.8m2.7 1h.8m1 .5h.8m3.6-.2h.8m-6.7 1h.8m131.9 .1h.8m15.5 .4h.8m-143.3 .6h.8m29.2-.4h.8m90.9 .8h.8m1.7 0h.8m7.7-.1h.8m7.9-.6h.8m-9.9 1.1h.8m7.3-.2h.8m1 .2h.8m-152.7 1.2h.8m.5 .5h.8m3.8-1h.8m11.7 .2h.8m115 .5h.8m-.6-.4h.8m1.1 .3h.8m-135 .8h.8m1.6-.3h.8m3.9 .2h.8m-.7 .5h.8m3.8-.4h.8m133.5 .3h.8m-145.1 .5h.8m122.5 .4h.8m-122.4 1.2h.8m.5-.1h.8m-.5 .1h.8m.2 0h.8m14.6 0h.8m110.5 .1h.8m-128.8 .3h.8m3-.1h.8m112.4 .5h.8m6.5-.1h.8m1-.4h.8m-131.9 1.2h.8m7.9 .4h.8m23.4-.6h.8m120.6 .5h.8m-22.4 .8h.8m28 1.2h.8m-157.5 .5h.8m128.1 .2h.8m23.9 .4h.8m-39.2 .8h.8m5 .2h.8m4.2-.3h.8m1.9 .3h.8m2.3-.4h.8m-111.2 .8h.8" stroke="#000" stroke-width="0.8" opacity="0.22"/>
<path d="M283.6 46h.8m-3.9 2.1h.8m2.3-.1h.8m1.5-.3h.8m2.6 .4h.8m.3 .2h.8m-4.8 .7h.8m.6 .4h.8m6 0h.8m176.5-.1h.8m-186 1h.8m-7.5 .7h.8m4 0h.8m1.3-.5h.8m.6 .8h.8m-.6 .1h.8m4.4-.1h.8m-.1-.7h.8m-11.5 .9h.8m1.4 .5h.8m3-.4h.8m-7.4 1.5h.8m4.5 .3h.8m1.4-.3h.8m-.1-.6h.8m1.5 .6h.8m4-.2h.8m163.7-.4h.8m12.6 .7h.8m-192.4 1h.8m1.3-.6h.8m-.7-.1h.8m-.5 .6h.8m-.7-.3h.8m5.1-.1h.8m-.1 .2h.8m-9.6 .8h.8m2.5 .2h.8m-.4 .3h.8m-.2-.1h.8m-.6-.2h.8m0 .5h.8m13-.5h.8m160.5-.1h.8m4.9 .5h.8m10.3-.3h.8m-203.1 .7h.8m4.7 .6h.8m6.5-.1h.8m.8-.2h.8m183.2 0h.8m-184 1.3h.8m.5-.5h.8m.7-.1h.8m-.5-.2h.8m169.2 .8h.8m3.8 0h.8m-191.6 .3h.8m1.6 .3h.8m-.3 .4h.8m7.9 0h.8m13.3-.4h.8m158.9 0h.8m-175 .7h.8m.6 .7h.8m.5 .1h.8m171.2-.8h.8m2.1 0h.8m2.4 0h.8m3.7 .4h.8m-181.5 .7h.8m9 .7h.8m157-.6h.8m2.9-.1h.8m10.3 .1h.8m-197.2 1.2h.8m3.8 0h.8m184.3-.1h.8m5.1-.3h.8m-195.6 1.3h.8m183.2 .6h.8m4.6-.4h.8m5.2 .6h.8m-10.1 1h.8m-.3 .8h.8m-109.2 .3h.8m102.1-.3h.8m5 .7h.8m.1-.7h.8m7.1 .4h.8m-175.8 1.3h.8m102.8 0h.8m7.6-.4h.8m47.7 .5h.8m3.6 0h.8m2.9-.5h.8m-194 1.7h.8m150.3-.6h.8m39-.3h.8m.1 .3h.8m4.9 0h.8m2.2-.2h.8m-71.4 1.1h.8m2 .4h.8m54.7-.2h.8m27.6 0h.8m-213.9 .6h.8m25.3 .7h.8m103.1-.5h.8m1.4 .1h.8m16.6 .5h.8m37.3 0h.8m1.3-.2h.8m3-.3h.8m17 .4h.8m-211.5 .4h.8m2.1 .5h.8m0 .2h.8m-.3 .1h.8m2.6 0h.8m4.9-.3h.8m130.2 .3h.8m73.8-.4h.8m-220.2 .5h.8m1.9 .1h.8m3.8 .1h.8m32.6-.1h.8m146.5-.2h.8m1.9 .2h.8m1.5 0h.8m2.4 0h.8m-197.5 1h.8m2.3 .5h.8m1-.4h.8m1.9-.2h.8m7.7 .5h.8m63.6 .2h.8m-.7 .1h.8m9.8-.5h.8m8 .4h.8m29.8-.1h.8m.5-.2h.8m68.1 0h.8m-.7 .1h.8m-205 .9h.8m51 .1h.8m17.5 .1h.8m-.7-.3h.8m-.5 0h.8m1.6-.2h.8m5.9 0h.8m46 .1h.8m8.3 .5h.8m12.9 0h.8m4.2 0h.8m7.9-.6h.8m24.7 .5h.8m6.7-.6h.8m3.4 0h.8m22.7 .3h.8m-211.8 1.5h.8m15.4-.2h.8m6.2-.6h.8m4.5 .2h.8m37 0h.8m39.6 .4h.8m8.6 .2h.8m8.6-.2h.8m1.8-.1h.8m9.1-.4h.8m-.6 .6h.8m50 0h.8m-192.6 .6h.8m8.4 .5h.8m10-.1h.8m8.7-.4h.8m23.2-.3h.8m9.1 .5h.8m5.3 .3h.8m44.7-.1h.8m3.6-.8h.8m20.7 .1h.8m30.9-.1h.8m5.3 0h.8m7.5 .2h.8m.6 .7h.8m2.7-.3h.8m-.1 .3h.8m-192.5 .4h.8m2.8 0h.8m51.4 .6h.8m6.5-.2h.8m9-.1h.8m-.1 .3h.8m107.9-.1h.8m1.5-.1h.8m-160.9 1.1h.8m42.7 .1h.8m48.1-.5h.8m9.7-.1h.8m8.3 .6h.8m2.2-.4h.8m.2-.4h.8m38.2 .2h.8m.7-.2h.8m.5 .1h.8m1.7-.1h.8m-188.4 1.6h.8m4.3 .2h.8m60.5-.5h.8m18.6 .5h.8m.7 0h.8m100.6-.8h.8m26.6-.1h.8m-217.4 2h.8m3.6-.2h.8m1-.8h.8m1.7 .8h.8m56.2 .2h.8m10.7-.8h.8m7.1-.2h.8m38.4 .6h.8m-.4-.1h.8m6 .4h.8m54.5-.8h.8m-.1 .2h.8m-.5 .3h.8m18 0h.8m-208.5 1.3h.8m8.3-.4h.8m56.6 .2h.8m14.3-.5h.8m21.1 .8h.8m11.6-.5h.8m8.4-.3h.8m18.3 .5h.8m8.5-.1h.8m24.1-.6h.8m-.5 .6h.8m4.5 0h.8m5.3-.2h.8m-.3-.3h.8m4.6 .5h.8m-191.5 .7h.8m24.4-.1h.8m48.9-.1h.8m114.1 .8h.8m5.1-.8h.8m-202.8 1.7h.8m-.6-.5h.8m.6 0h.8m3.5 .5h.8m.8-.5h.8m1.3 .4h.8m48.5-.6h.8m10.7 .6h.8m.3-.5h.8m8.4 .6h.8m-80.2 1.1h.8m60.8 0h.8m9.1 0h.8m65.7-.3h.8m52.8 .2h.8m-193.1 .6h.8m1.6 .6h.8m71.6-.6h.8m-2.9 .7h.8m10.4 0h.8m97.9 .7h.8m-.4-.5h.8m3.2 .5h.8m.3 0h.8m-181.2 .5h.8m6.8 0h.8m58.5 29.7h.8m-3.4 1.8h.8m-7.8 .5h.8m1.5 .5h.8m50.8-.2h.8m-1.8 1.4h.8m65.2 .5h.8m-63.7 .5h.8m4.6 .8h.8m-59.3 .3h.8m120.3 .8h.8m-.5-.8h.8m-130.7 1.6h.8m7.7 0h.8m49-.6h.8m5.8 .8h.8m-57.6 .5h.8m55-.3h.8m-.1 .7h.8m61.7-.7h.8m2.6 .5h.8m-128.1 1.3h.8m54.9 0h.8m13.2-.5h.8m-62.2 1h.8m-.3 .3h.8m44.5 .2h.8m1.2-.3h.8m7.5-.2h.8m58.3 .2h.8m1.5-.5h.8m.4 .1h.8m-131.2 .9h.8m55.6 .7h.8m1.3-.8h.8m5.8 .9h.8m-.1 0h.8m4.8-.8h.8m56.8 .6h.8m2.8-.2h.8m2.2-.1h.8m-128 1.3h.8m53.6-.5h.8m56.7-.1h.8m-.2 .8h.8m-122.6 .3h.8m57.5 .4h.8m13.4 .1h.8m53.1-.4h.8m3.2 .1h.8m4.6 .4h.8m-131.6 .7h.8m51.2 .2h.8m4.8-.6h.8m.7 .9h.8m57.6-.9h.8m3.9 .5h.8m-.4 0h.8m6.5 .2h.8m4.3-.1h.8m-135.8 .6h.8m52.6 .1h.8m7.5 .6h.8m1.1-.8h.8m64-.1h.8m3.9 .1h.8m-137.8 1.2h.8m.5-.1h.8m8.1 .7h.8m48-.2h.8m1 .2h.8m4.9-.8h.8m59.6 .3h.8m1.8 0h.8m7.1-.1h.8m2.7 .3h.8m-142.2 .9h.8m4 .1h.8m3.9 0h.8m2 .1h.8m44.1-.1h.8m2.9 0h.8m65.4 .1h.8m2.3-.1h.8m-127.7 .8h.8m-.3 .2h.8m52.9-.7h.8m4.2 .8h.8m0-.4h.8m62.3 .3h.8m3.7 0h.8m-.2-.1h.8m.7 0h.8m-129.9 .7h.8m-.3-.1h.8m64.1 .4h.8m49.8 .2h.8m6.2-.3h.8m9.6-.4h.8m-126.3 1.4h.8m113.4-.3h.8m3.9 .4h.8m-125.6 .5h.8m-.5 .2h.8m4.4 0h.8m44.3 0h.8m11.2 .2h.8m-59 1h.8m59.7 0h.8m-.4 .3h.8m1-.6h.8m53 .5h.8m4.1-.3h.8m-131.8 .6h.8m4.7 1h.8m2.2-.2h.8m2.7-.2h.8m42.9-.5h.8m.6 .5h.8m-55.1 1.3h.8m10.4-.4h.8m49.2 .1h.8m3.2-.2h.8m55-.2h.8m-.7 .7h.8m31.3-.3h.8m-163.4 .7h.8m7.9 .1h.8m-.5 .6h.8m5.8-.8h.8m53.8 .1h.8m-.1 .2h.8m21.6-.3h.8m37.1 .2h.8m-126.9 .9h.8m4.5 .5h.8m2.9-.6h.8m0 .4h.8m-.7 .1h.8m2.3-.3h.8m45.8-.1h.8m8 .3h.8m63.8-.4h.8m-128.3 1.7h.8m-.1-.7h.8m1.8 .3h.8m47.2 .2h.8m7.2-.2h.8m3.5 .1h.8m11.5 0h.8m-84 1h.8m3.1-.2h.8m-.4 .5h.8m3.7-.8h.8m23.5 .4h.8m27.8-.4h.8m1.2 .8h.8m61.7-.5h.8m-119.5 1h.8m-.1-.2h.8m1.4 .5h.8m2.6 .1h.8m.4-.5h.8m2.3 .3h.8m2.9 .1h.8m41.1-.7h.8m.5 .6h.8m1.9-.1h.8m1.6 .3h.8m-.1-.7h.8m-.5 .5h.8m.1 .3h.8m.6-.8h.8m48.6 .6h.8m31.1-.1h.8m-129.3 1.1h.8m45.4 .2h.8m69.1-.5h.8m.5 .5h.8m17.9-.4h.8m-165.6 1.2h.8m1.1-.6h.8m3.4 .5h.8m13.9-.6h.8m19.4 .2h.8m25.5 .4h.8m6.9-.2h.8m-8.9 1h.8m.2 .4h.8m.3-.3h.8m.7 0h.8m14.9 .1h.8m46.3-.2h.8m-129.2 .9h.8m-.6 .5h.8m.1-.4h.8m15.9 .3h.8m37 .2h.8m5.9-.5h.8m3-.2h.8m10.2 0h.8m3.3 .2h.8m.3 .3h.8m37.8-.6h.8m4.5 .2h.8m-.1 0h.8m2.1-.3h.8m-64.9 1.3h.8m.6 .2h.8m-.4-.3h.8m.5 .3h.8m3.2 .4h.8m-78.6 .5h.8m3.7 .6h.8m63.1-.9h.8m61.3 .5h.8m.8 0h.8m-124.5 .9h.8m9.5 .3h.8m47-.4h.8m19.3-.3h.8m-76.5 1.4h.8m21.9 .4h.8m32.5 .1h.8m2.9-.9h.8m15.4 .8h.8m11.1-.3h.8m50.7-.2h.8m-139.3 .7h.8m29.1 .4h.8m23.5-.2h.8m-.5-.2h.8m-.5 .8h.8m2-.7h.8m3.8 .7h.8m57-.1h.8m2.3-.3h.8m0 .4h.8m-127.5 .1h.8m-.4 .3h.8m-.2 .3h.8m2.3-.5h.8m64 .4h.8m46.1-.1h.8m-.6 .9h.8m-110.9 1h.8m45.5 .1h.8m5.8-.4h.8m9.6 .9h.8m45.2-.4h.8m-112.2 1h.8m1.8-.2h.8m1.9 .4h.8m49.3-.6h.8m64.2 .7h.8m.8-.1h.8m15.7 .1h.8m-140.1 .3h.8m55.6 .8h.8m-64.2 .5h.8m1.4-.1h.8m-.3 .6h.8m-.6-.2h.8m.7 .2h.8m69.1-.6h.8m17.1-.1h.8m28.9 0h.8m-89.7 .9h.8m-215.2 7.6h.8m-108.4 1h.8m61.8 0h.8m26 .1h.8m4.1-.2h.8m2.8-.4h.8m13.8 .6h.8m46.5-.4h.8m5.8 .5h.8m5.5-.8h.8m5.3 .5h.8m2.2 .2h.8m-184.7 .6h.8m59.1 .1h.8m25.7 .2h.8m5.8-.4h.8m.9 .1h.8m5 .5h.8m.2-.9h.8m.3 .7h.8m57.3 0h.8m2.3 .1h.8m4.5-.8h.8m7.4 .8h.8m.5-.1h.8m2-.4h.8m-.2 .4h.8m-200.3 1.1h.8m79.6 .1h.8m22.4 0h.8m31.3-.2h.8m42.8 .3h.8m2.1-.5h.8m1.7-.1h.8m3.8 0h.8m-.6 .2h.8m3.2 .3h.8m-.6-.2h.8m-.4 .3h.8m-.4-.7h.8m1.5 .2h.8m.8 .5h.8m-.6-.4h.8m-129.3 1.4h.8m4.4-.1h.8m2-.1h.8m-.2 0h.8m4-.2h.8m40.4-.5h.8m55.4 .8h.8m1.1-.8h.8m0-.1h.8m2.6 1h.8m11.2-.4h.8m0 .2h.8m1.2 .1h.8m-.1-.1h.8m-.6-.5h.8m-210 .9h.8m23.9 .4h.8m53.1-.6h.8m1.1 .1h.8m1.7 .7h.8m.8-.1h.8m25.5-.3h.8m7.9 .4h.8m12.9 0h.8m-.3-.1h.8m10.4-.1h.8m2.8 .3h.8m37.8-.8h.8m.2 .2h.8m3 .3h.8m3.3 .3h.8m1.3-.6h.8m6.1 .1h.8m.2-.1h.8m2.5-.3h.8m-187.6 1.6h.8m63.4-.5h.8m19.4 .8h.8m39-.2h.8m4.2-.4h.8m31.6 .2h.8m17.5 .5h.8m1.5-.4h.8m1.8 .1h.8m1.7 .2h.8m-183.8 .7h.8m-.7-.3h.8m39.6 .5h.8m5.8-.4h.8m5.1 .4h.8m5.2 0h.8m28.3 0h.8m1.5-.6h.8m11.9 .5h.8m76.6-.2h.8m-212.1 .5h.8m31.9 .2h.8m41.8 .4h.8m1.4-.1h.8m8.3-.3h.8m3.4 .6h.8m.2 0h.8m-.1-.6h.8m34.9-.1h.8m18.4 .4h.8m1.8 0h.8m3.9 .1h.8m53.5-.5h.8m1.8 .3h.8m-202.5 1.2h.8m12.9 0h.8m83.8 .3h.8m15-.8h.8m-.4 .7h.8m.1 0h.8m3-.2h.8m2.8-.2h.8m57.2 0h.8m10.9-.4h.8m.3 .1h.8m2.9 0h.8m.8 .2h.8m1.3-.2h.8m.3 .4h.8m1.9 .4h.8m-212.5 .9h.8m10.8 .2h.8m4.7-.2h.8m3.6 0h.8m.8 0h.8m52.1-.1h.8m46.8-.1h.8m2.3 .2h.8m3.5 .1h.8m11.7-.6h.8m.8 .1h.8m5.1 0h.8m40.1 .3h.8m-.4 .3h.8m8.5-.1h.8m.4-.6h.8m2.9 .1h.8m2.1-.2h.8m-200 1.1h.8m-.1 .3h.8m1.7-.3h.8m0-.1h.8m6.9 .2h.8m8.6 .3h.8m38.6-.1h.8m8-.4h.8m4.9 .7h.8m2.2-.7h.8m0 .2h.8m.4 0h.8m33.4-.2h.8m-.1 .1h.8m6.6 0h.8m10.1 .1h.8m.5 .5h.8m47-.3h.8m2.3-.2h.8m3.8-.2h.8m.3 .3h.8m2.6 .3h.8m0-.8h.8m-.4 0h.8m1.7 .6h.8m-187.2 .7h.8m53.2 .4h.8m6.9-.1h.8m.1 .1h.8m2.5-.1h.8m30.1 .1h.8m9.1 .1h.8m8.1 .2h.8m2.5-.8h.8m2.1 .2h.8m.4 0h.8m45.4 0h.8m5.4 .5h.8m.3-.6h.8m-.6 .4h.8m.8-.2h.8m1.1-.3h.8m.6 .1h.8m-.8 .1h.8m-.4 0h.8m2.4 .2h.8m-191.9 1h.8m1.7-.4h.8m-.4 .5h.8m4.3-.3h.8m55.4 0h.8m1.4 .1h.8m.5 .2h.8m-.7 .1h.8m-.6-.8h.8m-.2 .7h.8m1.6-.3h.8m18.3-.3h.8m3.7-.1h.8m2.3 .4h.8m3.8 .3h.8m4.9 0h.8m8.1-.7h.8m3.7 .8h.8m2.3-.3h.8m46-.4h.8m3.9 .2h.8m.1 .2h.8m4.4 0h.8m2 .4h.8m1.1-.1h.8m-195.4 .9h.8m12 0h.8m.5-.5h.8m46.7 .2h.8m10.3 0h.8m4 .5h.8m2.5-.7h.8m-.7 .2h.8m25.4 .5h.8m-.4-.3h.8m-.5-.4h.8m.4-.1h.8m.2 .2h.8m8.3 .5h.8m-.3-.2h.8m3.3 0h.8m5.6 .2h.8m2.4-.8h.8m8.2 .7h.8m34 0h.8m5.1-.2h.8m3.8 .5h.8m9.1-.5h.8m.8-.3h.8m-197.4 1h.8m-.8 .6h.8m61.5 .1h.8m2.6 .1h.8m2.2-.8h.8m-.6 .6h.8m.2-.7h.8m3.5 .5h.8m.1 .1h.8m-.4-.1h.8m.5 .4h.8m37.8-.4h.8m1-.5h.8m0 .7h.8m.1-.7h.8m58.4 .2h.8m-.2 .6h.8m2.4-.5h.8m11.3-.1h.8m-.3-.1h.8m2.5 0h.8m-192.3 1.3h.8m6.5-.1h.8m.1 .1h.8m58-.3h.8m-.8-.1h.8m1.4 .3h.8m.6 .2h.8m.4 0h.8m27.3-.1h.8m6.1-.3h.8m3.1 .5h.8m1.4-.3h.8m2.8 .4h.8m1.3 .1h.8m4.1-.5h.8m4.6-.1h.8m.5 .7h.8m1.4 0h.8m39.8-.4h.8m-.5 .3h.8m3.7-.7h.8m0 .1h.8m3.9 .5h.8m.7 .1h.8m-.8-.7h.8m.1 .5h.8m7.5-.3h.8m-210.4 1.4h.8m1.8-.2h.8m1.4-.4h.8m.5 .1h.8m8.5 .6h.8m.6-.5h.8m5.1-.1h.8m1.4 .7h.8m80.4-.6h.8m-.6 .4h.8m6.7-.2h.8m5.1-.3h.8m.7 .6h.8m16.1-.6h.8m.1 .2h.8m.9 .3h.8m50.9-.6h.8m1.4 0h.8m-.7-.1h.8m.8 .9h.8m1.6-.2h.8m8.9-.8h.8m.4 .8h.8m-156.8 .5h.8m28.8 .1h.8m-.7-.2h.8m.3 .5h.8m1-.1h.8m-.3-.1h.8m29.5-.1h.8m6.3 .5h.8m-.2-.8h.8m2.9 .9h.8m10-.5h.8m9.6-.1h.8m34.6 .5h.8m8.9-.9h.8m4.3 .1h.8m3 .6h.8m-.8 .2h.8m-199.9 .6h.8m-.6 0h.8m.2 .3h.8m.9-.7h.8m-.3 .8h.8m3.4 0h.8m1.2-.5h.8m.6 0h.8m-.7 .2h.8m-.8-.3h.8m.7 .6h.8m.1-.2h.8m-.2 .1h.8m.5-.7h.8m35.1 .4h.8m12.2 .1h.8m2.2-.1h.8m6.9-.2h.8m2.1 .2h.8m37.5-.2h.8m3 0h.8m-.4 0h.8m.4 .2h.8m2.1 0h.8m-.5-.5h.8m14.3 1h.8m2.2 0h.8m.2-.8h.8m1.1 .5h.8m38.8 .1h.8m2.9-.6h.8m8.3 .6h.8m.4-.6h.8m-205.7 1.1h.8m2.1 .5h.8m2.3-.7h.8m.1 .7h.8m8.4-.3h.8m-.2 .2h.8m1.5-.6h.8m58.9 0h.8m3.8 .2h.8m0-.1h.8m.8-.1h.8m.3 .5h.8m27.4-.1h.8m-.6 .3h.8m.5 .2h.8m6.5-.7h.8m2 0h.8m6.5 .3h.8m7.9-.2h.8m-.5 .2h.8m-.5 0h.8m-.6-.4h.8m4.1 .6h.8m-.2 .1h.8m-.1-.4h.8m36.5 .4h.8m.6-.1h.8m1.6-.3h.8m3.8-.4h.8m1 .7h.8m5.5-.3h.8m1.8-.4h.8m1.1 .8h.8m-205.2 .9h.8m10.7 0h.8m-.3 0h.8m5.6 .1h.8m1-.8h.8m30.3 .6h.8m21.7 .3h.8m6.7-.4h.8m-.7-.4h.8m.3 .8h.8m-.8-.3h.8m32.8-.1h.8m-.5 0h.8m12.3 0h.8m-.5-.6h.8m1.1 .8h.8m.6-.2h.8m1-.5h.8m1.3 .2h.8m1.7 0h.8m-.4 .6h.8m40.8-.7h.8m3.6-.1h.8m2 .8h.8m4.1-.2h.8m.2 .2h.8m7-.6h.8m-195.8 .8h.8m1.2 .4h.8m3.2 .4h.8m.6-.7h.8m45.3 .1h.8m2.9 .5h.8m2.4-.3h.8m.8 .5h.8m-.5-.6h.8m8.6 .2h.8m-.3 .1h.8m3.4-.5h.8m-.1-.2h.8m37.7 .5h.8m6.3 .3h.8m3.2-.5h.8m4.5 .3h.8m7.4-.6h.8m48.2 .7h.8m2.5 .1h.8m-.4-.7h.8m-.2 .4h.8m-208.4 .6h.8m-.7 0h.8m1.9 .3h.8m1 .1h.8m.6-.2h.8m13 .3h.8m.8-.4h.8m34-.2h.8m3.4 0h.8m22.1 .1h.8m-.6 .2h.8m.5 .6h.8m-.6-.4h.8m2 .5h.8m-.6-.6h.8m1.7-.1h.8m20.5 0h.8m1.5 .6h.8m2.1-.6h.8m9-.3h.8m7 .6h.8m-.6 .3h.8m5.7-.7h.8m.1 .2h.8m55.3-.1h.8m3.8 .1h.8m-.5 .4h.8m1.3 .2h.8m7.3-.1h.8m0 0h.8m-213.9 .6h.8m2.7 .5h.8m3-.3h.8m2.4 .1h.8m-.3 .1h.8m52.8-.3h.8m2-.3h.8m5 .3h.8m-.6 .3h.8m1.9-.8h.8m8.6 0h.8m.7 .9h.8m.1-.8h.8m-.1 .5h.8m.3-.1h.8m-.7-.3h.8m23.6 .2h.8m15.5 .3h.8m-.4-.7h.8m2.3 .4h.8m-.2 .1h.8m-.1-.3h.8m62.2 0h.8m4 .5h.8m4.2-.6h.8m-219.3 1h.8m5.9 .6h.8m10.8 .1h.8m-.3-.2h.8m3.2-.5h.8m.7 .1h.8m58.6 .5h.8m1.5-.3h.8m6.3 .5h.8m5.1-.3h.8m20.2 .2h.8m3.6 .1h.8m-.2-.5h.8m11.9-.4h.8m4.1 .1h.8m.7 0h.8m-.6-.1h.8m8.4 .3h.8m43.8-.2h.8m2.2 .4h.8m0 .1h.8m-.3-.6h.8m4.2 .2h.8m-195.9 1.3h.8m-.1-.1h.8m1.6-.1h.8m-.1-.1h.8m3.9 0h.8m.3 .4h.8m.3-.4h.8m.6 0h.8m9.4 .2h.8m59.2-.1h.8m-.4 .6h.8m33.9-.8h.8m3.1 .6h.8m7.3-.1h.8m5.5-.3h.8m5.1 .5h.8m51.3-.2h.8m-.6-.1h.8m5.8-.4h.8m3.4 .6h.8m3.1 0h.8m-.1-.8h.8m-211.1 1.4h.8m-.8 .1h.8m-.3-.1h.8m-.1-.1h.8m1.6 .6h.8m-.7-.6h.8m1.5 .3h.8m-.5 .3h.8m7.2 0h.8m2.7-.3h.8m59.5 .1h.8m4.3 .3h.8m.8-.8h.8m.3 .2h.8m2.3 .2h.8m19.8-.6h.8m1.3 .7h.8m-.4-.1h.8m-.2-.4h.8m2.2 .2h.8m-.1 .5h.8m72.2 0h.8m1.9-.2h.8m7.2 0h.8m2.5-.7h.8m.9 .3h.8m.3-.2h.8m2.2 .4h.8m-210.1 .9h.8m1.9 .5h.8m1.7-.8h.8m1.2 .5h.8m1.1-.1h.8m5.1 .4h.8m64.2-.7h.8m-.4 0h.8m1.6 .3h.8m1.7 0h.8m.5-.1h.8m26.4 0h.8m8.8-.3h.8m-.2 .6h.8m.9 0h.8m3-.3h.8m2.2 .5h.8m-.7-.6h.8m2.6 .4h.8m50.8-.2h.8m7.7-.4h.8m4.9 .3h.8m1.4-.2h.8m1.8 .7h.8m-210.2 .7h.8m3-.3h.8m1-.3h.8m2.3 .6h.8m-.4-.2h.8m7.6-.1h.8m64.8 .5h.8m.5-.2h.8m6.5-.3h.8m22-.2h.8m9.7 .2h.8m7.6-.3h.8m4.1 .1h.8m3.3 .3h.8m46.1-.1h.8m6.7 0h.8m3.1 .4h.8m4.6-.2h.8m1.5 0h.8m1.7-.2h.8m.5 .1h.8m-204.3 1.5h.8m.3-.5h.8m2 .1h.8m38.7-.1h.8m23.4 .2h.8m2.3 .2h.8m7-.2h.8m0 .2h.8m26.3-.7h.8m2.4 0h.8m-.4 .5h.8m7.8-.2h.8m11.1 .4h.8m-.2-.3h.8m.3-.3h.8m50.8 .2h.8m-.8 .4h.8m1.1 .1h.8m3-.6h.8m-.7-.3h.8m.6 .3h.8m2.8 0h.8m-.8-.3h.8m1.3 .4h.8m4.3 0h.8m-202.9 1.3h.8m4.2 .1h.8m1.8-.1h.8m64.9 .2h.8m1.6 0h.8m.7 0h.8m1.1-.4h.8m.8 .1h.8m-.1 .2h.8m23.5 0h.8m-.5 .1h.8m0-.8h.8m7.7-.1h.8m-.1 .8h.8m2.4-.7h.8m1.9-.1h.8m2.4 .8h.8m1.4-.5h.8m0 .3h.8m3.8-.1h.8m49.3-.2h.8m7.6-.1h.8m-.6 .3h.8m0-.4h.8m2.4 .2h.8m.2-.1h.8m.7 .7h.8m-.3 0h.8m0-.2h.8m4 0h.8m-210.9 .9h.8m2.5 0h.8m.4-.2h.8m6.8 .3h.8m.5 .1h.8m.2 0h.8m56.9-.4h.8m37.5-.2h.8m15.2 .5h.8m.2-.7h.8m4 0h.8m1.3 .9h.8m-.1-.4h.8m53-.5h.8m2.8 .4h.8m.9 .6h.8m.6-.2h.8m.3 .2h.8m.1-1h.8m-.5 .4h.8m1.3 0h.8m1.2-.3h.8m1.7 .4h.8m5-.5h.8m-210.6 1.6h.8m1.3 0h.8m1.1 .2h.8m4.5-.1h.8m.7 0h.8m-.4-.3h.8m58.8 .1h.8m1.9 .2h.8m2.5 .2h.8m2.3-.1h.8m29.5-.6h.8m4.2 .2h.8m0 0h.8m4.5-.1h.8m5.7-.1h.8m3.6 .3h.8m3.3 .3h.8m-.6-.1h.8m48.8 0h.8m7.7 0h.8m1.5 0h.8m4.5-.1h.8m.4 .3h.8m0-.8h.8m-218.2 1.8h.8m1.2 0h.8m0-.8h.8m3 .1h.8m.2 .6h.8m-.4-.7h.8m2.5 .5h.8m2.1-.3h.8m1.5 .4h.8m.8-.1h.8m.7 .2h.8m2.1-.7h.8m58.8 .4h.8m-.5-.5h.8m1 .4h.8m2.5 .2h.8m.1-.3h.8m-.8 .4h.8m6 0h.8m0 .2h.8m1.1-.8h.8m-.3 .3h.8m2.3 .3h.8m22.1 0h.8m.5-.6h.8m10.6 .4h.8m7-.5h.8m59.9 0h.8m4.7 .6h.8m3.4-.4h.8m1.7 .7h.8m2.7-.3h.8m-218.3 .9h.8m4.5-.3h.8m-.8 .5h.8m.3 .3h.8m-.4-.3h.8m3.1 0h.8m.3-.1h.8m1.4-.6h.8m2.4 .3h.8m61.1 .2h.8m-.5-.4h.8m-.7 .2h.8m10.2 0h.8m4.4 0h.8m-.1-.2h.8m1.1 .7h.8m3.7 .1h.8m15.3-.5h.8m.7-.3h.8m15.9 .3h.8m4.4-.1h.8m52.8 .4h.8m6.5 .2h.8m6.2-.1h.8m4.1-.5h.8m-220.2 .8h.8m1.1 .8h.8m1.5 0h.8m5.5-.2h.8m2.2 .1h.8m-.6-.7h.8m.3 .6h.8m1.4-.5h.8m50.3 0h.8m4.5 .1h.8m6.8 .5h.8m-.5-.3h.8m3.5 0h.8m4.4 0h.8m2.3-.1h.8m-.2 .4h.8m25-.5h.8m1.5-.1h.8m1.4-.2h.8m-.4 .3h.8m3.5 0h.8m12.9 .7h.8m66.3-.3h.8m4.3-.6h.8m-.1 .3h.8m-211.1 1.4h.8m1.3-.5h.8m.7-.2h.8m-.2 .2h.8m-.2 .6h.8m3.1-.8h.8m0 .7h.8m-.1-.2h.8m.6-.3h.8m44.2 .2h.8m24.4 .3h.8m.3-.1h.8m.3 .2h.8m-.2-.7h.8m2 .3h.8m0 .3h.8m2.1-.4h.8m.7-.2h.8m25.4 0h.8m13.9 .6h.8m6.5-.5h.8m54.4 .3h.8m5-.2h.8m1.3 .3h.8m2-.2h.8m3-.3h.8m.8 .6h.8m-219 .9h.8m.7-.4h.8m.8-.3h.8m-.6 .3h.8m.7 .2h.8m1.3-.1h.8m8.9 .3h.8m64.7-.1h.8m1.2 .3h.8m-.6-.2h.8m6.1 .3h.8m-.1-.7h.8m1 .5h.8m1.5 0h.8m-.8 0h.8m.6-.3h.8m22.8-.5h.8m0 .7h.8m4.1-.5h.8m14.9 .5h.8m63.1 0h.8m3.1 .3h.8m-.5-.8h.8m-.7 .2h.8m4.9 .1h.8m-216.1 1.3h.8m3.2-.2h.8m1.6 .2h.8m.5-.1h.8m0-.7h.8m.5 .6h.8m.1-.1h.8m52.6 .4h.8m.9-.5h.8m17.5-.1h.8m.2 .3h.8m3.7-.6h.8m-.1 1h.8m47-.3h.8m75.3-.3h.8m2.2-.1h.8m-216 1.3h.8m-.1-.5h.8m74.2 .8h.8m2.8-.7h.8m-.8 .2h.8m.7 .5h.8m7.3-.1h.8m1.6-.7h.8m-.2 0h.8m43.1 0h.8m64.2 .4h.8m-.6 0h.8m1.3-.2h.8m17.1 .2h.8m-226 1.4h.8m3.4 .1h.8m4.6-.8h.8m.9 .5h.8m61.3-.1h.8m7.4-.4h.8m5.2 .2h.8m.2-.4h.8m2.2 .3h.8m.2 0h.8m-.4 .2h.8m-.5 0h.8m28.2-.4h.8m.3 .8h.8m3.1 0h.8m4.1-.5h.8m.8 .4h.8m89.2-.5h.8m-220.7 1.4h.8m3-.2h.8m-.7-.1h.8m2.2 0h.8m2.9 0h.8m0-.2h.8m68.9 .5h.8m-.2 .3h.8m47.3-.6h.8m.3-.4h.8m70.2 .5h.8m12.2-.4h.8m-217.2 1h.8m2.3 .8h.8m1 0h.8m2.9 .1h.8m1.7-.9h.8m77 .4h.8m4.2 .2h.8m24.3-.5h.8m2.7 .4h.8m-121.7 .6h.8m87.6 .1h.8m-26.9 23.8h.8m-.5 .6h.8m12.3 .5h.8m-18.3 .8h.8m9.2 .3h.8m-6 1.7h.8m-.5 0h.8m.5-.1h.8m-5.7 1.1h.8m4.1-.5h.8m1.9-.2h.8m-5.2 .9h.8m2.8 .8h.8m1.1-.7h.8m-.2 .2h.8m3.5 .1h.8m3.4 .4h.8m-18 .4h.8m3.8 .1h.8m1 .1h.8m-.7 .1h.8m-1.1 .4h.8m-.5-.1h.8m-.4 .1h.8m-11.5 1.3h.8m4.7 .3h.8m-.4 0h.8m-.2-.5h.8m-.1 .2h.8m9.1-.4h.8m.6 .6h.8m.6-.4h.8m12 0h.8m-22.4 1.1h.8m1 0h.8m.3-.1h.8m.1 .7h.8m21.7-.3h.8m-31.4 1.4h.8m.6-.3h.8m-.1 .2h.8m20.6-.1h.8m-27.8 1.2h.8m2.8 0h.8m-.8-.7h.8m-4.7 .8h.8m9.9 .4h.8m-.2 .4h.8m4.6-.6h.8m8.5-.3h.8m-19.6 1.2h.8m2.7 .1h.8m.5-.3h.8m-7.3 1.4h.8m-4.8 1.4h.8m21.2-.6h.8m1.4 .1h.8m102 2.9h.8m-129.5 2.4h.8m134.1 .1h.8m-108 .4h.8m107.6 .5h.8m30.3-.1h.8m-168.3 .9h.8m9.3 .1h.8m23 0h.8m95-.3h.8m4.2-.2h.8m11.8 .6h.8m-136.6 .8h.8m117.6-.3h.8m19 0h.8m-147.8 1.8h.8m5.3-.5h.8m25.4-.4h.8m94.7 .4h.8m5.5-.1h.8m4.6 .4h.8m3-.1h.8m9.2 .3h.8m-145.3 .2h.8m128.7 .7h.8m10.4 .1h.8m-154.2 .2h.8m1.2 .8h.8m147.3-.6h.8m-.5 .6h.8m-143.2 .5h.8m0 .4h.8m124.2-.7h.8m11.4 .2h.8m-136.4 .8h.8m2.6 0h.8m119-.1h.8m10.1 .9h.8m2.8 .1h.8m.6-1h.8m-149.2 1.5h.8m13.1 .5h.8m112.8-.8h.8m14.8 .5h.8m-142.7 .8h.8m1.7 .4h.8m3.7-.5h.8m5.6 .6h.8m120.5-.1h.8m-137.8 1h.8m11.3-.2h.8m17.5 .2h.8m-.3-.4h.8m98.4 .4h.8m35.2 .4h.8m-160.9 1.4h.8m.8 0h.8m1.8-.1h.8m-.3 .2h.8m122.9-.1h.8m8.7 .2h.8m-144.3 .4h.8m27 .1h.8m4 .6h.8m.2-.5h.8m100.6-.2h.8m-.5 .3h.8m12.4 .2h.8m6.4-.7h.8m-113.1 1.7h.8m91.2-.8h.8m-130.7 1.8h.8m0 .5h.8" stroke="#000" stroke-width="0.8" opacity="0.22"/>
<path d="M285.6 43.2h.8m6.8 3.7h.8m-4.8 2.1h.8m18.8-.1h.8m.8 .3h.8m-23.5 .6h.8m2.8 .3h.8m4.2 .1h.8m11.1-.4h.8m-26.9 1.1h.8m1.6 .4h.8m5.2-.3h.8m-6.7 .8h.8m1.9 0h.8m-.7 .7h.8m3.8-.3h.8m2.2-.1h.8m10.9 .4h.8m159.8-.4h.8m-187.2 1.2h.8m3.6-.7h.8m3.8 .4h.8m.7 .5h.8m2.5-.9h.8m.5 .8h.8m7.2-.6h.8m3.6-.3h.8m173.7 1h.8m-203.4 .6h.8m1.5 0h.8m10.6 0h.8m-.5-.2h.8m.3 .6h.8m12.5-1h.8m-26.6 1.9h.8m2-.3h.8m4.2-.2h.8m5.6 .4h.8m.9 .1h.8m181.9-.1h.8m-196.9 .6h.8m-.4 .1h.8m3.1 .3h.8m-.2 .1h.8m1.2 0h.8m-.7-.5h.8m-.1-.2h.8m178.6 .2h.8m-191.4 1h.8m.4 .3h.8m3.1-.5h.8m-.6 .1h.8m-.7-.3h.8m.7 .4h.8m4.4-.2h.8m-13.5 1.1h.8m14.1 .5h.8m-8.2 1.1h.8m7.5-.4h.8m-6.8 1.1h.8m24-.3h.8m151 .2h.8m7.4 .1h.8m-6.7 .8h.8m6.6-.4h.8m-188.8 1.3h.8m3.5-.1h.8m171.4 1.8h.8m2.3-.2h.8m3-.7h.8m0 .6h.8m5.3 0h.8m-173.9 .5h.8m110.6-.2h.8m48.9 .3h.8m3.5 .6h.8m.7-.5h.8m-183.5 .9h.8m183.3 .7h.8m-61 .2h.8m89.1 1.5h.8m.5-.1h.8m-213.3 .8h.8m3.6-.1h.8m116.1 .7h.8m57.6-.3h.8m4.6-.3h.8m3.2 .2h.8m1.2-.4h.8m-55.9 1.7h.8m-.3 .1h.8m35.7-.1h.8m14.5 .1h.8m-165.7 .3h.8m95.8 .4h.8m20.9-.1h.8m35.7-.1h.8m0 .2h.8m4.3-.6h.8m25.9-.1h.8m-213.6 1.6h.8m12.2-.2h.8m11.2-.1h.8m35.9 .3h.8m66.6 .2h.8m6.9-.4h.8m5.8 .4h.8m32.1-.1h.8m.6-.6h.8m-.1 .6h.8m7.1 0h.8m.7 0h.8m11.7-.6h.8m-202 1.4h.8m.7 .4h.8m-.4-.9h.8m15 .8h.8m49.4-.5h.8m1.1 .3h.8m12.2-.4h.8m32.8 .1h.8m7.6 0h.8m2.2 0h.8m7.1 0h.8m47.8-.2h.8m2.2 .5h.8m.7 .1h.8m1.3-.4h.8m.1 .5h.8m-112.6 1.1h.8m34.8-.8h.8m69.2-.1h.8m1.6 .6h.8m4.5-.5h.8m11.3 .1h.8m-203.8 1.3h.8m.3 0h.8m-.7 .2h.8m.8 .1h.8m15.7-.6h.8m.2 .1h.8m5.9-.1h.8m21.8 .3h.8m21.2-.1h.8m3.5 .2h.8m70.1-.2h.8m30.3-.4h.8m.7 .6h.8m-185.1 .6h.8m7.1 .3h.8m3.2-.2h.8m48.4 .5h.8m14.2 0h.8m60.8-.7h.8m10.8-.1h.8m.2 .8h.8m26.5-.5h.8m11.1 0h.8m3.8-.3h.8m-200.4 2h.8m4.4-.2h.8m1.9-.1h.8m2.8-.5h.8m20.9 0h.8m41.1 .2h.8m14.5 .1h.8m37.1 0h.8m21.6-.1h.8m33.9 .3h.8m6.7-.3h.8m.6-.3h.8m26.1 .6h.8m-219.9 .3h.8m.3 .3h.8m4 .3h.8m6.7-.1h.8m.5 .4h.8m16.3-.6h.8m.5 .5h.8m40.7-.5h.8m52.4 .1h.8m.4 .4h.8m-.6-.4h.8m17.8 .2h.8m42.6-.4h.8m-194.7 .8h.8m3.4 .4h.8m3.5 .4h.8m0 .1h.8m1.8-.6h.8m27.5 .4h.8m3.9-.6h.8m31.1 .4h.8m.6-.2h.8m6.1-.2h.8m1.6 .6h.8m11.3-.2h.8m30.2 0h.8m55-.4h.8m2 .1h.8m5.2 .3h.8m0 .2h.8m28.3-.1h.8m-215.1 .4h.8m.6 .6h.8m54.7-.1h.8m2.9-.3h.8m13.2 .4h.8m106.2-.4h.8m8.8 .2h.8m-168.2 1.2h.8m155.9-.6h.8m4.4 0h.8m6.9 .8h.8m7.3-.7h.8m-213.7 1.9h.8m12.3-.2h.8m11.1-.5h.8m102.8 .7h.8m8.5-.3h.8m6.4-.1h.8m43.6-.4h.8m1.5 .4h.8m4.9-.4h.8m.7 .7h.8m-193.2 .1h.8m73.6 .3h.8m56.8 .1h.8m53-.3h.8m-155.1 1.1h.8m31.8 .3h.8m122-.1h.8m-.4-.4h.8m-183.2 2h.8m22.9-.7h.8m29.6 .2h.8m16 .3h.8m5.6-.6h.8m7.3 .5h.8m87.3-.5h.8m7.4 0h.8m3.2 .8h.8m.3-.6h.8m-182 1h.8m109.1-.2h.8m57.4 .3h.8m27.7 0h.8m-140.4 .6h.8m3.5 29.5h.8m-1.9 1.9h.8m-10.1 1.1h.8m120.8-.3h.8m-118.5 1h.8m57.4 .7h.8m-58.7 1.5h.8m.1 .1h.8m120.1-.4h.8m-70.1 .9h.8m6 .9h.8m55.4-.7h.8m4.9 0h.8m1.9 .5h.8m-73.8 .8h.8m.8 0h.8m61.9-.6h.8m-117 1.2h.8m53.3 .2h.8m4.1 .2h.8m5.7 .1h.8m50.9-.4h.8m-118.8 .7h.8m2.5 .2h.8m55.7 .3h.8m2.2-.3h.8m-64.8 1.5h.8m52.9-.1h.8m8.9-.6h.8m60 .8h.8m-6.5 .8h.8m2.2-.2h.8m3.6 .4h.8m2-.4h.8m2.7-.1h.8m-138.9 1.3h.8m6.5 0h.8m116.4 .4h.8m1.2-.1h.8m2.2 0h.8m2.7-.2h.8m3.9 .2h.8m-143 .4h.8m72.2 .1h.8m1.4-.3h.8m53.8 .3h.8m1.1 .4h.8m5.1-.2h.8m.7 .2h.8m-134.1 1.1h.8m7.6-.3h.8m112.9 0h.8m3.4 0h.8m8.1 .1h.8m-128.9 .4h.8m2.9 .2h.8m.4 0h.8m51.2-.1h.8m9.7 .7h.8m51.2-.4h.8m6.8 .1h.8m-135.7 1.2h.8m7.5 0h.8m118.4-.3h.8m.8 0h.8m-123.9 .6h.8m1.2 .5h.8m1 .2h.8m9.4 .1h.8m39.8-.5h.8m5.5-.3h.8m1.9 .1h.8m50.2 .5h.8m11.8-.2h.8m.5 .1h.8m3 .3h.8m.8-.2h.8m-78.2 1h.8m2.8-.4h.8m-70.7 1.1h.8m4.6 .6h.8m1.1 0h.8m1.7-.4h.8m.5-.4h.8m.3 .1h.8m.2-.3h.8m46.5 .5h.8m1.7 .5h.8m10.9-1h.8m-.3 .2h.8m15.8 0h.8m34 .6h.8m10-.7h.8m4.9 .2h.8m-132.5 1.7h.8m55.4-.8h.8m63.4 .3h.8m1.5 0h.8m2.9 0h.8m-135.8 1.4h.8m10-.8h.8m.6 .5h.8m2.4-.6h.8m55.6 .3h.8m50.1-.2h.8m.6 .7h.8m-.3-.6h.8m-124 1.6h.8m.1-.1h.8m4.6 .1h.8m58.2-.3h.8m1.7-.3h.8m.8 .1h.8m58.7 .4h.8m4 .1h.8m-129.5 .7h.8m56.9 .1h.8m1.4-.4h.8m-57.9 1.2h.8m.4 .2h.8m4.3 .1h.8m47.2 .2h.8m.8-.7h.8m13.5 .8h.8m45-.2h.8m-129.1 .4h.8m9.1 .3h.8m1.9-.4h.8m20 .8h.8m39-.8h.8m20 .5h.8m-92.8 .7h.8m14.1 .6h.8m.6-.2h.8m16.5-.1h.8m27.8 .4h.8m-51.3 .7h.8m49.5-.3h.8m2.7 .3h.8m.6 .1h.8m20.8 0h.8m33.9-.4h.8m-121.6 .8h.8m11.3 .7h.8m53.6-.2h.8m1.2-.2h.8m4.4 .2h.8m46.6-.5h.8m-116.3 1.2h.8m56.4 .1h.8m1.8-.4h.8m56.8 .6h.8m-125.6 .6h.8m7.7 .3h.8m2.7-.1h.8m47.7-.4h.8m11.6 .7h.8m16.8-.1h.8m28.7-.6h.8m3.6 .2h.8m-122.1 1.7h.8m3.5-.4h.8m7.8 .2h.8m44.3 0h.8m8.4 .2h.8m-.2-1h.8m-.2 .9h.8m54.4-.2h.8m-127.5 1.1h.8m.8-.7h.8m2.8 .4h.8m-.7 0h.8m4.9 .2h.8m50.6-.5h.8m4.9 .5h.8m2.9-.4h.8m.6 .7h.8m21.3-.5h.8m31.3 .4h.8m-125.3 .3h.8m57.3 .7h.8m4-.2h.8m1.6 .1h.8m1.3-.2h.8m-.2-.5h.8m-.7 .4h.8m52.5-.3h.8m2.9 .3h.8m0 0h.8m-133.3 1.4h.8m2-.4h.8m4.9 .2h.8m22 .2h.8m41.7-.1h.8m-.3-.6h.8m13 .7h.8m.9-.2h.8m46.5-.1h.8m19.6 .2h.8m-143.8 .9h.8m4.7-.1h.8m47.7-.1h.8m5.6-.3h.8m55.1 .3h.8m17.8 0h.8m-79.2 1h.8m56-.4h.8m2.2 .5h.8m.2 .1h.8m4.8 .1h.8m-136.9 .6h.8m4.9-.1h.8m120.8-.1h.8m0 .6h.8m4.1-.1h.8m-128.3 .7h.8m2.7 .3h.8m.8-.5h.8m.2 .4h.8m56.8-.3h.8m-65.2 .8h.8m4.4 0h.8m2.9 .6h.8m7.2-.1h.8m40.7-.2h.8m60-.2h.8m-121.6 1.5h.8m1.5-.3h.8m6.1 .2h.8m2.2-.2h.8m78.1 .2h.8m30.2 .4h.8m.1-.4h.8m-113.6 1.1h.8m1.9-.2h.8m57.8-.3h.8m-.2 .4h.8m49.7-.5h.8m-120.1 1.1h.8m116 .5h.8m-118.5 1.1h.8m4.2-.5h.8m119.8 .3h.8m-129.9 1.4h.8m.9-.6h.8m5.4 .4h.8m57.7-.1h.8m-247.5 8.1h.8m-21 1h.8m14.8 .2h.8m17.9-.3h.8m42.3-.6h.8m19.4 .7h.8m-130 .6h.8m39.6 0h.8m9.5 .5h.8m3.3-.4h.8m56.2-.1h.8m3 .1h.8m.1 .3h.8m-.2-.5h.8m1.8 .4h.8m1 .1h.8m-.3 0h.8m2.9-.1h.8m.5-.3h.8m-128.9 .7h.8m2.9 .1h.8m33.1 .8h.8m13.2-.9h.8m6.2 .1h.8m7.8 .7h.8m.4-.7h.8m40.1 .2h.8m-.7 .4h.8m2.6-.4h.8m3.9 .5h.8m.8-.2h.8m.7 0h.8m2.7-.1h.8m-.6 .1h.8m1 .2h.8m.2-.3h.8m-201.7 .5h.8m9.9 .5h.8m7-.4h.8m52.1 .5h.8m.2-.1h.8m32.6 0h.8m24.5 .1h.8m53.5-.1h.8m-.8-.3h.8m.1-.2h.8m-.7 .5h.8m4.3-.2h.8m-.4-.2h.8m1.7 0h.8m1.2-.1h.8m.7 .9h.8m3.9-.4h.8m.4-.3h.8m-201.7 1.5h.8m14.2-.2h.8m55.5-.6h.8m36.6 .5h.8m3.4 .4h.8m1.4-.7h.8m.3 .2h.8m9.5-.2h.8m.2 .1h.8m59.1-.2h.8m1 0h.8m5.7 .8h.8m-.5-.3h.8m-.6-.3h.8m-.1 .6h.8m-180.5 .8h.8m51.7 .2h.8m5.3-.5h.8m.3 .4h.8m2.2-.7h.8m1.7-.1h.8m11.7 .7h.8m10.5 .1h.8m5.7-.5h.8m10.4 .3h.8m11.4-.3h.8m1.4 .6h.8m2.5-.6h.8m31.9-.1h.8m8.3 0h.8m4.1 .6h.8m5.5 .1h.8m2.4-.1h.8m3.5 0h.8m-192.7 1h.8m58 0h.8m65-.4h.8m6.4 .1h.8m38.9-.1h.8m1.5 .1h.8m7.6 .2h.8m4.2-.1h.8m-186.1 .4h.8m38.8 .2h.8m21.1-.1h.8m4.9 .7h.8m33.2-.8h.8m23.8 .6h.8m39.2-.6h.8m3.5 .8h.8m.9 .1h.8m.7-.1h.8m6.2-.6h.8m4.9 .4h.8m-134.1 1.2h.8m9.4-.8h.8m-.2 .8h.8m20.6-.1h.8m2.3-.3h.8m3.4 .5h.8m7.9-.2h.8m-.3 .1h.8m.7-.4h.8m5.4 .1h.8m4.2-.4h.8m4.9 .2h.8m58 .4h.8m-.1-.6h.8m-.1 .4h.8m.3 0h.8m-.4-.1h.8m-.5 .1h.8m2.5 0h.8m2.7 .5h.8m-194.6 .9h.8m2.5-.2h.8m10.2-.6h.8m44.7 0h.8m8.1 .9h.8m.2-.3h.8m1.5-.7h.8m28.2 .2h.8m7.3 .5h.8m4.5-.3h.8m10.9 .2h.8m41.5 .3h.8m0 0h.8m1.7-.8h.8m11.2 .2h.8m2.2 .3h.8m-.6-.3h.8m.2 .2h.8m-195.4 .6h.8m3.6-.1h.8m-.8 .5h.8m58.8-.2h.8m4.3 .4h.8m3.4-.3h.8m27.3-.1h.8m76.5 .6h.8m-.8 .1h.8m11.2-.5h.8m3.5 .1h.8m-.1 .2h.8m-185.9 .5h.8m3.1 .1h.8m45.8-.3h.8m9.9 .6h.8m21.6 .3h.8m2.4-.7h.8m13.2 .6h.8m3.6-.8h.8m5.1 .1h.8m6.7 .5h.8m46.7-.3h.8m1-.3h.8m-.2 .8h.8m1.5-.5h.8m.1 .1h.8m.4-.1h.8m11.9 .1h.8m-209.8 1.2h.8m14.2-.4h.8m66.6 .6h.8m-.4-.2h.8m2.2-.5h.8m-.7 .3h.8m49.1-.5h.8m10.6 .6h.8m5.3 .4h.8m1.2-.8h.8m36.4 .6h.8m1.7 .1h.8m9.5 0h.8m3.4-.8h.8m-204.7 1.4h.8m4.1-.3h.8m4.3 .6h.8m1.7-.2h.8m2 .2h.8m54.5-.3h.8m13.3-.1h.8m1.4-.1h.8m24-.1h.8m1.1 .4h.8m3.2-.1h.8m6 .5h.8m.3-.7h.8m5.5-.3h.8m.7 .2h.8m2.6 .2h.8m49.6-.4h.8m9 .6h.8m4.5-.1h.8m-194.1 1.2h.8m4.9 .2h.8m1.1-.1h.8m-.7-.5h.8m-.6-.3h.8m-.2 .7h.8m61-.1h.8m7.3 .2h.8m28.1-.7h.8m1.5 .1h.8m1.9 .1h.8m-.7-.1h.8m.4-.2h.8m6.2 .5h.8m2.4 .2h.8m.1-.5h.8m6.5-.1h.8m1 0h.8m43.2 .4h.8m-.7 .2h.8m2.8-.1h.8m.8-.3h.8m1.4 .3h.8m4.3-.5h.8m-.5 .8h.8m5.4-.7h.8m1.5 .1h.8m-202 1.5h.8m1.1-.4h.8m-.1 0h.8m4.3 .1h.8m55.4 .4h.8m2.9-.6h.8m5.4 .3h.8m-.5-.2h.8m-.8-.1h.8m1.2 .5h.8m.9-.7h.8m.1 .6h.8m24.7 .3h.8m2.6-.7h.8m21.2-.3h.8m.5 .1h.8m53.2 .7h.8m.3-.2h.8m-.3 0h.8m6.6 0h.8m.6-.2h.8m-.2-.3h.8m-198.3 1.3h.8m17 .5h.8m44.3-.7h.8m-.7-.1h.8m11.1 .6h.8m-.1 0h.8m2.3 .2h.8m2.1-.1h.8m27.5-.1h.8m14.6-.1h.8m18.1 .1h.8m44.8 .2h.8m4.6-.5h.8m2.3-.2h.8m2.9 .1h.8m.3 .1h.8m-205.1 .6h.8m-.1 .2h.8m2.9 .7h.8m-.4-.7h.8m2.8 0h.8m4.2-.1h.8m2.6 .5h.8m52.8-.1h.8m38.2 .4h.8m8.4-.5h.8m2.9 .2h.8m-.8 .3h.8m-.3-.5h.8m1 .2h.8m1.3-.6h.8m5.9 0h.8m.1 .6h.8m-.3-.1h.8m5-.3h.8m.3 .1h.8m37.1-.2h.8m2.4 .1h.8m.9 .1h.8m3-.1h.8m1.1-.2h.8m-.4 .2h.8m4.3 .3h.8m0 .5h.8m-.5-.2h.8m-.1-.1h.8m2.2-.1h.8m-.2 .1h.8m-.7-.4h.8m.8 .5h.8m-199.1 1.1h.8m2.5 0h.8m.5-.3h.8m.1 0h.8m0-.1h.8m5.3-.3h.8m1.4 0h.8m39.4 .4h.8m1.9-.4h.8m11.4 .2h.8m4.5 .5h.8m3.5-.9h.8m14.7 .5h.8m15.5-.4h.8m5.2 .6h.8m8.1 .1h.8m7.7-.4h.8m4.8 .4h.8m40.1-.5h.8m1.4-.1h.8m6.9 .5h.8m3.7-.3h.8m-.6-.1h.8m.9-.1h.8m-208.2 1.7h.8m9.9-.1h.8m12.9-.1h.8m45.1 .1h.8m1.3-.1h.8m1.7 .2h.8m0-.7h.8m1 .1h.8m6.8 .4h.8m.8 .2h.8m25.9-.7h.8m9.3 .4h.8m12.5-.4h.8m.1 .5h.8m.4-.1h.8m6.5 .4h.8m52.6-.9h.8m-193.9 1.7h.8m3.2 0h.8m7.8-.6h.8m64.3 .2h.8m.5-.3h.8m-.6 0h.8m16.6 .7h.8m2.3-.4h.8m9.2 .1h.8m5.9-.1h.8m8 0h.8m2.9-.1h.8m1.5-.1h.8m47-.1h.8m5.3 0h.8m4 .4h.8m-203.5 1h.8m5.4 .2h.8m1.4-.2h.8m1.3 .4h.8m6.9-.9h.8m4.6 .2h.8m0-.1h.8m64.4 0h.8m-.6 .5h.8m-.2 .2h.8m-.5-.2h.8m-.4-.6h.8m-.7 .6h.8m.5 .1h.8m28.6 0h.8m4.8-.3h.8m5.3 .4h.8m55.9-.8h.8m11 .3h.8m3.4 .2h.8m2.4 .2h.8m-.4-.1h.8m.8 .3h.8m-212.2 .4h.8m8.1 0h.8m3.6 .1h.8m2.5 .3h.8m.5-.2h.8m-.4 .4h.8m-.2 0h.8m-.1-.8h.8m59.1 .2h.8m.4 .5h.8m3.9-.6h.8m2.8 .2h.8m.4-.3h.8m1.3-.1h.8m2.4 .9h.8m24.8-.3h.8m-.6-.1h.8m1.7 .3h.8m6.4-.4h.8m1.2 .1h.8m10.2-.3h.8m-.2 .7h.8m2.5 0h.8m-.8-.6h.8m8.2-.3h.8m39.1 .3h.8m.4 .1h.8m-187.5 .7h.8m-.2 .8h.8m11.3-.3h.8m36.5-.5h.8m20.9 .2h.8m1.7 .7h.8m4-.2h.8m-.7-.7h.8m28.2 .5h.8m2.1-.1h.8m.9 .4h.8m3.7-.9h.8m2.7 .4h.8m9.4 .1h.8m-.7 .3h.8m11.3-.5h.8m43.5 .1h.8m.9 .2h.8m1.9-.4h.8m4.7-.1h.8m0-.1h.8m-207.7 1.8h.8m-.4 .1h.8m3.2-.3h.8m-.5 .3h.8m1-.3h.8m.7-.4h.8m1.4 .1h.8m1.3 .2h.8m2.7 .4h.8m-.3-.7h.8m53.4 .6h.8m12.8-.4h.8m-.5-.2h.8m25.1 .7h.8m7.3-.7h.8m.9 0h.8m9.4 .1h.8m.8-.3h.8m1.3 .2h.8m.2 .5h.8m55.9 .2h.8m1.1-.3h.8m1.8-.3h.8m3 0h.8m0 .5h.8m-.5-.2h.8m1.7 .2h.8m.7-.1h.8m2 0h.8m4.6-.2h.8m-212.8 1.2h.8m5.2 .2h.8m1.4-.3h.8m7.1 .1h.8m.2-.2h.8m52.4 .2h.8m5.5 .3h.8m5.4-.8h.8m.1 .6h.8m0 0h.8m.8-.1h.8m-.7-.1h.8m.4 .1h.8m18.9 .3h.8m8.4-.6h.8m-.7-.1h.8m-.4 .7h.8m.5-.4h.8m6.5-.2h.8m3.8 .3h.8m7.7-.1h.8m5.1-.3h.8m46.4-.2h.8m1.3 .1h.8m-.3-.1h.8m.8 .6h.8m2.2-.3h.8m2 .5h.8m1.3-.8h.8m2.2 .8h.8m-209.4 .6h.8m4.4-.3h.8m1.3 .1h.8m1.3-.2h.8m3.7 .4h.8m72.6 .2h.8m1.1-.4h.8m-.5 .5h.8m17.8-.3h.8m-.8 .1h.8m.8-.3h.8m.5 .4h.8m.6-.2h.8m.4 .4h.8m8-.5h.8m.6-.2h.8m13.6 .2h.8m-.4-.3h.8m-.1 .4h.8m-.5 .1h.8m-.6 0h.8m1.8-.1h.8m54.5 .1h.8m-.6-.1h.8m13.3 .2h.8m.8-.5h.8m-215 1h.8m1.3-.1h.8m3 .3h.8m1.1 .3h.8m1.9 .3h.8m4.1-.4h.8m4.7-.3h.8m53-.2h.8m6.3 .6h.8m3-.2h.8m.9 .1h.8m30-.4h.8m-.4 0h.8m1.9 .2h.8m.3 .6h.8m1.5-.2h.8m10-.4h.8m-.3-.2h.8m2.7-.1h.8m-.2 .7h.8m3.9 .2h.8m.9-.4h.8m43.1-.4h.8m9.2 .5h.8m.3-.6h.8m.9 .4h.8m8.5-.4h.8m.1 .4h.8m1.1-.2h.8m-211.9 1.4h.8m1.3-.6h.8m1.1 .2h.8m1.9 .6h.8m-.7-.9h.8m.4 .7h.8m-.7 .1h.8m59.2-.4h.8m.8 .5h.8m-.6-.7h.8m6.9 .3h.8m.7 .4h.8m2-.4h.8m.1 .1h.8m36.9 .3h.8m3.4-.4h.8m-.7-.3h.8m1.6 .6h.8m2.1-.8h.8m1 .6h.8m4.8 .3h.8m61.1-.6h.8m5.5 .4h.8m-.2-.6h.8m-220 1.9h.8m8.6-.1h.8m3.7-.5h.8m9.5 .2h.8m54.9 0h.8m6.3 .4h.8m14-.1h.8m18.6-.2h.8m2.6-.5h.8m1.8 .7h.8m3.5-.1h.8m3.8 0h.8m1.3-.4h.8m.6 .1h.8m1.3-.1h.8m55.5 .2h.8m5.4-.1h.8m2.9 .2h.8m1.6 .2h.8m.4-.1h.8m5.5-.6h.8m2.4 .3h.8m-.8 .3h.8m-217.1 .9h.8m7.4-.5h.8m-.5 0h.8m4.6 .7h.8m.4 .1h.8m2.1-.2h.8m-.7 .1h.8m56.4-.1h.8m3.8 .1h.8m11.5-.1h.8m1-.1h.8m22.5-.3h.8m2.7 0h.8m3.6-.1h.8m6.4 0h.8m63.2 .2h.8m1.4 .3h.8m-.8 .1h.8m1.1-.5h.8m-.2 .2h.8m-.3-.3h.8m.4 .4h.8m5.9-.3h.8m7 .1h.8m.2 0h.8m-.7-.2h.8m-213.3 1.6h.8m-.2-.1h.8m-.6-.1h.8m1.7 .3h.8m-.5-.7h.8m2.7 .6h.8m48.9-.5h.8m18.9-.3h.8m5.1 .3h.8m29.3-.4h.8m1.9 .6h.8m5.9 .1h.8m4.8 .1h.8m0 .2h.8m8.2-.9h.8m57.8 .2h.8m3.4 .5h.8m2.6-.3h.8m.6 .1h.8m-207 .7h.8m.8 .3h.8m3.9-.3h.8m1.6-.1h.8m-.6 .5h.8m-.4 0h.8m50.4-.7h.8m10.9 .5h.8m1.1 .4h.8m8.9 0h.8m-.5-.8h.8m-.3 .4h.8m2.2-.4h.8m21.9 .2h.8m79.2-.1h.8m16.8 .4h.8m.1 .3h.8m0 0h.8m-214.6 .8h.8m2.4 .2h.8m2.9-.1h.8m-.3-.3h.8m0-.3h.8m2.2 .8h.8m43.5-.7h.8m26-.1h.8m3.9 .2h.8m1.6 .4h.8m.8-.8h.8m0 1h.8m.6-.5h.8m20.5 .5h.8m5.3-.3h.8m8.5-.2h.8m.8 .3h.8m4.8-.1h.8m.2 .2h.8m2.5-.2h.8m55.8 .2h.8m.7-.4h.8m-.3 0h.8m-.5 .3h.8m-.7-.8h.8m.6 .7h.8m2 0h.8m-.6 .1h.8m.2-.4h.8m-204.5 1.2h.8m.7-.5h.8m1.7 .3h.8m-.6-.2h.8m-.6 .8h.8m6.8-.7h.8m49.9-.2h.8m.1 0h.8m11.1 .3h.8m1.5 .1h.8m.8 .4h.8m3.4-.1h.8m10.9 .1h.8m18.2-.2h.8m2.4-.2h.8m5.9 0h.8m2.8 .4h.8m1.6 .1h.8m6 0h.8m56.1-.6h.8m3.8 .3h.8m3.1-.5h.8m.1 .5h.8m1.8-.3h.8m6.8 .1h.8m-222.2 1.3h.8m2.5-.1h.8m3.6-.2h.8m-.3 .4h.8m-.2-.2h.8m-.3-.5h.8m4.8 .5h.8m.8-.7h.8m67.8 .3h.8m-.4 .5h.8m.3-.2h.8m1.9 .2h.8m13.2-.3h.8m15 0h.8m16.7-.3h.8m1 .3h.8m5.9-.4h.8m54 0h.8m0 .8h.8m1.2-.9h.8m3.9 .6h.8m-.6 .2h.8m-.2-.6h.8m1.2 .6h.8m.4-.3h.8m1.2-.2h.8m6.6 .1h.8m-.5-.2h.8m-219.5 1h.8m0 .3h.8m2.5 .2h.8m-.7-.5h.8m-.7 .1h.8m-.7-.1h.8m4 .4h.8m6.2-.5h.8m60 .8h.8m2.8-.3h.8m-.7 .2h.8m2.2-.6h.8m-.1 .1h.8m5.2 .6h.8m11.2-.5h.8m15.7 .5h.8m-.5-.3h.8m1.2 0h.8m2.3 0h.8m.4-.1h.8m.8 .4h.8m74.3-.2h.8m.6-.4h.8m-.5-.1h.8m5.3-.1h.8m10.2 .2h.8m-224.3 1.6h.8m.4 0h.8m1.3-.4h.8m3 0h.8m-.5-.3h.8m2.1 .6h.8m.3-.3h.8m5-.2h.8m52.7 .3h.8m12.1-.2h.8m4.8 0h.8m3.3 .1h.8m4.1 .4h.8m6.3-.1h.8m13.2-.8h.8m77.4 .6h.8m7.5 .1h.8m-.7 .1h.8m-203.4 .3h.8m-.4 .6h.8m1.4-.5h.8m.6 .5h.8m-.2-.3h.8m.5 .5h.8m0-.7h.8m69.5 .4h.8m5.3 .1h.8m-.7-.2h.8m1.9 .4h.8m0 0h.8m.3-.7h.8m1.9 .3h.8m1.1-.3h.8m-.1 .4h.8m-.5 .1h.8m.5-.5h.8m25-.2h.8m.5 .9h.8m5.1 0h.8m7-.8h.8m62.4 .5h.8m3.5-.1h.8m1.2-.1h.8m4.2 .5h.8m1.8-.9h.8m4.1 .9h.8m-223 .1h.8m-.1 .6h.8m5.2 .2h.8m.1-.8h.8m-.4 .2h.8m4.8-.1h.8m-.2 0h.8m69.4 .7h.8m-.5 .1h.8m-.3-.3h.8m.9 .3h.8m-.6-.5h.8m0-.4h.8m1.6 .5h.8m10.3-.5h.8m1.7 .5h.8m19.3 0h.8m.3 .3h.8m76.2-.6h.8m-.2 .6h.8m2.9-.2h.8m4.5-.4h.8m2.6 .3h.8m-210.1 1.4h.8m-.5-.5h.8m-.7 .3h.8m5.8-.3h.8m-.2-.3h.8m71.1 .2h.8m5.8 .5h.8m10.3-.6h.8m22 .2h.8m4.5 .1h.8m4-.3h.8m68.9 .6h.8m1.3 .2h.8m-207.7 .2h.8m1.2 .2h.8m2.8 .1h.8m1.4-.3h.8m-.8 .4h.8m-.7 .3h.8m.7-.8h.8m.5 0h.8m62.1 .8h.8m9.7-.4h.8m14.2-.3h.8m35.3 .2h.8m73-.3h.8m6.3 .8h.8m-214.2 .7h.8m1-.5h.8m.8 .1h.8m0 .4h.8m2.2 .2h.8m69.9-.4h.8m6.9-.2h.8m32.1 .2h.8m-.7 0h.8m-122.5 .6h.8m86.8 .1h.8m37.1-.1h.8m82.7 .1h.8m-148.2 25.7h.8m2.3-.1h.8m-.7-.3h.8m.6 2.5h.8m-6.6 1h.8m10.3 0h.8m-9.1 1h.8m6.6-.3h.8m3.6-.2h.8m3.5-.2h.8m-21.1 1h.8m5 .3h.8m2.7 .3h.8m-.6-.3h.8m2.4 .1h.8m-9.1 1h.8m-.8 .2h.8m-.6-.3h.8m.6 .4h.8m-.6-.4h.8m-.6-.1h.8m1.4 .2h.8m7.5 .4h.8m-17.4 .8h.8m-.1-.4h.8m-.3 .1h.8m1.6 .4h.8m-.8-.7h.8m-.3 .3h.8m.8-.1h.8m4.3 .4h.8m13.5-.4h.8m-.5 .5h.8m-21.4 .1h.8m1.1 .2h.8m.7 .6h.8m-2.4 .3h.8m5.6 .1h.8m-4.5 1.8h.8m1.4-1h.8m.2 .1h.8m11 .5h.8m-.3-.6h.8m-19.4 1.1h.8m.1 .8h.8m2 .1h.8m3.3-.6h.8m1.6-.2h.8m-10.7 1.4h.8m12.5-.1h.8m-13.5 .7h.8m14.8 0h.8m114.8 2.9h.8m-4.4 1h.8m5.7 2.7h.8m-110.8 .7h.8m102.3-.4h.8m10 .6h.8m-146.9 .4h.8m138 .2h.8m4.6 .6h.8m-135 1h.8m.2-.6h.8m.2 1.6h.8m25.8-.5h.8m102.9-.2h.8m-130.5 1.6h.8m-.3 0h.8m137.5-.5h.8m-147.2 1.4h.8m.5-.6h.8m-5.1 1.4h.8m27.4 .4h.8m-28.2 .3h.8m-.1 .6h.8m.1-.6h.8m1.5-.1h.8m17.3-.1h.8m7.7 .8h.8m102-.4h.8m-135.3 .8h.8m4.9 .4h.8m11.4 .2h.8m110.1-.7h.8m3.6 .4h.8m.9 .4h.8m10.9 0h.8m-148.5 .2h.8m9.2-.1h.8m13.2 .9h.8m110.5-.3h.8m1 0h.8m-132.1 .5h.8m.1 0h.8m.2 .1h.8m7.3 .4h.8m119.4-.1h.8m-.2-.3h.8m14.4 .5h.8m0-.7h.8m0 1h.8m-148.6 1.1h.8m-5.8 1.1h.8m7.3 0h.8m124 .1h.8m12-.1h.8m5.3 .6h.8m-17.9 1.5h.8m3.3-.2h.8" stroke="#000" stroke-width="0.8" opacity="0.22"/>
<path d="M288 47.6h.8m1.4 .6h.8m-.1-.3h.8m-10.3 1.3h.8m17.9-.4h.8m-18.4 1h.8m.6 .4h.8m2.7-.2h.8m-.5 .5h.8m-.1-.8h.8m.2 .5h.8m9 .5h.8m-12.9 .9h.8m-.7-.1h.8m4.4 .2h.8m-.3 .1h.8m1.5 .4h.8m-15.8 .9h.8m-.3-.4h.8m3.2 .7h.8m12.8-.7h.8m-17.1 1h.8m.1 .3h.8m3.7-.3h.8m3.2 .3h.8m1.5 .2h.8m1.5-.3h.8m3.5 .3h.8m168.6-.1h.8m6.8-.1h.8m-195.8 1.3h.8m.7-.3h.8m2 .2h.8m-.4 .2h.8m1.6-.4h.8m3.1-.1h.8m-.3-.2h.8m2.2-.1h.8m4.5 .8h.8m1.3-.7h.8m-22.4 1.4h.8m1.2-.3h.8m.3 .1h.8m-.1-.3h.8m.7 .2h.8m-.4 .3h.8m186.8-.3h.8m-191.2 1.6h.8m31.4-.7h.8m164.7 .5h.8m-202.6 .8h.8m5.1-.4h.8m2.9 .3h.8m12.4 .4h.8m160.8-.7h.8m-.7-.1h.8m-180.8 1.5h.8m10.9 0h.8m170.1 0h.8m.5-.3h.8m3.3 .7h.8m-.8-.5h.8m-170.5 .8h.8m167.8 1.4h.8m-174.4 .6h.8m172.8 .3h.8m3.1-.3h.8m-11.9 1.1h.8m3.7 .3h.8m14.3-.4h.8m-204.2 1.4h.8m187.8 .1h.8m3.7-.7h.8m-5.4 1.8h.8m4.2-.4h.8m1.5-.3h.8m1.7 0h.8m-199.4 1.1h.8m7.9 .7h.8m1-.9h.8m56.2 .7h.8m78.9 .3h.8m4.7-.6h.8m42.4 0h.8m-72.6 1h.8m30.8 .4h.8m34.5-.2h.8m5.9 0h.8m-.2 0h.8m.7-.1h.8m-199.3 1h.8m2 .4h.8m26.2 0h.8m87.5 0h.8m70.6-.6h.8m-59.1 .9h.8m69.9 .3h.8m-196.8 1.1h.8m33.1-.2h.8m28.4 .2h.8m116.3-.4h.8m3.4 .7h.8m-.3-.1h.8m8.8-.7h.8m-189.4 1.6h.8m7.2 .2h.8m47.6-.2h.8m55.8-.4h.8m5.9 .2h.8m2.5-.4h.8m13.5 .8h.8m3.1-.1h.8m4.3-.2h.8m33.9 0h.8m-.6 .2h.8m7.5-.6h.8m-198 1.3h.8m8.2-.1h.8m58.1-.2h.8m4.1-.2h.8m45.4 .8h.8m.8-.2h.8m-.6 0h.8m.6 .4h.8m5.8-.5h.8m57.9 .4h.8m.4-.6h.8m-163.5 1.4h.8m50.3 .1h.8m5.3-.6h.8m42 .5h.8m17.2-.6h.8m6.8 .7h.8m62.9-.4h.8m-218.8 1.4h.8m-.5-.2h.8m.7-.6h.8m4.1 1h.8m-.4-.2h.8m7.5-.5h.8m6.8-.1h.8m7.9 0h.8m6.7 .3h.8m28.3-.2h.8m11.3 .1h.8m54.9-.2h.8m.4 .5h.8m5.6 .1h.8m45.7-.3h.8m-.2 .4h.8m6.5-.3h.8m16.3-.2h.8m-219.8 .7h.8m63.1 .5h.8m8.6 0h.8m1.1-.5h.8m3.1 .9h.8m2.5-.9h.8m58.1 .5h.8m1 .3h.8m2.7-.2h.8m-139.8 1h.8m4 .3h.8m3.5-.8h.8m55.1 0h.8m4.4 .4h.8m46.5-.2h.8m5.4 .4h.8m6.3-.1h.8m-.8-.1h.8m1.6-.3h.8m8 .6h.8m40.3-.2h.8m4.4-.1h.8m1 .4h.8m-193.1 0h.8m9.9 1h.8m3.8-.9h.8m7.1 0h.8m10.5-.1h.8m47.5 1h.8m34.4-1h.8m13 .7h.8m.8 .1h.8m9.5 .2h.8m4.3-.6h.8m38.4-.2h.8m2.7 .1h.8m2.5 .6h.8m-188 .2h.8m1.7 0h.8m21.1 .2h.8m30.7 .3h.8m3.9-.5h.8m110.9 0h.8m8.3-.1h.8m.9 .3h.8m29.3 .4h.8m-222.2 1.1h.8m13.2 0h.8m19.8-.6h.8m36.5 .2h.8m18 .4h.8m33.5-.1h.8m24.6-.6h.8m26.7 .2h.8m7.4 .1h.8m.2 0h.8m3-.4h.8m-193.6 1.7h.8m96.8-.6h.8m26.5 .7h.8m17.3-.2h.8m4.8-.3h.8m42.8 .3h.8m.6-.3h.8m11.9 .1h.8m-204.5 .6h.8m-.8 .5h.8m-.1-.1h.8m126.3 .5h.8m7.4-.7h.8m2.8-.1h.8m48.2 .8h.8m1.4-.8h.8m0 .4h.8m-131.3 1.2h.8m21.8-.3h.8m-77.5 .8h.8m7.7-.2h.8m64.8 .1h.8m110.8 .4h.8m1.2 0h.8m-8.4 .8h.8m-181.7 1.6h.8m5.2-.9h.8m173.4 .4h.8m-180.4 .9h.8m24.9-.3h.8m151.5 28.4h.8m-114.8 2.6h.8m-3.3 1.6h.8m47.3 .3h.8m76.4 0h.8m-8.5 .6h.8m-3.2 1h.8m-124.5 .8h.8m5.1 .1h.8m1.5-.1h.8m53.6 0h.8m59 .1h.8m-61 1.1h.8m-55.8 .9h.8m61.4 0h.8m3.3-.1h.8m46.3 .5h.8m7-.1h.8m-119.2 .4h.8m.7 .5h.8m-.5 .2h.8m44.5-.1h.8m5-.3h.8m-.6 .4h.8m2.5-.2h.8m1.1 .2h.8m-9.9 .7h.8m2.1-.4h.8m2.6 .1h.8m60.9 .5h.8m.8 .1h.8m1.6-.1h.8m-122.3 .6h.8m51 0h.8m55.6-.2h.8m16 .6h.8m-132.3 1.1h.8m58.9-.2h.8m56.6 .2h.8m5.4-.2h.8m-121.8 1h.8m2.8-.4h.8m51.3 .2h.8m58.9 .6h.8m2.3-.8h.8m-.3 .6h.8m1.8-.6h.8m3.2 .8h.8m-129.8 .2h.8m119.7 .7h.8m2.7-.9h.8m2 .1h.8m3.6 .2h.8m-.6-.1h.8m-127.7 1.7h.8m3.5-.5h.8m52-.3h.8m56.6 .5h.8m.6 .3h.8m3.2-.1h.8m-.1 0h.8m-.2-.7h.8m-.2 0h.8m-71.6 1.2h.8m4.4 0h.8m2.8 .5h.8m.9-.6h.8m65.3 .4h.8m-.3-.2h.8m-129 1h.8m-.5-.2h.8m1.4 0h.8m-.4 .8h.8m114.5-.8h.8m2.3 .6h.8m2.6-.5h.8m-131.1 .9h.8m63.7-.1h.8m54.4 .8h.8m1.2-.7h.8m5.7 .1h.8m7.1 .4h.8m-137.8 .9h.8m5.7 .4h.8m1.1-.4h.8m2.1 .3h.8m50-.7h.8m.6 .4h.8m1.1 .3h.8m4-.6h.8m50.8 0h.8m9.8-.2h.8m3.7 .2h.8m-138.3 .9h.8m4.1 .1h.8m4.6 .3h.8m52.8-.1h.8m67.7 .4h.8m-135.8 1h.8m-.7-.3h.8m2.9-.5h.8m.7 .2h.8m2.2 .6h.8m51.1-.8h.8m3.2 .8h.8m70-.6h.8m-126.5 1.4h.8m54.2-.2h.8m2.6-.4h.8m67.4 .8h.8m-126.5 .8h.8m.5 0h.8m0-.4h.8m1 .5h.8m-.7-.4h.8m45.5 .5h.8m67.8-.5h.8m-128.1 .9h.8m57.1 .5h.8m2.4-.6h.8m12.4 .7h.8m23.3-.3h.8m28.4-.4h.8m5 .2h.8m-136.6 1.2h.8m2.1 .3h.8m5.1-.6h.8m-.3 .7h.8m.5-.9h.8m-.3 .7h.8m-.1 0h.8m3.3-.6h.8m42.5 .1h.8m5.3-.2h.8m.1 .4h.8m2.2-.2h.8m1.5-.2h.8m64.1 .2h.8m13.7 .1h.8m-140 .6h.8m53.4 .8h.8m2.7-.1h.8m64.1 .2h.8m13.7-.1h.8m-146.9 .7h.8m.9-.4h.8m1.3-.1h.8m2.9 0h.8m.3 0h.8m1.5 0h.8m.6 .4h.8m43.3-.2h.8m8.1 .2h.8m5.9 .5h.8m-68.6 .9h.8m2.9-.5h.8m54.9 .1h.8m1.8 .2h.8m.6 .3h.8m3.5-.2h.8m22.6-.1h.8m25 .4h.8m-120.8 .3h.8m6 .6h.8m55-.3h.8m1 0h.8m1.9 .3h.8m52.7 .1h.8m-113.1 .1h.8m30.6 .2h.8m15.3 0h.8m.1 .1h.8m1.7 0h.8m5 .6h.8m10.7-.8h.8m-81.8 1.6h.8m4.7 0h.8m2.3-.8h.8m1.9 .6h.8m1.2 .2h.8m3.3-.1h.8m49.8-.5h.8m-.7 .6h.8m1.4-.1h.8m1.3-.6h.8m3.4 .1h.8m52 .6h.8m25.6 .1h.8m-146.3 .8h.8m.2 .2h.8m13.7-.1h.8m40.4-.5h.8m6.9 .5h.8m57.4-.4h.8m25.3-.3h.8m-152.3 1.8h.8m-.1 0h.8m7.1-.7h.8m18.6 .7h.8m30.2-.3h.8m-.4-.3h.8m-.6-.1h.8m64.1-.1h.8m-125.4 .9h.8m2.5 1h.8m52.7-.3h.8m7.5-.4h.8m2.5 .4h.8m51.6-.6h.8m23.6 .4h.8m-151.4 1.2h.8m.5-.7h.8m14.6 .8h.8m14-.4h.8m31.3 0h.8m-.8-.2h.8m12.1 .7h.8m1.3 0h.8m15.2-.5h.8m-85.3 .9h.8m.6 .1h.8m7 .2h.8m2.9 .1h.8m7.4-.2h.8m27.9 .4h.8m3.4-.6h.8m58.2 .7h.8m42.9-.6h.8m-158.2 1.2h.8m50.1-.3h.8m2.6-.2h.8m.5 .2h.8m0-.1h.8m.9 .5h.8m-.7-.1h.8m-.7 .1h.8m63.2-.4h.8m-129.4 1.2h.8m5.2-.1h.8m52.9 .3h.8m3.5-.4h.8m61 .4h.8m1.8-.6h.8m22.7 .7h.8m-153.3 .5h.8m15.9-.3h.8m42.5 .1h.8m8.4 .2h.8m47.9 0h.8m-.5 .2h.8m4.6 .4h.8m.6-.7h.8m-69.4 1.6h.8m71.9-.2h.8m13.4 .3h.8m-135.4 .5h.8m.7 .5h.8m5.3-.8h.8m79.1 .2h.8m1.7 0h.8m24.4-.1h.8m1.7 .5h.8m-126.7 1.3h.8m84.4-.1h.8m37-.1h.8m1.8-.7h.8m-127.8 1h.8m-.8 .3h.8m122.3 0h.8m.6 .3h.8m-119.9 1.3h.8m-.5 0h.8m1.3-.3h.8m118.8-.1h.8m-122.6 1.4h.8m3.3-.4h.8m54.5-.3h.8m-295.2 9h.8m47.7 .3h.8m8 .4h.8m-128.5 .8h.8m3.2-.6h.8m112.3 .4h.8m52 .2h.8m21.3 0h.8m-188.1 .5h.8m63.6 .3h.8m1.5-.1h.8m23.5-.4h.8m5.2 .2h.8m7.4 .4h.8m3.9-.6h.8m20.6 .7h.8m32.5-.6h.8m-.2-.1h.8m3.4 0h.8m7.3 .1h.8m.5 0h.8m-.5 .3h.8m-.5 .1h.8m1.2 0h.8m2.5-.3h.8m-.2-.1h.8m3.3 .1h.8m-.7 .1h.8m-.1 .2h.8m-.2 0h.8m-128.6 .5h.8m6.6 .7h.8m-.1-.6h.8m32.1 .1h.8m.1-.2h.8m6.4 .8h.8m3.7-.3h.8m10.2 .3h.8m40.7-.6h.8m6.7 .5h.8m.3-.6h.8m1.1-.1h.8m3 .8h.8m.8-.7h.8m-.6 0h.8m-.5 .2h.8m-189.9 .6h.8m8.9 .9h.8m60.4-.4h.8m43-.1h.8m1.3 0h.8m53.8-.2h.8m11.7-.1h.8m2.1 .2h.8m-.5 .6h.8m1.1-.9h.8m-.3 .8h.8m-.1-.1h.8m-187.4 1.3h.8m54.4-.2h.8m8.4-.7h.8m-.3 .7h.8m-.6-.6h.8m-.2-.1h.8m-.4 .4h.8m27.7 .1h.8m11.1-.1h.8m-.6 0h.8m-.7-.1h.8m-.1 .5h.8m-.1-.1h.8m63.2 .1h.8m-.1-.4h.8m9 .3h.8m-.4-.1h.8m-195.5 .5h.8m4.8-.2h.8m60.3 1h.8m-.2-.4h.8m1.1 .1h.8m25.8-.2h.8m16.5 .5h.8m20.2-.1h.8m41.8-.8h.8m9.4 .1h.8m-.6 .8h.8m.9-.6h.8m-.3 .3h.8m7.8-.7h.8m-123.9 1.2h.8m-.7 .8h.8m-.1-.8h.8m-.5 .4h.8m20.8 .1h.8m1.5-.2h.8m4.5 .5h.8m7.8-.1h.8m12.1-.3h.8m2.5 .1h.8m1.8-.7h.8m-.2 0h.8m7.1 .8h.8m38.8-.5h.8m11.8-.2h.8m-196.7 1.5h.8m1.8 .3h.8m58.1 0h.8m9.1-.2h.8m4.4-.5h.8m1.6 .8h.8m28.9-.1h.8m9.7 0h.8m.8-.2h.8m3-.4h.8m.9 .5h.8m15.3-.5h.8m47.3 .7h.8m7-.4h.8m2.4-.1h.8m-.4 0h.8m-200.7 .5h.8m1.5 .2h.8m10.8-.1h.8m61.8 .5h.8m-.4-.4h.8m3.3 .4h.8m19.2 .2h.8m4.9-.4h.8m18-.2h.8m6.4 .5h.8m2.3-.3h.8m44.1-.2h.8m9.2 .5h.8m2.4 0h.8m6.7-.1h.8m-202 .5h.8m10.6 .4h.8m52.9 0h.8m3.4-.5h.8m5.8 .4h.8m5.6-.3h.8m32.3 .2h.8m6.9 .3h.8m1.6 .1h.8m4.2-.3h.8m56.8 .4h.8m1.5-.5h.8m-.6 0h.8m-.6 .2h.8m1.4 .2h.8m-.4-.5h.8m-.4 .4h.8m-.5 .3h.8m-189.9 .7h.8m108.6 .1h.8m-.1 .1h.8m3.4-.6h.8m-.7 .3h.8m.5 0h.8m2.2 .2h.8m7.9-.2h.8m61.3-.4h.8m2.4 .2h.8m-.2 .7h.8m-.5-.3h.8m-.7-.3h.8m-207.5 1.3h.8m14.3 .1h.8m-.1-.3h.8m-.5-.2h.8m3.3 .3h.8m11.1-.5h.8m41.9 .8h.8m.8-.6h.8m-.6 .1h.8m5.3-.1h.8m1.3-.2h.8m4 .3h.8m-.8 .3h.8m42.5-.3h.8m13.2 .3h.8m42.9-.1h.8m3-.3h.8m6.6 .2h.8m1.7 .4h.8m1.7-.3h.8m-.7-.5h.8m-205.6 1.6h.8m6.9 0h.8m11.8-.3h.8m1 0h.8m46.7-.1h.8m10.5 .5h.8m-.6-.7h.8m.5-.1h.8m.8 .2h.8m-.4 .3h.8m-.1-.4h.8m37.1 .4h.8m4.6-.4h.8m12.6 .1h.8m.9 .8h.8m40.8-.7h.8m1.4 0h.8m.4 .3h.8m3.2-.6h.8m2.6 .7h.8m-192.1 .8h.8m1.8-.2h.8m70.7-.2h.8m.7 .3h.8m.4-.4h.8m38.2 .8h.8m3.8-.2h.8m4.6-.4h.8m1.3 .8h.8m52-.7h.8m2.9-.2h.8m3.5 .5h.8m1 0h.8m5 .2h.8m-.8-.2h.8m2.2 .2h.8m-210.3 .9h.8m7.2-.4h.8m12 0h.8m49.2-.1h.8m.1 .8h.8m10.4-.8h.8m2.7 .3h.8m.9-.4h.8m4.1-.1h.8m28.2 .3h.8m.6 .1h.8m.8 .3h.8m1.6-.5h.8m.8-.1h.8m8.7 .7h.8m63.7-.5h.8m.6 .3h.8m-.8-.3h.8m1 0h.8m-.5 .1h.8m-.7 .2h.8m4.3-.4h.8m-204.3 1.6h.8m2.3-.5h.8m3.8 .7h.8m3.1-.8h.8m3.9 .1h.8m1-.2h.8m53.5 .4h.8m3.2 .4h.8m-.7-.2h.8m2.3-.5h.8m3.1 0h.8m29.2 .2h.8m13 .5h.8m7.5-.6h.8m53.1 .7h.8m3.6-.9h.8m-193.6 1.7h.8m46.2-.6h.8m21.8-.2h.8m5.9 .9h.8m-.8-.4h.8m2.8-.3h.8m.4 .2h.8m.1 .6h.8m28.3-.4h.8m.2-.4h.8m2.9 .6h.8m-.6-.8h.8m3.9 .7h.8m14.1-.6h.8m10.1 .8h.8m33.6-.2h.8m1.2-.1h.8m3.4-.5h.8m3.5 .6h.8m.9 .1h.8m5.6-.1h.8m.7 .2h.8m-204.6 .5h.8m1 0h.8m1.3 .5h.8m1.9-.4h.8m4.4 0h.8m2.5-.5h.8m-.3 1h.8m-.5-.9h.8m44.8 .5h.8m7.9-.6h.8m1.8 .1h.8m6.7 .2h.8m.8 0h.8m-.6 .4h.8m26.7 .1h.8m1-.3h.8m2.5 .5h.8m.2-.9h.8m-.6 .2h.8m14.4-.1h.8m0-.1h.8m2.2 0h.8m4.1 .3h.8m42.5-.1h.8m4.7 .5h.8m10.3-.7h.8m.2 .4h.8m6.5 .5h.8m-205.6 .7h.8m2.1-.3h.8m1.2 0h.8m.2 .3h.8m6.9 .1h.8m-.5-.8h.8m5.3 .2h.8m52.8 0h.8m42 .7h.8m6.2-.1h.8m5.6-.3h.8m8.2-.2h.8m5.7 .2h.8m35.4 .1h.8m1.6 .2h.8m2.9 .2h.8m3.7-.9h.8m1.6 .6h.8m2.7-.1h.8m-209.2 1.2h.8m6.7-.3h.8m1.7 .3h.8m1 .2h.8m1-.7h.8m1.6 .6h.8m.5-.5h.8m69.8 .3h.8m3.7-.4h.8m22.7-.1h.8m1.5 .7h.8m-.3-.5h.8m5 .4h.8m4.3-.6h.8m3.8-.1h.8m1 .8h.8m4.6-.2h.8m3.5 .3h.8m44.9-.5h.8m.9-.1h.8m1.4 .5h.8m.5-.8h.8m-.1 .6h.8m2.2-.3h.8m.1-.1h.8m7.2-.2h.8m-203.8 1h.8m5 .3h.8m.8-.1h.8m.9-.3h.8m3.1 .6h.8m3.4-.4h.8m8.1 .6h.8m36.9-.3h.8m4.8 .2h.8m9.1 .1h.8m-.1-.5h.8m-.8-.1h.8m-.7 .5h.8m2-.2h.8m28-.3h.8m.3 .5h.8m1.2 .1h.8m9.5-.1h.8m1-.6h.8m3.9 .3h.8m-.6 .3h.8m9.5 .2h.8m50.9-.8h.8m11.8 .6h.8m1.6 .1h.8m-215 1.2h.8m2.5 0h.8m1.3-.4h.8m-.7-.1h.8m1.6 0h.8m.8 .4h.8m2.2 0h.8m-.3 0h.8m-.4 0h.8m-.6-.1h.8m.3 0h.8m2.5-.8h.8m8.5 .6h.8m1.1-.3h.8m32.9 .5h.8m4.8-.4h.8m2.8 0h.8m7.1 .3h.8m-.7-.2h.8m2.1 .5h.8m-.5-.7h.8m5.9 .6h.8m-.8-.5h.8m.4-.2h.8m31.6 .6h.8m3-.5h.8m10.3 .2h.8m1.8-.1h.8m1.3 .4h.8m.5-.1h.8m1.5 .2h.8m.5-.1h.8m.8 0h.8m39.3-.7h.8m-.8 .2h.8m-.3 .2h.8m3.9 .4h.8m17.4 0h.8m-205.5 .5h.8m2.5-.1h.8m-.1 .2h.8m2 .4h.8m12-.2h.8m42.2 .1h.8m12.3-.7h.8m-.6 .4h.8m-.3 .3h.8m-.2-.5h.8m-.4-.2h.8m4.8 .4h.8m24.7 .4h.8m15.3 .1h.8m1-.8h.8m1.7 .4h.8m-.3-.2h.8m51.6-.2h.8m4.9 .6h.8m-.3-.8h.8m.9 .3h.8m4.2 .3h.8m2.8 .3h.8m.9-.1h.8m-211.5 .7h.8m8-.4h.8m1.8 .7h.8m.4 .2h.8m.9-.2h.8m5.3-.4h.8m2.6-.1h.8m46.5-.2h.8m3.7 .1h.8m12.9-.2h.8m2.2 .2h.8m.2 .3h.8m24.9 .3h.8m13.4-.4h.8m62.3 0h.8m.7 .1h.8m1.4 .1h.8m2.9-.1h.8m3.4 .2h.8m.7 .2h.8m.8-.2h.8m-201 1.3h.8m2-.7h.8m.6 .4h.8m5.2 0h.8m62.9 .3h.8m2.4-.1h.8m-.5-.7h.8m.3 .6h.8m.3 .1h.8m-.1-.2h.8m27.3-.5h.8m27.3 .1h.8m49 .3h.8m1 .4h.8m-.1-.5h.8m-.8-.2h.8m-.5 .5h.8m6.2-.3h.8m1.3-.4h.8m-206.9 1.6h.8m10.2-.3h.8m.5 .2h.8m-.3 0h.8m38.4 .2h.8m31.9-.6h.8m-.5 .1h.8m-.3 .5h.8m0-.6h.8m3.6 .7h.8m18.3-.4h.8m7.3-.1h.8m10.6 .3h.8m1.3-.5h.8m5.6 .2h.8m-.5 .6h.8m.6-1h.8m-.7 .7h.8m1.8-.4h.8m49.5-.2h.8m-.3 .8h.8m2.1-.3h.8m-.4 .1h.8m4.1-.6h.8m2.3 .2h.8m.4-.2h.8m-.7 0h.8m5.6 .3h.8m-212.6 1.2h.8m1.4 .2h.8m.4 .2h.8m1.7-.9h.8m1 0h.8m1.8 .6h.8m0-.4h.8m0 .4h.8m71 .1h.8m1.8-.3h.8m4.8-.3h.8m20.8 .4h.8m9.9-.4h.8m5.8 .2h.8m-.1 .4h.8m-.3-.5h.8m5.4 .5h.8m1.1-.8h.8m-.7 .6h.8m.8 .2h.8m.2-.5h.8m-.2 .1h.8m43.5-.4h.8m7.8 1h.8m0-.4h.8m-.5 .4h.8m-.8-.8h.8m.1 .6h.8m6.9 0h.8m.1-.3h.8m1.3 .4h.8m.1-.6h.8m-210.4 1.7h.8m-.6-.1h.8m3.9-.9h.8m2.9 0h.8m.6 .8h.8m1.9-.3h.8m71.1 .1h.8m-.6 0h.8m33.4 .1h.8m11.5-.3h.8m4.2 .3h.8m2.4 .2h.8m62.8-.2h.8m1.6 .2h.8m.8-.7h.8m-.5-.1h.8m-196.2 1.5h.8m-.1 .2h.8m48 .1h.8m12.2-.2h.8m.8-.2h.8m1.4-.2h.8m3.8 .4h.8m1.6-.6h.8m29 .2h.8m7.5 .3h.8m5.5-.5h.8m1.2 .4h.8m-.1 0h.8m5.6-.2h.8m56.6 .2h.8m-.3 .4h.8m.4-.6h.8m-.7 .7h.8m7.5-.5h.8m-219.6 1.5h.8m16.5-.2h.8m1.1 0h.8m-.6-.2h.8m4.1-.4h.8m-.7 .2h.8m-.4-.1h.8m2.4 .3h.8m51.6 .4h.8m6.2-.9h.8m9 .7h.8m1.2-.8h.8m.2 .9h.8m22.2-.4h.8m1.1 .3h.8m2.2-.8h.8m2 .2h.8m14.1 .2h.8m.5 .2h.8m.5 .2h.8m-.5-.5h.8m-.3 .5h.8m.8-.5h.8m.8 0h.8m49.1 .5h.8m.6 .1h.8m10.6-.1h.8m.9-.6h.8m.4 .8h.8m-206.4 .2h.8m72.3 .1h.8m8.4 .1h.8m3.6 .3h.8m20.7-.5h.8m6.4 .2h.8m-.8-.1h.8m13.6-.1h.8m4.3 .7h.8m2.4-.4h.8m57.9 .4h.8m-.6-.4h.8m1.6 .5h.8m2.8-.3h.8m-198.7 .6h.8m-.5 .3h.8m7.5-.5h.8m57.3 .8h.8m3.8-.1h.8m5.6 .1h.8m2.8-.6h.8m-.4 .5h.8m22.2-.4h.8m3.3 .1h.8m-.5 0h.8m3 .2h.8m11.3 .2h.8m2.1-.8h.8m4.2 .1h.8m48.7 .6h.8m3.4-.2h.8m3-.3h.8m4.5-.1h.8m1.5 .4h.8m-204.3 1.2h.8m5.7-.8h.8m.7 .8h.8m.9-.3h.8m1 .5h.8m59.8-.2h.8m-.3-.2h.8m1.4-.3h.8m6.9 .2h.8m-.6 .1h.8m1.9-.6h.8m-.3 .9h.8m22.3 .1h.8m.1-.8h.8m-.5 .7h.8m.4-.5h.8m1.2 .4h.8m1.9-.3h.8m14.8-.2h.8m1.3 0h.8m2 .6h.8m61.1-.8h.8m-.1 .8h.8m1.9-.4h.8m-205.1 1.5h.8m.3-.4h.8m1.3 .1h.8m1.5-.5h.8m2.7 .2h.8m1.8-.3h.8m50 .5h.8m11.2 .1h.8m2.4-.7h.8m-.4 .6h.8m2.1-.4h.8m-.1-.2h.8m.3 1h.8m-.4-.5h.8m26 .1h.8m1 .1h.8m-.5-.4h.8m4 .6h.8m7.6 0h.8m7-.4h.8m-.8-.2h.8m4.1-.1h.8m-.3 .2h.8m.3-.4h.8m59.8 .9h.8m-.1-.5h.8m3.1-.4h.8m.8 .5h.8m6.5 .5h.8m-.5-.4h.8m-221.4 1.3h.8m5.7-.7h.8m-.5-.1h.8m-.4 .7h.8m-.1-.3h.8m-.5-.4h.8m-.3 .9h.8m-.5-1h.8m-.4 .3h.8m-.2-.3h.8m-.3 .6h.8m-.6-.2h.8m-.8 .2h.8m.7-.2h.8m.9-.1h.8m-.8 .6h.8m52.2-.3h.8m8-.2h.8m3.6-.2h.8m1.1 .5h.8m1.3-.3h.8m3.2 .5h.8m.2 0h.8m1.5-.4h.8m-.4-.3h.8m27.8 .3h.8m.7 .2h.8m6.3-.3h.8m13.3 0h.8m59-.4h.8m2.1 .5h.8m-.2 .2h.8m5.8-.2h.8m2.4 .4h.8m-211.9 1h.8m-.2-.2h.8m-.2-.7h.8m0 .5h.8m1.7 .2h.8m.3 0h.8m.7-.5h.8m3.8 .2h.8m43.9 .2h.8m10.4-.5h.8m.5 .6h.8m-.8-.4h.8m-.4 .4h.8m1.2-.3h.8m4 .4h.8m3.8-.6h.8m3.7 .1h.8m6.9 .6h.8m18.7-.2h.8m2.4-.6h.8m.6 .7h.8m15.3-.3h.8m.1 0h.8m62.4 .5h.8m.9-.4h.8m.2-.3h.8m11.3 .6h.8m2.4-.1h.8m-224.9 1.2h.8m5.8-.5h.8m1.1 .2h.8m1.5 .2h.8m-.1-.4h.8m.3 .2h.8m-.4-.7h.8m4.8 .5h.8m-.7-.2h.8m1.3-.1h.8m54-.2h.8m2.6 0h.8m-.6 .8h.8m9.1-.1h.8m.5 .2h.8m1.3-.6h.8m5.2 0h.8m-.4-.1h.8m-.1 .1h.8m.3 .5h.8m5.8-.6h.8m15.3 .5h.8m9.4-.1h.8m.4-.5h.8m4.3 0h.8m62 .1h.8m1.6 .1h.8m.1 0h.8m1.6 .6h.8m.6-.4h.8m-208.9 1.1h.8m-.5-.3h.8m2 .5h.8m.9-.6h.8m4 .4h.8m.4 .3h.8m.3 .1h.8m4.2-.7h.8m67.3 .5h.8m-.1-.7h.8m.6 .4h.8m-.8 .4h.8m3.8-.2h.8m3.6-.4h.8m8.5 .4h.8m16.9-.1h.8m79-.2h.8m7.6-.2h.8m-210.8 1.1h.8m.8 .3h.8m-.4-.1h.8m.5-.1h.8m-.6 .5h.8m.6-.7h.8m1.5-.1h.8m1.2 .4h.8m1.3 0h.8m66 .4h.8m2.8-.5h.8m6.5 .3h.8m4.9 .3h.8m24.5 0h.8m1.8-1h.8m1.9 .7h.8m6.8-.4h.8m-.8 .2h.8m1.2 .4h.8m.6-.4h.8m60.3 0h.8m7.1-.4h.8m5.8 .9h.8m-.2-.4h.8m-216.5 1.1h.8m5-.2h.8m-.7 0h.8m.4 .2h.8m-.4 .3h.8m2.3-.4h.8m1.6-.3h.8m68.8 .1h.8m13.4-.3h.8m26-.1h.8m.3 .2h.8m13.7 .6h.8m64.1 .1h.8m1.2-.3h.8m-.4-.1h.8m.1 .3h.8m-.6-.6h.8m9.4 .7h.8m4.7-.2h.8m-216.2 1h.8m2.9-.2h.8m49.8-.3h.8m34.9-.2h.8m33.1 .6h.8m4 .1h.8m63.8 .2h.8m-.1-.1h.8m-122.8 .5h.8m40 .1h.8m1.8 .1h.8m79.2 .4h.8m-200.6 .5h.8m73.7-.1h.8m49.1-.1h.8m-53.7 24.7h.8m-15.8 1.5h.8m1.9-.3h.8m8 .5h.8m-4.7 2h.8m19.5-.4h.8m-22.5 1.5h.8m2.5 .2h.8m.2 .1h.8m1.3-.5h.8m-8.8 1h.8m2.3-.1h.8m1.3 .4h.8m-11.1 .4h.8m1.9 .3h.8m2.2 .3h.8m-.3-.3h.8m-.1-.1h.8m.8 0h.8m.4 .4h.8m-2.7 .5h.8m4.1-.1h.8m.1 .6h.8m-.5 0h.8m6-.5h.8m-14 .9h.8m2.8 .6h.8m1.8-.1h.8m3.3-.4h.8m7.1 .2h.8m-19.9 .8h.8m2.6 .6h.8m5.1-.1h.8m8.7-.7h.8m-25.8 1.7h.8m.1-.5h.8m8.4 .4h.8m-.3 .2h.8m19.5-.6h.8m-29.7 1.2h.8m1.1-.1h.8m2.1 .6h.8m27.4 .7h.8m-33.3 .9h.8m5.2-.4h.8m1.4 .5h.8m-9.5 4.7h.8m.5 1.1h.8m16.5 1.5h.8m137.5 0h.8m-157.2 .2h.8m-.8 .7h.8m3.8 .3h.8m35.1 .5h.8m113.5 0h.8m5.6 .3h.8m-157.1 .5h.8m135 .1h.8m-5.7 1.2h.8m-133.7 .8h.8m18.4 .4h.8m-16.3 .1h.8m21.8 .2h.8m119.8 .3h.8m-134.6 .8h.8m117.6 .2h.8m32.9-.1h.8m-171.9 .8h.8m1.9 .4h.8m7.9-.1h.8m127.1 0h.8m.6-.1h.8m-134.9 .8h.8m1 .7h.8m129.2-.2h.8m15-.7h.8m-143.2 1h.8m26 .6h.8m127.9 .1h.8m-168.3 .4h.8m7.7-.1h.8m127.7 0h.8m6 .2h.8m4.2 .4h.8m-144 .7h.8m-.5-.4h.8m128.6 .1h.8m-.4 .8h.8m.9-.5h.8m5.7 0h.8m19.5 .1h.8m4.8-.2h.8m-161 .7h.8m6 .6h.8m16.5-.5h.8m103.3 .2h.8m5 .7h.8m-5 .5h.8m11.6-.3h.8" stroke="#000" stroke-width="0.8" opacity="0.22"/></g>
<text x="1.0" y="10.2" font-size="12.6" font-weight="bold">A</text>
<text x="7.2" y="21.6" font-size="7.6" font-weight="bold" textLength="32.8" lengthAdjust="spacingAndGlyphs">BM-MNCs</text>
<line x1="25.7" y1="28.8" x2="25.7" y2="98.0" stroke="#111" stroke-width="1.1"/>
<line x1="23.7" y1="97.5" x2="25.7" y2="97.5" stroke="#111" stroke-width="0.7"/>
<text x="23.1" y="99.6" font-size="5.6" font-weight="bold" text-anchor="end" fill="#222">0.0</text>
<line x1="23.7" y1="83.925" x2="25.7" y2="83.925" stroke="#111" stroke-width="0.7"/>
<text x="23.1" y="86.02499999999999" font-size="5.6" font-weight="bold" text-anchor="end" fill="#222">2.5</text>
<line x1="23.7" y1="70.35" x2="25.7" y2="70.35" stroke="#111" stroke-width="0.7"/>
<text x="23.1" y="72.44999999999999" font-size="5.6" font-weight="bold" text-anchor="end" fill="#222">5.0</text>
<line x1="23.7" y1="56.775000000000006" x2="25.7" y2="56.775000000000006" stroke="#111" stroke-width="0.7"/>
<text x="23.1" y="58.87500000000001" font-size="5.6" font-weight="bold" text-anchor="end" fill="#222">7.5</text>
<line x1="23.7" y1="43.2" x2="25.7" y2="43.2" stroke="#111" stroke-width="0.7"/>
<text x="23.1" y="45.300000000000004" font-size="5.6" font-weight="bold" text-anchor="end" fill="#222">10.0</text>
<line x1="23.7" y1="29.625" x2="25.7" y2="29.625" stroke="#111" stroke-width="0.7"/>
<text x="23.1" y="31.725" font-size="5.6" font-weight="bold" text-anchor="end" fill="#222">12.5</text>
<line x1="25.7" y1="97.5" x2="107.6" y2="97.5" stroke="#111" stroke-width="1.1"/>
<line x1="107.6" y1="95.9" x2="107.6" y2="97.9" stroke="#111" stroke-width="0.7"/>
<line x1="25.6" y1="97.5" x2="25.6" y2="99.1" stroke="#111" stroke-width="0.7"/>
<text x="25.6" y="102.9" font-size="5.0" font-weight="bold" text-anchor="middle" fill="#222">0</text>
<line x1="44.675" y1="97.5" x2="44.675" y2="99.1" stroke="#111" stroke-width="0.7"/>
<text x="44.675" y="102.9" font-size="5.0" font-weight="bold" text-anchor="middle" fill="#222">7</text>
<line x1="63.75" y1="97.5" x2="63.75" y2="99.1" stroke="#111" stroke-width="0.7"/>
<text x="63.75" y="102.9" font-size="5.0" font-weight="bold" text-anchor="middle" fill="#222">14</text>
<line x1="82.825" y1="97.5" x2="82.825" y2="99.1" stroke="#111" stroke-width="0.7"/>
<text x="82.825" y="102.9" font-size="5.0" font-weight="bold" text-anchor="middle" fill="#222">21</text>
<line x1="101.9" y1="97.5" x2="101.9" y2="99.1" stroke="#111" stroke-width="0.7"/>
<text x="101.9" y="102.9" font-size="5.0" font-weight="bold" text-anchor="middle" fill="#222">28</text>
<line x1="112.6" y1="97.5" x2="128.2" y2="97.5" stroke="#111" stroke-width="1.1"/>
<line x1="112.6" y1="95.9" x2="112.6" y2="99.1" stroke="#111" stroke-width="0.7"/>
<line x1="114.6" y1="97.5" x2="114.6" y2="99.1" stroke="#111" stroke-width="0.7"/>
<line x1="127.8" y1="97.5" x2="127.8" y2="99.1" stroke="#111" stroke-width="0.7"/>
<text x="115" y="102.9" font-size="5.0" font-weight="bold" text-anchor="middle" fill="#222">35</text>
<text x="127.7" y="102.9" font-size="5.0" font-weight="bold" text-anchor="middle" fill="#222">60</text>
<text x="58.2" y="112.2" font-size="6.4" font-weight="bold" textLength="35.2" lengthAdjust="spacingAndGlyphs">Day after IR</text>
<text x="0" y="0" font-size="6.2" font-weight="bold" fill="#111" transform="translate(7.3,62.9) rotate(-90)" text-anchor="middle" textLength="63" lengthAdjust="spacingAndGlyphs">MNCs (x10<tspan font-size="4" dy="-2">6</tspan><tspan dy="2">/hind leg)</tspan></text>
<polyline fill="none" stroke="#111" stroke-width="1.1" points="25.7,43.7 28.5,86.6 34,94 44.8,89.8 64,80 102,42.8"/>
<line x1="102" y1="42.8" x2="107.2" y2="42.3" stroke="#111" stroke-width="1.1"/>
<line x1="112" y1="42" x2="126" y2="41.6" stroke="#111" stroke-width="1.1"/>
<circle cx="25.7" cy="43.7" r="1.45" fill="#111"/>
<circle cx="28.5" cy="86.6" r="1.45" fill="#111"/>
<circle cx="34" cy="94" r="1.45" fill="#111"/>
<circle cx="44.8" cy="89.8" r="1.45" fill="#111"/>
<circle cx="64" cy="80" r="1.45" fill="#111"/>
<circle cx="102" cy="42.8" r="1.45" fill="#111"/>
<circle cx="126" cy="41.6" r="1.45" fill="#111"/>
<line x1="25.7" y1="41.6" x2="25.7" y2="46.2" stroke="#111" stroke-width="1.6"/>
<line x1="44.8" y1="88" x2="44.8" y2="91.8" stroke="#111" stroke-width="0.8"/>
<line x1="43.8" y1="88" x2="45.8" y2="88" stroke="#111" stroke-width="0.6"/>
<line x1="43.8" y1="91.8" x2="45.8" y2="91.8" stroke="#111" stroke-width="0.6"/>
<rect x="124.9" y="40.300000000000004" width="2.6" height="2.6" fill="#111"/>
<rect x="24.599999999999998" y="42.6" width="2.2" height="2.2" fill="#111"/>
<text x="0.9" y="134.7" font-size="12.6" font-weight="bold">B</text>
<text x="7.6" y="145.3" font-size="8.9" font-weight="bold" textLength="208.5" lengthAdjust="spacingAndGlyphs">Representative phenotypic analysis of BM-MNCs</text>
<text x="70.6" y="157.8" font-size="8.0" font-weight="bold" text-anchor="middle" textLength="27.2" lengthAdjust="spacingAndGlyphs">Control</text>
<text x="182.2" y="157.7" font-size="8.0" font-weight="bold" text-anchor="middle" textLength="60" lengthAdjust="spacingAndGlyphs">One day after IR</text>
<line x1="14" y1="160.6" x2="122.5" y2="160.6" stroke="#666" stroke-width="1.0"/>
<line x1="134.5" y1="160.6" x2="243" y2="160.6" stroke="#666" stroke-width="1.0"/>
<text x="261.6" y="9.1" font-size="12" font-weight="bold">C</text>
<text x="279.6" y="10" font-size="9" font-weight="bold" fill="#111">LKS<tspan font-size="5" dy="-3">-</tspan><tspan dy="3"> and LKS</tspan><tspan font-size="5" dy="-3">+</tspan><tspan dy="3"> cells</tspan></text>
<text x="307.5" y="21.6" font-size="8.4" font-weight="bold" text-anchor="middle" textLength="27" lengthAdjust="spacingAndGlyphs">Control</text>
<line x1="281" y1="24.2" x2="332" y2="24.2" stroke="#666" stroke-width="1.0"/>
<text x="430.9" y="21.1" font-size="8.6" font-weight="bold" text-anchor="middle" textLength="47" lengthAdjust="spacingAndGlyphs">Days after IR</text>
<line x1="342" y1="24.4" x2="511.5" y2="24.4" stroke="#666" stroke-width="1.0"/>
<rect x="12" y="167.6" width="51" height="45.400000000000006" fill="none" stroke="#666" stroke-width="0.75"/>
<line x1="12" y1="213" x2="63" y2="213" stroke="#555" stroke-width="0.8"/>
<line x1="12" y1="167.6" x2="12" y2="213" stroke="#555" stroke-width="0.8"/>
<text x="34.5" y="166.4" font-size="2.9" text-anchor="middle" fill="#333">02/17/Age 885</text>
<line x1="12.0" y1="213" x2="12.0" y2="214" stroke="#555" stroke-width="0.5"/>
<text x="12.0" y="217.4" font-size="3.3" text-anchor="middle" fill="#1a1a1a">0</text>
<line x1="22.2" y1="213" x2="22.2" y2="214" stroke="#555" stroke-width="0.5"/>
<text x="22.2" y="217.4" font-size="3.3" text-anchor="middle" fill="#1a1a1a">200</text>
<line x1="32.4" y1="213" x2="32.4" y2="214" stroke="#555" stroke-width="0.5"/>
<text x="32.4" y="217.4" font-size="3.3" text-anchor="middle" fill="#1a1a1a">400</text>
<line x1="42.6" y1="213" x2="42.6" y2="214" stroke="#555" stroke-width="0.5"/>
<text x="42.6" y="217.4" font-size="3.3" text-anchor="middle" fill="#1a1a1a">600</text>
<line x1="52.8" y1="213" x2="52.8" y2="214" stroke="#555" stroke-width="0.5"/>
<text x="52.8" y="217.4" font-size="3.3" text-anchor="middle" fill="#1a1a1a">800</text>
<line x1="63.0" y1="213" x2="63.0" y2="214" stroke="#555" stroke-width="0.5"/>
<text x="63.0" y="217.4" font-size="3.3" text-anchor="middle" fill="#1a1a1a">1000</text>
<text x="37.5" y="221.3" font-size="3.1" text-anchor="middle" fill="#1a1a1a">Forward Scatter</text>
<line x1="11" y1="213.0" x2="12" y2="213.0" stroke="#555" stroke-width="0.5"/>
<text x="9" y="213.0" font-size="3.3" text-anchor="middle" fill="#1a1a1a" transform="rotate(-90 9 213.0)">0</text>
<line x1="11" y1="203.92" x2="12" y2="203.92" stroke="#555" stroke-width="0.5"/>
<text x="9" y="203.92" font-size="3.3" text-anchor="middle" fill="#1a1a1a" transform="rotate(-90 9 203.92)">200</text>
<line x1="11" y1="194.84" x2="12" y2="194.84" stroke="#555" stroke-width="0.5"/>
<text x="9" y="194.84" font-size="3.3" text-anchor="middle" fill="#1a1a1a" transform="rotate(-90 9 194.84)">400</text>
<line x1="11" y1="185.76" x2="12" y2="185.76" stroke="#555" stroke-width="0.5"/>
<text x="9" y="185.76" font-size="3.3" text-anchor="middle" fill="#1a1a1a" transform="rotate(-90 9 185.76)">600</text>
<line x1="11" y1="176.68" x2="12" y2="176.68" stroke="#555" stroke-width="0.5"/>
<text x="9" y="176.68" font-size="3.3" text-anchor="middle" fill="#1a1a1a" transform="rotate(-90 9 176.68)">800</text>
<line x1="11" y1="167.6" x2="12" y2="167.6" stroke="#555" stroke-width="0.5"/>
<text x="9" y="167.6" font-size="3.3" text-anchor="middle" fill="#1a1a1a" transform="rotate(-90 9 167.6)">1000</text>
<text x="5.4" y="190.3" font-size="3.1" text-anchor="middle" fill="#1a1a1a" transform="rotate(-90 5.4 190.3)">Side Scatter</text>
<rect x="24" y="169.4" width="37.2" height="43.1" fill="none" stroke="#555" stroke-width="0.75"/>
<text x="35" y="177.2" font-size="6.7" font-weight="bold" textLength="19" lengthAdjust="spacingAndGlyphs">MNCs</text>
<rect x="73" y="168" width="50.8" height="45" fill="none" stroke="#666" stroke-width="0.75"/>
<line x1="73" y1="213" x2="123.8" y2="213" stroke="#555" stroke-width="0.8"/>
<line x1="73" y1="168" x2="73" y2="213" stroke="#555" stroke-width="0.8"/>
<text x="95.4" y="166.8" font-size="2.9" text-anchor="middle" fill="#333">02/17/Age 885</text>
<line x1="73.0" y1="213" x2="73.0" y2="214" stroke="#555" stroke-width="0.5"/>
<text x="73.0" y="217.4" font-size="3.3" text-anchor="middle" fill="#1a1a1a">10<tspan dy="-1.1" font-size="2.1">0</tspan></text>
<line x1="85.7" y1="213" x2="85.7" y2="214" stroke="#555" stroke-width="0.5"/>
<text x="85.7" y="217.4" font-size="3.3" text-anchor="middle" fill="#1a1a1a">10<tspan dy="-1.1" font-size="2.1">1</tspan></text>
<line x1="98.4" y1="213" x2="98.4" y2="214" stroke="#555" stroke-width="0.5"/>
<text x="98.4" y="217.4" font-size="3.3" text-anchor="middle" fill="#1a1a1a">10<tspan dy="-1.1" font-size="2.1">2</tspan></text>
<line x1="111.1" y1="213" x2="111.1" y2="214" stroke="#555" stroke-width="0.5"/>
<text x="111.1" y="217.4" font-size="3.3" text-anchor="middle" fill="#1a1a1a">10<tspan dy="-1.1" font-size="2.1">3</tspan></text>
<line x1="123.8" y1="213" x2="123.8" y2="214" stroke="#555" stroke-width="0.5"/>
<text x="123.8" y="217.4" font-size="3.3" text-anchor="middle" fill="#1a1a1a">10<tspan dy="-1.1" font-size="2.1">4</tspan></text>
<text x="98.4" y="221.3" font-size="3.1" text-anchor="middle" fill="#1a1a1a">Bo1/FITC</text>
<line x1="72" y1="213.0" x2="73" y2="213.0" stroke="#555" stroke-width="0.5"/>
<text x="70" y="213.0" font-size="3.3" text-anchor="middle" fill="#1a1a1a" transform="rotate(-90 70 213.0)">0</text>
<line x1="72" y1="204.0" x2="73" y2="204.0" stroke="#555" stroke-width="0.5"/>
<text x="70" y="204.0" font-size="3.3" text-anchor="middle" fill="#1a1a1a" transform="rotate(-90 70 204.0)">200</text>
<line x1="72" y1="195.0" x2="73" y2="195.0" stroke="#555" stroke-width="0.5"/>
<text x="70" y="195.0" font-size="3.3" text-anchor="middle" fill="#1a1a1a" transform="rotate(-90 70 195.0)">400</text>
<line x1="72" y1="186.0" x2="73" y2="186.0" stroke="#555" stroke-width="0.5"/>
<text x="70" y="186.0" font-size="3.3" text-anchor="middle" fill="#1a1a1a" transform="rotate(-90 70 186.0)">600</text>
<line x1="72" y1="177.0" x2="73" y2="177.0" stroke="#555" stroke-width="0.5"/>
<text x="70" y="177.0" font-size="3.3" text-anchor="middle" fill="#1a1a1a" transform="rotate(-90 70 177.0)">800</text>
<line x1="72" y1="168.0" x2="73" y2="168.0" stroke="#555" stroke-width="0.5"/>
<text x="70" y="168.0" font-size="3.3" text-anchor="middle" fill="#1a1a1a" transform="rotate(-90 70 168.0)">1000</text>
<text x="66.4" y="190.5" font-size="3.1" text-anchor="middle" fill="#1a1a1a" transform="rotate(-90 66.4 190.5)">Side Scatter</text>
<rect x="73" y="168" width="16.4" height="45" fill="none" stroke="#555" stroke-width="0.75"/>
<text x="75.6" y="177.2" font-size="6.7" font-weight="bold">Lin</text>
<text x="86.4" y="174.2" font-size="4.5" font-weight="bold">-</text>
<rect x="72.5" y="229" width="50.0" height="44.80000000000001" fill="none" stroke="#666" stroke-width="0.75"/>
<line x1="72.5" y1="273.8" x2="122.5" y2="273.8" stroke="#555" stroke-width="0.8"/>
<line x1="72.5" y1="229" x2="72.5" y2="273.8" stroke="#555" stroke-width="0.8"/>
<text x="94.5" y="227.8" font-size="2.9" text-anchor="middle" fill="#333">02/17/Age 885</text>
<line x1="72.5" y1="273.8" x2="72.5" y2="274.8" stroke="#555" stroke-width="0.5"/>
<text x="72.5" y="278.2" font-size="3.3" text-anchor="middle" fill="#1a1a1a">10<tspan dy="-1.1" font-size="2.1">0</tspan></text>
<line x1="85.0" y1="273.8" x2="85.0" y2="274.8" stroke="#555" stroke-width="0.5"/>
<text x="85.0" y="278.2" font-size="3.3" text-anchor="middle" fill="#1a1a1a">10<tspan dy="-1.1" font-size="2.1">1</tspan></text>
<line x1="97.5" y1="273.8" x2="97.5" y2="274.8" stroke="#555" stroke-width="0.5"/>
<text x="97.5" y="278.2" font-size="3.3" text-anchor="middle" fill="#1a1a1a">10<tspan dy="-1.1" font-size="2.1">2</tspan></text>
<line x1="110.0" y1="273.8" x2="110.0" y2="274.8" stroke="#555" stroke-width="0.5"/>
<text x="110.0" y="278.2" font-size="3.3" text-anchor="middle" fill="#1a1a1a">10<tspan dy="-1.1" font-size="2.1">3</tspan></text>
<line x1="122.5" y1="273.8" x2="122.5" y2="274.8" stroke="#555" stroke-width="0.5"/>
<text x="122.5" y="278.2" font-size="3.3" text-anchor="middle" fill="#1a1a1a">10<tspan dy="-1.1" font-size="2.1">4</tspan></text>
<text x="97.5" y="282.1" font-size="3.1" text-anchor="middle" fill="#1a1a1a">Sca-1-PE</text>
<line x1="71.5" y1="273.8" x2="72.5" y2="273.8" stroke="#555" stroke-width="0.5"/>
<text x="69.5" y="273.8" font-size="3.3" text-anchor="middle" fill="#1a1a1a" transform="rotate(-90 69.5 273.8)">10<tspan dy="-1.1" font-size="2.1">0</tspan></text>
<line x1="71.5" y1="262.6" x2="72.5" y2="262.6" stroke="#555" stroke-width="0.5"/>
<text x="69.5" y="262.6" font-size="3.3" text-anchor="middle" fill="#1a1a1a" transform="rotate(-90 69.5 262.6)">10<tspan dy="-1.1" font-size="2.1">1</tspan></text>
<line x1="71.5" y1="251.4" x2="72.5" y2="251.4" stroke="#555" stroke-width="0.5"/>
<text x="69.5" y="251.4" font-size="3.3" text-anchor="middle" fill="#1a1a1a" transform="rotate(-90 69.5 251.4)">10<tspan dy="-1.1" font-size="2.1">2</tspan></text>
<line x1="71.5" y1="240.2" x2="72.5" y2="240.2" stroke="#555" stroke-width="0.5"/>
<text x="69.5" y="240.2" font-size="3.3" text-anchor="middle" fill="#1a1a1a" transform="rotate(-90 69.5 240.2)">10<tspan dy="-1.1" font-size="2.1">3</tspan></text>
<line x1="71.5" y1="229.0" x2="72.5" y2="229.0" stroke="#555" stroke-width="0.5"/>
<text x="69.5" y="229.0" font-size="3.3" text-anchor="middle" fill="#1a1a1a" transform="rotate(-90 69.5 229.0)">10<tspan dy="-1.1" font-size="2.1">4</tspan></text>
<text x="65.9" y="251.4" font-size="3.1" text-anchor="middle" fill="#1a1a1a" transform="rotate(-90 65.9 251.4)">c-Kit-APC</text>
<line x1="92.3" y1="229" x2="92.3" y2="273.8" stroke="#666" stroke-width="0.75"/>
<line x1="72.5" y1="255" x2="122.5" y2="255" stroke="#666" stroke-width="0.75"/>
<text x="75" y="236.6" font-size="6.7" font-weight="bold">LKS</text>
<text x="88" y="234" font-size="4.5" font-weight="bold">-</text>
<text x="105.6" y="236.6" font-size="6.7" font-weight="bold">LKS</text>
<text x="119" y="234.2" font-size="4.5" font-weight="bold">+</text>
<rect x="133" y="167.8" width="50" height="44.79999999999998" fill="none" stroke="#666" stroke-width="0.75"/>
<line x1="133" y1="212.6" x2="183" y2="212.6" stroke="#555" stroke-width="0.8"/>
<line x1="133" y1="167.8" x2="133" y2="212.6" stroke="#555" stroke-width="0.8"/>
<text x="155.0" y="166.60000000000002" font-size="2.9" text-anchor="middle" fill="#333">02/20/Age 011</text>
<line x1="133.0" y1="212.6" x2="133.0" y2="213.6" stroke="#555" stroke-width="0.5"/>
<text x="133.0" y="217.0" font-size="3.3" text-anchor="middle" fill="#1a1a1a">0</text>
<line x1="143.0" y1="212.6" x2="143.0" y2="213.6" stroke="#555" stroke-width="0.5"/>
<text x="143.0" y="217.0" font-size="3.3" text-anchor="middle" fill="#1a1a1a">200</text>
<line x1="153.0" y1="212.6" x2="153.0" y2="213.6" stroke="#555" stroke-width="0.5"/>
<text x="153.0" y="217.0" font-size="3.3" text-anchor="middle" fill="#1a1a1a">400</text>
<line x1="163.0" y1="212.6" x2="163.0" y2="213.6" stroke="#555" stroke-width="0.5"/>
<text x="163.0" y="217.0" font-size="3.3" text-anchor="middle" fill="#1a1a1a">600</text>
<line x1="173.0" y1="212.6" x2="173.0" y2="213.6" stroke="#555" stroke-width="0.5"/>
<text x="173.0" y="217.0" font-size="3.3" text-anchor="middle" fill="#1a1a1a">800</text>
<line x1="183.0" y1="212.6" x2="183.0" y2="213.6" stroke="#555" stroke-width="0.5"/>
<text x="183.0" y="217.0" font-size="3.3" text-anchor="middle" fill="#1a1a1a">1000</text>
<text x="158.0" y="220.9" font-size="3.1" text-anchor="middle" fill="#1a1a1a">Forward Scatter</text>
<line x1="132" y1="212.6" x2="133" y2="212.6" stroke="#555" stroke-width="0.5"/>
<text x="130" y="212.6" font-size="3.3" text-anchor="middle" fill="#1a1a1a" transform="rotate(-90 130 212.6)">0</text>
<line x1="132" y1="203.64" x2="133" y2="203.64" stroke="#555" stroke-width="0.5"/>
<text x="130" y="203.64" font-size="3.3" text-anchor="middle" fill="#1a1a1a" transform="rotate(-90 130 203.64)">200</text>
<line x1="132" y1="194.68" x2="133" y2="194.68" stroke="#555" stroke-width="0.5"/>
<text x="130" y="194.68" font-size="3.3" text-anchor="middle" fill="#1a1a1a" transform="rotate(-90 130 194.68)">400</text>
<line x1="132" y1="185.72" x2="133" y2="185.72" stroke="#555" stroke-width="0.5"/>
<text x="130" y="185.72" font-size="3.3" text-anchor="middle" fill="#1a1a1a" transform="rotate(-90 130 185.72)">600</text>
<line x1="132" y1="176.76" x2="133" y2="176.76" stroke="#555" stroke-width="0.5"/>
<text x="130" y="176.76" font-size="3.3" text-anchor="middle" fill="#1a1a1a" transform="rotate(-90 130 176.76)">800</text>
<line x1="132" y1="167.8" x2="133" y2="167.8" stroke="#555" stroke-width="0.5"/>
<text x="130" y="167.8" font-size="3.3" text-anchor="middle" fill="#1a1a1a" transform="rotate(-90 130 167.8)">1000</text>
<text x="126.4" y="190.2" font-size="3.1" text-anchor="middle" fill="#1a1a1a" transform="rotate(-90 126.4 190.2)">Side Scatter</text>
<rect x="148.6" y="169.8" width="34.2" height="42.8" fill="none" stroke="#555" stroke-width="0.75"/>
<text x="157" y="177.2" font-size="6.7" font-weight="bold" textLength="18.6" lengthAdjust="spacingAndGlyphs">MNCs</text>
<rect x="195.3" y="168" width="51.5" height="44.80000000000001" fill="none" stroke="#666" stroke-width="0.75"/>
<line x1="195.3" y1="212.8" x2="246.8" y2="212.8" stroke="#555" stroke-width="0.8"/>
<line x1="195.3" y1="168" x2="195.3" y2="212.8" stroke="#555" stroke-width="0.8"/>
<text x="218.05" y="166.8" font-size="2.9" text-anchor="middle" fill="#333">02/20/Age 011</text>
<line x1="195.3" y1="212.8" x2="195.3" y2="213.8" stroke="#555" stroke-width="0.5"/>
<text x="195.3" y="217.20000000000002" font-size="3.3" text-anchor="middle" fill="#1a1a1a">10<tspan dy="-1.1" font-size="2.1">0</tspan></text>
<line x1="208.175" y1="212.8" x2="208.175" y2="213.8" stroke="#555" stroke-width="0.5"/>
<text x="208.175" y="217.20000000000002" font-size="3.3" text-anchor="middle" fill="#1a1a1a">10<tspan dy="-1.1" font-size="2.1">1</tspan></text>
<line x1="221.05" y1="212.8" x2="221.05" y2="213.8" stroke="#555" stroke-width="0.5"/>
<text x="221.05" y="217.20000000000002" font-size="3.3" text-anchor="middle" fill="#1a1a1a">10<tspan dy="-1.1" font-size="2.1">2</tspan></text>
<line x1="233.925" y1="212.8" x2="233.925" y2="213.8" stroke="#555" stroke-width="0.5"/>
<text x="233.925" y="217.20000000000002" font-size="3.3" text-anchor="middle" fill="#1a1a1a">10<tspan dy="-1.1" font-size="2.1">3</tspan></text>
<line x1="246.8" y1="212.8" x2="246.8" y2="213.8" stroke="#555" stroke-width="0.5"/>
<text x="246.8" y="217.20000000000002" font-size="3.3" text-anchor="middle" fill="#1a1a1a">10<tspan dy="-1.1" font-size="2.1">4</tspan></text>
<text x="221.05" y="221.10000000000002" font-size="3.1" text-anchor="middle" fill="#1a1a1a">Bo1/FITC</text>
<line x1="194.3" y1="212.8" x2="195.3" y2="212.8" stroke="#555" stroke-width="0.5"/>
<text x="192.3" y="212.8" font-size="3.3" text-anchor="middle" fill="#1a1a1a" transform="rotate(-90 192.3 212.8)">0</text>
<line x1="194.3" y1="203.84" x2="195.3" y2="203.84" stroke="#555" stroke-width="0.5"/>
<text x="192.3" y="203.84" font-size="3.3" text-anchor="middle" fill="#1a1a1a" transform="rotate(-90 192.3 203.84)">200</text>
<line x1="194.3" y1="194.88" x2="195.3" y2="194.88" stroke="#555" stroke-width="0.5"/>
<text x="192.3" y="194.88" font-size="3.3" text-anchor="middle" fill="#1a1a1a" transform="rotate(-90 192.3 194.88)">400</text>
<line x1="194.3" y1="185.92000000000002" x2="195.3" y2="185.92000000000002" stroke="#555" stroke-width="0.5"/>
<text x="192.3" y="185.92000000000002" font-size="3.3" text-anchor="middle" fill="#1a1a1a" transform="rotate(-90 192.3 185.92000000000002)">600</text>
<line x1="194.3" y1="176.96" x2="195.3" y2="176.96" stroke="#555" stroke-width="0.5"/>
<text x="192.3" y="176.96" font-size="3.3" text-anchor="middle" fill="#1a1a1a" transform="rotate(-90 192.3 176.96)">800</text>
<line x1="194.3" y1="168.0" x2="195.3" y2="168.0" stroke="#555" stroke-width="0.5"/>
<text x="192.3" y="168.0" font-size="3.3" text-anchor="middle" fill="#1a1a1a" transform="rotate(-90 192.3 168.0)">1000</text>
<text x="188.70000000000002" y="190.4" font-size="3.1" text-anchor="middle" fill="#1a1a1a" transform="rotate(-90 188.70000000000002 190.4)">Side Scatter</text>
<rect x="195.3" y="168" width="16" height="44.8" fill="none" stroke="#555" stroke-width="0.75"/>
<text x="198.6" y="177.2" font-size="6.7" font-weight="bold">Lin</text>
<text x="209.4" y="174.2" font-size="4.5" font-weight="bold">-</text>
<rect x="196" y="229" width="50.5" height="44" fill="none" stroke="#666" stroke-width="0.75"/>
<line x1="196" y1="273" x2="246.5" y2="273" stroke="#555" stroke-width="0.8"/>
<line x1="196" y1="229" x2="196" y2="273" stroke="#555" stroke-width="0.8"/>
<text x="218.25" y="227.8" font-size="2.9" text-anchor="middle" fill="#333">02/20/Age 011</text>
<line x1="196.0" y1="273" x2="196.0" y2="274" stroke="#555" stroke-width="0.5"/>
<text x="196.0" y="277.4" font-size="3.3" text-anchor="middle" fill="#1a1a1a">10<tspan dy="-1.1" font-size="2.1">0</tspan></text>
<line x1="208.625" y1="273" x2="208.625" y2="274" stroke="#555" stroke-width="0.5"/>
<text x="208.625" y="277.4" font-size="3.3" text-anchor="middle" fill="#1a1a1a">10<tspan dy="-1.1" font-size="2.1">1</tspan></text>
<line x1="221.25" y1="273" x2="221.25" y2="274" stroke="#555" stroke-width="0.5"/>
<text x="221.25" y="277.4" font-size="3.3" text-anchor="middle" fill="#1a1a1a">10<tspan dy="-1.1" font-size="2.1">2</tspan></text>
<line x1="233.875" y1="273" x2="233.875" y2="274" stroke="#555" stroke-width="0.5"/>
<text x="233.875" y="277.4" font-size="3.3" text-anchor="middle" fill="#1a1a1a">10<tspan dy="-1.1" font-size="2.1">3</tspan></text>
<line x1="246.5" y1="273" x2="246.5" y2="274" stroke="#555" stroke-width="0.5"/>
<text x="246.5" y="277.4" font-size="3.3" text-anchor="middle" fill="#1a1a1a">10<tspan dy="-1.1" font-size="2.1">4</tspan></text>
<text x="221.25" y="281.3" font-size="3.1" text-anchor="middle" fill="#1a1a1a">Sca-1-PE</text>
<line x1="195" y1="273.0" x2="196" y2="273.0" stroke="#555" stroke-width="0.5"/>
<text x="193" y="273.0" font-size="3.3" text-anchor="middle" fill="#1a1a1a" transform="rotate(-90 193 273.0)">10<tspan dy="-1.1" font-size="2.1">0</tspan></text>
<line x1="195" y1="262.0" x2="196" y2="262.0" stroke="#555" stroke-width="0.5"/>
<text x="193" y="262.0" font-size="3.3" text-anchor="middle" fill="#1a1a1a" transform="rotate(-90 193 262.0)">10<tspan dy="-1.1" font-size="2.1">1</tspan></text>
<line x1="195" y1="251.0" x2="196" y2="251.0" stroke="#555" stroke-width="0.5"/>
<text x="193" y="251.0" font-size="3.3" text-anchor="middle" fill="#1a1a1a" transform="rotate(-90 193 251.0)">10<tspan dy="-1.1" font-size="2.1">2</tspan></text>
<line x1="195" y1="240.0" x2="196" y2="240.0" stroke="#555" stroke-width="0.5"/>
<text x="193" y="240.0" font-size="3.3" text-anchor="middle" fill="#1a1a1a" transform="rotate(-90 193 240.0)">10<tspan dy="-1.1" font-size="2.1">3</tspan></text>
<line x1="195" y1="229.0" x2="196" y2="229.0" stroke="#555" stroke-width="0.5"/>
<text x="193" y="229.0" font-size="3.3" text-anchor="middle" fill="#1a1a1a" transform="rotate(-90 193 229.0)">10<tspan dy="-1.1" font-size="2.1">4</tspan></text>
<text x="189.4" y="251.0" font-size="3.1" text-anchor="middle" fill="#1a1a1a" transform="rotate(-90 189.4 251.0)">c-Kit-APC</text>
<line x1="215.6" y1="229" x2="215.6" y2="273" stroke="#666" stroke-width="0.75"/>
<line x1="196" y1="254.4" x2="246.5" y2="254.4" stroke="#666" stroke-width="0.75"/>
<text x="199" y="236.8" font-size="6.7" font-weight="bold">LKS</text>
<text x="212" y="234.2" font-size="4.5" font-weight="bold">-</text>
<text x="229" y="236.8" font-size="6.7" font-weight="bold">LKS</text>
<text x="242.4" y="234.4" font-size="4.5" font-weight="bold">+</text>
<text x="79.5" y="195.3" font-size="2.6" text-anchor="middle" fill="#666">R1</text>
<text x="203.3" y="195.3" font-size="2.6" text-anchor="middle" fill="#666">R1</text>
<line x1="49" y1="182.5" x2="77.5" y2="182.5" stroke="#111" stroke-width="0.9"/>
<polygon fill="#111" points="77,178 83.4,182.5 77,187"/>
<line x1="80.3" y1="196.5" x2="80.3" y2="221" stroke="#111" stroke-width="0.9"/>
<polygon fill="#111" points="76.8,220.4 84.6,220.4 80.6,226"/>
<line x1="170" y1="182.5" x2="200.8" y2="182.5" stroke="#111" stroke-width="0.9"/>
<polygon fill="#111" points="200.4,178 206.6,182.5 200.4,187"/>
<line x1="204" y1="196.5" x2="204" y2="220.5" stroke="#777" stroke-width="0.9"/>
<polygon fill="#111" points="199.8,220 208.4,220 204.2,225.6"/>
<rect x="279.6" y="37.3" width="53.89999999999998" height="50.0" fill="none" stroke="#666" stroke-width="0.75"/>
<line x1="279.6" y1="87.3" x2="333.5" y2="87.3" stroke="#555" stroke-width="0.8"/>
<line x1="279.6" y1="37.3" x2="279.6" y2="87.3" stroke="#555" stroke-width="0.8"/>
<text x="303.55" y="36.099999999999994" font-size="3.3" text-anchor="middle" fill="#333">02/17/Age 885</text>
<line x1="279.6" y1="87.3" x2="279.6" y2="88.3" stroke="#555" stroke-width="0.5"/>
<text x="279.6" y="92.0" font-size="3.3" text-anchor="middle" fill="#1a1a1a">10<tspan dy="-1.1" font-size="2.1">0</tspan></text>
<line x1="293.07500000000005" y1="87.3" x2="293.07500000000005" y2="88.3" stroke="#555" stroke-width="0.5"/>
<text x="293.07500000000005" y="92.0" font-size="3.3" text-anchor="middle" fill="#1a1a1a">10<tspan dy="-1.1" font-size="2.1">1</tspan></text>
<line x1="306.55" y1="87.3" x2="306.55" y2="88.3" stroke="#555" stroke-width="0.5"/>
<text x="306.55" y="92.0" font-size="3.3" text-anchor="middle" fill="#1a1a1a">10<tspan dy="-1.1" font-size="2.1">2</tspan></text>
<line x1="320.025" y1="87.3" x2="320.025" y2="88.3" stroke="#555" stroke-width="0.5"/>
<text x="320.025" y="92.0" font-size="3.3" text-anchor="middle" fill="#1a1a1a">10<tspan dy="-1.1" font-size="2.1">3</tspan></text>
<line x1="333.5" y1="87.3" x2="333.5" y2="88.3" stroke="#555" stroke-width="0.5"/>
<text x="333.5" y="92.0" font-size="3.3" text-anchor="middle" fill="#1a1a1a">10<tspan dy="-1.1" font-size="2.1">4</tspan></text>
<text x="306.55" y="96.6" font-size="3.3" text-anchor="middle" fill="#1a1a1a">Sca-1-PE</text>
<line x1="278.6" y1="87.3" x2="279.6" y2="87.3" stroke="#555" stroke-width="0.5"/>
<text x="276.6" y="87.3" font-size="3.3" text-anchor="middle" fill="#1a1a1a" transform="rotate(-90 276.6 87.3)">10<tspan dy="-1.1" font-size="2.1">0</tspan></text>
<line x1="278.6" y1="74.8" x2="279.6" y2="74.8" stroke="#555" stroke-width="0.5"/>
<text x="276.6" y="74.8" font-size="3.3" text-anchor="middle" fill="#1a1a1a" transform="rotate(-90 276.6 74.8)">10<tspan dy="-1.1" font-size="2.1">1</tspan></text>
<line x1="278.6" y1="62.3" x2="279.6" y2="62.3" stroke="#555" stroke-width="0.5"/>
<text x="276.6" y="62.3" font-size="3.3" text-anchor="middle" fill="#1a1a1a" transform="rotate(-90 276.6 62.3)">10<tspan dy="-1.1" font-size="2.1">2</tspan></text>
<line x1="278.6" y1="49.8" x2="279.6" y2="49.8" stroke="#555" stroke-width="0.5"/>
<text x="276.6" y="49.8" font-size="3.3" text-anchor="middle" fill="#1a1a1a" transform="rotate(-90 276.6 49.8)">10<tspan dy="-1.1" font-size="2.1">3</tspan></text>
<line x1="278.6" y1="37.3" x2="279.6" y2="37.3" stroke="#555" stroke-width="0.5"/>
<text x="276.6" y="37.3" font-size="3.3" text-anchor="middle" fill="#1a1a1a" transform="rotate(-90 276.6 37.3)">10<tspan dy="-1.1" font-size="2.1">4</tspan></text>
<text x="273.0" y="62.3" font-size="3.3" text-anchor="middle" fill="#1a1a1a" transform="rotate(-90 273.0 62.3)">c-Kit-APC</text>
<line x1="300.3" y1="37.3" x2="300.3" y2="87.3" stroke="#666" stroke-width="0.8"/>
<line x1="279.6" y1="66.5" x2="333.5" y2="66.5" stroke="#666" stroke-width="0.8"/>
<text x="281.5" y="45.0" font-size="6.7" font-weight="bold">0.86%</text>
<text x="281.0" y="53.099999999999994" font-size="6.7" font-weight="bold">(0.07)</text>
<text x="331.2" y="45.0" font-size="6.7" font-weight="bold" text-anchor="end">0.078%</text>
<text x="331.2" y="53.099999999999994" font-size="6.7" font-weight="bold" text-anchor="end">(0.008)</text>
<rect x="340.2" y="37.8" width="52.30000000000001" height="50.3" fill="none" stroke="#666" stroke-width="0.75"/>
<line x1="340.2" y1="88.1" x2="392.5" y2="88.1" stroke="#555" stroke-width="0.8"/>
<line x1="340.2" y1="37.8" x2="340.2" y2="88.1" stroke="#555" stroke-width="0.8"/>
<text x="363.35" y="36.599999999999994" font-size="3.3" text-anchor="middle" fill="#333">02/20/Age 011</text>
<line x1="340.2" y1="88.1" x2="340.2" y2="89.1" stroke="#555" stroke-width="0.5"/>
<text x="340.2" y="92.8" font-size="3.3" text-anchor="middle" fill="#1a1a1a">10<tspan dy="-1.1" font-size="2.1">0</tspan></text>
<line x1="353.275" y1="88.1" x2="353.275" y2="89.1" stroke="#555" stroke-width="0.5"/>
<text x="353.275" y="92.8" font-size="3.3" text-anchor="middle" fill="#1a1a1a">10<tspan dy="-1.1" font-size="2.1">1</tspan></text>
<line x1="366.35" y1="88.1" x2="366.35" y2="89.1" stroke="#555" stroke-width="0.5"/>
<text x="366.35" y="92.8" font-size="3.3" text-anchor="middle" fill="#1a1a1a">10<tspan dy="-1.1" font-size="2.1">2</tspan></text>
<line x1="379.425" y1="88.1" x2="379.425" y2="89.1" stroke="#555" stroke-width="0.5"/>
<text x="379.425" y="92.8" font-size="3.3" text-anchor="middle" fill="#1a1a1a">10<tspan dy="-1.1" font-size="2.1">3</tspan></text>
<line x1="392.5" y1="88.1" x2="392.5" y2="89.1" stroke="#555" stroke-width="0.5"/>
<text x="392.5" y="92.8" font-size="3.3" text-anchor="middle" fill="#1a1a1a">10<tspan dy="-1.1" font-size="2.1">4</tspan></text>
<text x="366.35" y="97.39999999999999" font-size="3.3" text-anchor="middle" fill="#1a1a1a">Sca-1-PE</text>
<line x1="339.2" y1="88.1" x2="340.2" y2="88.1" stroke="#555" stroke-width="0.5"/>
<text x="337.2" y="88.1" font-size="3.3" text-anchor="middle" fill="#1a1a1a" transform="rotate(-90 337.2 88.1)">10<tspan dy="-1.1" font-size="2.1">0</tspan></text>
<line x1="339.2" y1="75.52499999999999" x2="340.2" y2="75.52499999999999" stroke="#555" stroke-width="0.5"/>
<text x="337.2" y="75.52499999999999" font-size="3.3" text-anchor="middle" fill="#1a1a1a" transform="rotate(-90 337.2 75.52499999999999)">10<tspan dy="-1.1" font-size="2.1">1</tspan></text>
<line x1="339.2" y1="62.949999999999996" x2="340.2" y2="62.949999999999996" stroke="#555" stroke-width="0.5"/>
<text x="337.2" y="62.949999999999996" font-size="3.3" text-anchor="middle" fill="#1a1a1a" transform="rotate(-90 337.2 62.949999999999996)">10<tspan dy="-1.1" font-size="2.1">2</tspan></text>
<line x1="339.2" y1="50.375" x2="340.2" y2="50.375" stroke="#555" stroke-width="0.5"/>
<text x="337.2" y="50.375" font-size="3.3" text-anchor="middle" fill="#1a1a1a" transform="rotate(-90 337.2 50.375)">10<tspan dy="-1.1" font-size="2.1">3</tspan></text>
<line x1="339.2" y1="37.8" x2="340.2" y2="37.8" stroke="#555" stroke-width="0.5"/>
<text x="337.2" y="37.8" font-size="3.3" text-anchor="middle" fill="#1a1a1a" transform="rotate(-90 337.2 37.8)">10<tspan dy="-1.1" font-size="2.1">4</tspan></text>
<text x="333.59999999999997" y="62.949999999999996" font-size="3.3" text-anchor="middle" fill="#1a1a1a" transform="rotate(-90 333.59999999999997 62.949999999999996)">c-Kit-APC</text>
<line x1="360.6" y1="37.8" x2="360.6" y2="88.1" stroke="#666" stroke-width="0.8"/>
<line x1="340.2" y1="66.5" x2="392.5" y2="66.5" stroke="#666" stroke-width="0.8"/>
<text x="342.09999999999997" y="45.5" font-size="6.7" font-weight="bold">0.02%</text>
<text x="341.59999999999997" y="53.599999999999994" font-size="6.7" font-weight="bold">(0.02)</text>
<text x="390.2" y="45.5" font-size="6.7" font-weight="bold" text-anchor="end">0.016%</text>
<text x="390.2" y="53.599999999999994" font-size="6.7" font-weight="bold" text-anchor="end">(0.002)</text>
<polygon fill="#111" points="366.35,31.9 367.39,31.9 367.39,26.17 366.58,26.17 366.42,26.51 366.15,26.82 365.74,27.08 365.15,27.29 365.15,28.15 365.62,27.99 366.01,27.8 366.35,27.56"/>
<rect x="399.4" y="37.7" width="53.30000000000001" height="50.3" fill="none" stroke="#666" stroke-width="0.75"/>
<line x1="399.4" y1="88" x2="452.7" y2="88" stroke="#555" stroke-width="0.8"/>
<line x1="399.4" y1="37.7" x2="399.4" y2="88" stroke="#555" stroke-width="0.8"/>
<text x="423.04999999999995" y="36.5" font-size="3.3" text-anchor="middle" fill="#333">02/18/Age 012</text>
<line x1="399.4" y1="88" x2="399.4" y2="89" stroke="#555" stroke-width="0.5"/>
<text x="399.4" y="92.7" font-size="3.3" text-anchor="middle" fill="#1a1a1a">10<tspan dy="-1.1" font-size="2.1">0</tspan></text>
<line x1="412.72499999999997" y1="88" x2="412.72499999999997" y2="89" stroke="#555" stroke-width="0.5"/>
<text x="412.72499999999997" y="92.7" font-size="3.3" text-anchor="middle" fill="#1a1a1a">10<tspan dy="-1.1" font-size="2.1">1</tspan></text>
<line x1="426.04999999999995" y1="88" x2="426.04999999999995" y2="89" stroke="#555" stroke-width="0.5"/>
<text x="426.04999999999995" y="92.7" font-size="3.3" text-anchor="middle" fill="#1a1a1a">10<tspan dy="-1.1" font-size="2.1">2</tspan></text>
<line x1="439.375" y1="88" x2="439.375" y2="89" stroke="#555" stroke-width="0.5"/>
<text x="439.375" y="92.7" font-size="3.3" text-anchor="middle" fill="#1a1a1a">10<tspan dy="-1.1" font-size="2.1">3</tspan></text>
<line x1="452.7" y1="88" x2="452.7" y2="89" stroke="#555" stroke-width="0.5"/>
<text x="452.7" y="92.7" font-size="3.3" text-anchor="middle" fill="#1a1a1a">10<tspan dy="-1.1" font-size="2.1">4</tspan></text>
<text x="426.04999999999995" y="97.3" font-size="3.3" text-anchor="middle" fill="#1a1a1a">Sca-1-PE</text>
<line x1="398.4" y1="88.0" x2="399.4" y2="88.0" stroke="#555" stroke-width="0.5"/>
<text x="396.4" y="88.0" font-size="3.3" text-anchor="middle" fill="#1a1a1a" transform="rotate(-90 396.4 88.0)">10<tspan dy="-1.1" font-size="2.1">0</tspan></text>
<line x1="398.4" y1="75.425" x2="399.4" y2="75.425" stroke="#555" stroke-width="0.5"/>
<text x="396.4" y="75.425" font-size="3.3" text-anchor="middle" fill="#1a1a1a" transform="rotate(-90 396.4 75.425)">10<tspan dy="-1.1" font-size="2.1">1</tspan></text>
<line x1="398.4" y1="62.85" x2="399.4" y2="62.85" stroke="#555" stroke-width="0.5"/>
<text x="396.4" y="62.85" font-size="3.3" text-anchor="middle" fill="#1a1a1a" transform="rotate(-90 396.4 62.85)">10<tspan dy="-1.1" font-size="2.1">2</tspan></text>
<line x1="398.4" y1="50.275000000000006" x2="399.4" y2="50.275000000000006" stroke="#555" stroke-width="0.5"/>
<text x="396.4" y="50.275000000000006" font-size="3.3" text-anchor="middle" fill="#1a1a1a" transform="rotate(-90 396.4 50.275000000000006)">10<tspan dy="-1.1" font-size="2.1">3</tspan></text>
<line x1="398.4" y1="37.7" x2="399.4" y2="37.7" stroke="#555" stroke-width="0.5"/>
<text x="396.4" y="37.7" font-size="3.3" text-anchor="middle" fill="#1a1a1a" transform="rotate(-90 396.4 37.7)">10<tspan dy="-1.1" font-size="2.1">4</tspan></text>
<text x="392.79999999999995" y="62.85" font-size="3.3" text-anchor="middle" fill="#1a1a1a" transform="rotate(-90 392.79999999999995 62.85)">c-Kit-APC</text>
<line x1="420.4" y1="37.7" x2="420.4" y2="88" stroke="#666" stroke-width="0.8"/>
<line x1="399.4" y1="66.2" x2="452.7" y2="66.2" stroke="#666" stroke-width="0.8"/>
<text x="401.29999999999995" y="45.400000000000006" font-size="6.7" font-weight="bold">0.00%</text>
<text x="400.79999999999995" y="53.5" font-size="6.7" font-weight="bold">(0.00)</text>
<text x="450.4" y="45.400000000000006" font-size="6.7" font-weight="bold" text-anchor="end">0.000%</text>
<text x="450.4" y="53.5" font-size="6.7" font-weight="bold" text-anchor="end">(0.000)</text>
<text x="425.276" y="31.9" font-size="8.0" font-weight="bold">3</text>
<rect x="462.2" y="37.5" width="54.50000000000006" height="49.0" fill="none" stroke="#666" stroke-width="0.75"/>
<line x1="462.2" y1="86.5" x2="516.7" y2="86.5" stroke="#555" stroke-width="0.8"/>
<line x1="462.2" y1="37.5" x2="462.2" y2="86.5" stroke="#555" stroke-width="0.8"/>
<text x="486.45000000000005" y="36.3" font-size="3.3" text-anchor="middle" fill="#333">02/26/Age 011</text>
<line x1="462.2" y1="86.5" x2="462.2" y2="87.5" stroke="#555" stroke-width="0.5"/>
<text x="462.2" y="91.2" font-size="3.3" text-anchor="middle" fill="#1a1a1a">10<tspan dy="-1.1" font-size="2.1">0</tspan></text>
<line x1="475.825" y1="86.5" x2="475.825" y2="87.5" stroke="#555" stroke-width="0.5"/>
<text x="475.825" y="91.2" font-size="3.3" text-anchor="middle" fill="#1a1a1a">10<tspan dy="-1.1" font-size="2.1">1</tspan></text>
<line x1="489.45000000000005" y1="86.5" x2="489.45000000000005" y2="87.5" stroke="#555" stroke-width="0.5"/>
<text x="489.45000000000005" y="91.2" font-size="3.3" text-anchor="middle" fill="#1a1a1a">10<tspan dy="-1.1" font-size="2.1">2</tspan></text>
<line x1="503.07500000000005" y1="86.5" x2="503.07500000000005" y2="87.5" stroke="#555" stroke-width="0.5"/>
<text x="503.07500000000005" y="91.2" font-size="3.3" text-anchor="middle" fill="#1a1a1a">10<tspan dy="-1.1" font-size="2.1">3</tspan></text>
<line x1="516.7" y1="86.5" x2="516.7" y2="87.5" stroke="#555" stroke-width="0.5"/>
<text x="516.7" y="91.2" font-size="3.3" text-anchor="middle" fill="#1a1a1a">10<tspan dy="-1.1" font-size="2.1">4</tspan></text>
<text x="489.45000000000005" y="95.8" font-size="3.3" text-anchor="middle" fill="#1a1a1a">Sca-1-PE</text>
<line x1="461.2" y1="86.5" x2="462.2" y2="86.5" stroke="#555" stroke-width="0.5"/>
<text x="459.2" y="86.5" font-size="3.3" text-anchor="middle" fill="#1a1a1a" transform="rotate(-90 459.2 86.5)">10<tspan dy="-1.1" font-size="2.1">0</tspan></text>
<line x1="461.2" y1="74.25" x2="462.2" y2="74.25" stroke="#555" stroke-width="0.5"/>
<text x="459.2" y="74.25" font-size="3.3" text-anchor="middle" fill="#1a1a1a" transform="rotate(-90 459.2 74.25)">10<tspan dy="-1.1" font-size="2.1">1</tspan></text>
<line x1="461.2" y1="62.0" x2="462.2" y2="62.0" stroke="#555" stroke-width="0.5"/>
<text x="459.2" y="62.0" font-size="3.3" text-anchor="middle" fill="#1a1a1a" transform="rotate(-90 459.2 62.0)">10<tspan dy="-1.1" font-size="2.1">2</tspan></text>
<line x1="461.2" y1="49.75" x2="462.2" y2="49.75" stroke="#555" stroke-width="0.5"/>
<text x="459.2" y="49.75" font-size="3.3" text-anchor="middle" fill="#1a1a1a" transform="rotate(-90 459.2 49.75)">10<tspan dy="-1.1" font-size="2.1">3</tspan></text>
<line x1="461.2" y1="37.5" x2="462.2" y2="37.5" stroke="#555" stroke-width="0.5"/>
<text x="459.2" y="37.5" font-size="3.3" text-anchor="middle" fill="#1a1a1a" transform="rotate(-90 459.2 37.5)">10<tspan dy="-1.1" font-size="2.1">4</tspan></text>
<text x="455.59999999999997" y="62.0" font-size="3.3" text-anchor="middle" fill="#1a1a1a" transform="rotate(-90 455.59999999999997 62.0)">c-Kit-APC</text>
<line x1="483.5" y1="37.5" x2="483.5" y2="86.5" stroke="#666" stroke-width="0.8"/>
<line x1="462.2" y1="65.3" x2="516.7" y2="65.3" stroke="#666" stroke-width="0.8"/>
<text x="464.09999999999997" y="45.2" font-size="6.7" font-weight="bold">0.04%</text>
<text x="463.59999999999997" y="53.3" font-size="6.7" font-weight="bold">(0.03)</text>
<text x="514.4000000000001" y="45.2" font-size="6.7" font-weight="bold" text-anchor="end">0.000%</text>
<text x="514.4000000000001" y="53.3" font-size="6.7" font-weight="bold" text-anchor="end">(0.000)</text>
<text x="483.776" y="31.9" font-size="8.0" font-weight="bold">7</text>
<rect x="339" y="113" width="53.5" height="48.900000000000006" fill="none" stroke="#666" stroke-width="0.75"/>
<line x1="339" y1="161.9" x2="392.5" y2="161.9" stroke="#555" stroke-width="0.8"/>
<line x1="339" y1="113" x2="339" y2="161.9" stroke="#555" stroke-width="0.8"/>
<text x="362.75" y="111.8" font-size="3.3" text-anchor="middle" fill="#333">01/30/Age 017</text>
<line x1="339.0" y1="161.9" x2="339.0" y2="162.9" stroke="#555" stroke-width="0.5"/>
<text x="339.0" y="166.6" font-size="3.3" text-anchor="middle" fill="#1a1a1a">10<tspan dy="-1.1" font-size="2.1">0</tspan></text>
<line x1="352.375" y1="161.9" x2="352.375" y2="162.9" stroke="#555" stroke-width="0.5"/>
<text x="352.375" y="166.6" font-size="3.3" text-anchor="middle" fill="#1a1a1a">10<tspan dy="-1.1" font-size="2.1">1</tspan></text>
<line x1="365.75" y1="161.9" x2="365.75" y2="162.9" stroke="#555" stroke-width="0.5"/>
<text x="365.75" y="166.6" font-size="3.3" text-anchor="middle" fill="#1a1a1a">10<tspan dy="-1.1" font-size="2.1">2</tspan></text>
<line x1="379.125" y1="161.9" x2="379.125" y2="162.9" stroke="#555" stroke-width="0.5"/>
<text x="379.125" y="166.6" font-size="3.3" text-anchor="middle" fill="#1a1a1a">10<tspan dy="-1.1" font-size="2.1">3</tspan></text>
<line x1="392.5" y1="161.9" x2="392.5" y2="162.9" stroke="#555" stroke-width="0.5"/>
<text x="392.5" y="166.6" font-size="3.3" text-anchor="middle" fill="#1a1a1a">10<tspan dy="-1.1" font-size="2.1">4</tspan></text>
<text x="365.75" y="171.20000000000002" font-size="3.3" text-anchor="middle" fill="#1a1a1a">Sca-1-PE</text>
<line x1="338" y1="161.9" x2="339" y2="161.9" stroke="#555" stroke-width="0.5"/>
<text x="336" y="161.9" font-size="3.3" text-anchor="middle" fill="#1a1a1a" transform="rotate(-90 336 161.9)">10<tspan dy="-1.1" font-size="2.1">0</tspan></text>
<line x1="338" y1="149.675" x2="339" y2="149.675" stroke="#555" stroke-width="0.5"/>
<text x="336" y="149.675" font-size="3.3" text-anchor="middle" fill="#1a1a1a" transform="rotate(-90 336 149.675)">10<tspan dy="-1.1" font-size="2.1">1</tspan></text>
<line x1="338" y1="137.45" x2="339" y2="137.45" stroke="#555" stroke-width="0.5"/>
<text x="336" y="137.45" font-size="3.3" text-anchor="middle" fill="#1a1a1a" transform="rotate(-90 336 137.45)">10<tspan dy="-1.1" font-size="2.1">2</tspan></text>
<line x1="338" y1="125.225" x2="339" y2="125.225" stroke="#555" stroke-width="0.5"/>
<text x="336" y="125.225" font-size="3.3" text-anchor="middle" fill="#1a1a1a" transform="rotate(-90 336 125.225)">10<tspan dy="-1.1" font-size="2.1">3</tspan></text>
<line x1="338" y1="113.0" x2="339" y2="113.0" stroke="#555" stroke-width="0.5"/>
<text x="336" y="113.0" font-size="3.3" text-anchor="middle" fill="#1a1a1a" transform="rotate(-90 336 113.0)">10<tspan dy="-1.1" font-size="2.1">4</tspan></text>
<text x="332.4" y="137.45" font-size="3.3" text-anchor="middle" fill="#1a1a1a" transform="rotate(-90 332.4 137.45)">c-Kit-APC</text>
<line x1="360.7" y1="113" x2="360.7" y2="161.9" stroke="#666" stroke-width="0.8"/>
<line x1="339" y1="141.3" x2="392.5" y2="141.3" stroke="#666" stroke-width="0.8"/>
<text x="340.9" y="120.7" font-size="6.7" font-weight="bold">0.41%</text>
<text x="340.4" y="128.8" font-size="6.7" font-weight="bold">(0.05)</text>
<text x="390.2" y="120.7" font-size="6.7" font-weight="bold" text-anchor="end">0.010%</text>
<text x="390.2" y="128.8" font-size="6.7" font-weight="bold" text-anchor="end">(0.001)</text>
<polygon fill="#111" points="361.13,107.0 362.17,107.0 362.17,101.27 361.35,101.27 361.2,101.61 360.92,101.92 360.51,102.18 359.93,102.39 359.93,103.25 360.4,103.09 360.79,102.9 361.13,102.66"/>
<text x="363.4" y="107" font-size="8.0" font-weight="bold">4</text>
<rect x="399.4" y="113.1" width="53.10000000000002" height="48.5" fill="none" stroke="#666" stroke-width="0.75"/>
<line x1="399.4" y1="161.6" x2="452.5" y2="161.6" stroke="#555" stroke-width="0.8"/>
<line x1="399.4" y1="113.1" x2="399.4" y2="161.6" stroke="#555" stroke-width="0.8"/>
<text x="422.95" y="111.89999999999999" font-size="3.3" text-anchor="middle" fill="#333">01/25/Age 300</text>
<line x1="399.4" y1="161.6" x2="399.4" y2="162.6" stroke="#555" stroke-width="0.5"/>
<text x="399.4" y="166.29999999999998" font-size="3.3" text-anchor="middle" fill="#1a1a1a">10<tspan dy="-1.1" font-size="2.1">0</tspan></text>
<line x1="412.67499999999995" y1="161.6" x2="412.67499999999995" y2="162.6" stroke="#555" stroke-width="0.5"/>
<text x="412.67499999999995" y="166.29999999999998" font-size="3.3" text-anchor="middle" fill="#1a1a1a">10<tspan dy="-1.1" font-size="2.1">1</tspan></text>
<line x1="425.95" y1="161.6" x2="425.95" y2="162.6" stroke="#555" stroke-width="0.5"/>
<text x="425.95" y="166.29999999999998" font-size="3.3" text-anchor="middle" fill="#1a1a1a">10<tspan dy="-1.1" font-size="2.1">2</tspan></text>
<line x1="439.225" y1="161.6" x2="439.225" y2="162.6" stroke="#555" stroke-width="0.5"/>
<text x="439.225" y="166.29999999999998" font-size="3.3" text-anchor="middle" fill="#1a1a1a">10<tspan dy="-1.1" font-size="2.1">3</tspan></text>
<line x1="452.5" y1="161.6" x2="452.5" y2="162.6" stroke="#555" stroke-width="0.5"/>
<text x="452.5" y="166.29999999999998" font-size="3.3" text-anchor="middle" fill="#1a1a1a">10<tspan dy="-1.1" font-size="2.1">4</tspan></text>
<text x="425.95" y="170.9" font-size="3.3" text-anchor="middle" fill="#1a1a1a">Sca-1-PE</text>
<line x1="398.4" y1="161.6" x2="399.4" y2="161.6" stroke="#555" stroke-width="0.5"/>
<text x="396.4" y="161.6" font-size="3.3" text-anchor="middle" fill="#1a1a1a" transform="rotate(-90 396.4 161.6)">10<tspan dy="-1.1" font-size="2.1">0</tspan></text>
<line x1="398.4" y1="149.475" x2="399.4" y2="149.475" stroke="#555" stroke-width="0.5"/>
<text x="396.4" y="149.475" font-size="3.3" text-anchor="middle" fill="#1a1a1a" transform="rotate(-90 396.4 149.475)">10<tspan dy="-1.1" font-size="2.1">1</tspan></text>
<line x1="398.4" y1="137.35" x2="399.4" y2="137.35" stroke="#555" stroke-width="0.5"/>
<text x="396.4" y="137.35" font-size="3.3" text-anchor="middle" fill="#1a1a1a" transform="rotate(-90 396.4 137.35)">10<tspan dy="-1.1" font-size="2.1">2</tspan></text>
<line x1="398.4" y1="125.225" x2="399.4" y2="125.225" stroke="#555" stroke-width="0.5"/>
<text x="396.4" y="125.225" font-size="3.3" text-anchor="middle" fill="#1a1a1a" transform="rotate(-90 396.4 125.225)">10<tspan dy="-1.1" font-size="2.1">3</tspan></text>
<line x1="398.4" y1="113.1" x2="399.4" y2="113.1" stroke="#555" stroke-width="0.5"/>
<text x="396.4" y="113.1" font-size="3.3" text-anchor="middle" fill="#1a1a1a" transform="rotate(-90 396.4 113.1)">10<tspan dy="-1.1" font-size="2.1">4</tspan></text>
<text x="392.79999999999995" y="137.35" font-size="3.3" text-anchor="middle" fill="#1a1a1a" transform="rotate(-90 392.79999999999995 137.35)">c-Kit-APC</text>
<line x1="420.6" y1="113.1" x2="420.6" y2="161.6" stroke="#666" stroke-width="0.8"/>
<line x1="399.4" y1="141.2" x2="452.5" y2="141.2" stroke="#666" stroke-width="0.8"/>
<text x="401.29999999999995" y="120.8" font-size="6.7" font-weight="bold">0.42%</text>
<text x="400.79999999999995" y="128.9" font-size="6.7" font-weight="bold">(0.05)</text>
<text x="450.2" y="120.8" font-size="6.7" font-weight="bold" text-anchor="end">0.013%</text>
<text x="450.2" y="128.9" font-size="6.7" font-weight="bold" text-anchor="end">(0.002)</text>
<text x="422.552" y="107" font-size="8.0" font-weight="bold">2</text>
<text x="427.0" y="107" font-size="8.0" font-weight="bold">8</text>
<rect x="463.1" y="112.6" width="53.799999999999955" height="49.0" fill="none" stroke="#666" stroke-width="0.75"/>
<line x1="463.1" y1="161.6" x2="516.9" y2="161.6" stroke="#555" stroke-width="0.8"/>
<line x1="463.1" y1="112.6" x2="463.1" y2="161.6" stroke="#555" stroke-width="0.8"/>
<text x="487.0" y="111.39999999999999" font-size="3.3" text-anchor="middle" fill="#333">06/17/Age 511</text>
<line x1="463.1" y1="161.6" x2="463.1" y2="162.6" stroke="#555" stroke-width="0.5"/>
<text x="463.1" y="166.29999999999998" font-size="3.3" text-anchor="middle" fill="#1a1a1a">10<tspan dy="-1.1" font-size="2.1">0</tspan></text>
<line x1="476.55" y1="161.6" x2="476.55" y2="162.6" stroke="#555" stroke-width="0.5"/>
<text x="476.55" y="166.29999999999998" font-size="3.3" text-anchor="middle" fill="#1a1a1a">10<tspan dy="-1.1" font-size="2.1">1</tspan></text>
<line x1="490.0" y1="161.6" x2="490.0" y2="162.6" stroke="#555" stroke-width="0.5"/>
<text x="490.0" y="166.29999999999998" font-size="3.3" text-anchor="middle" fill="#1a1a1a">10<tspan dy="-1.1" font-size="2.1">2</tspan></text>
<line x1="503.45" y1="161.6" x2="503.45" y2="162.6" stroke="#555" stroke-width="0.5"/>
<text x="503.45" y="166.29999999999998" font-size="3.3" text-anchor="middle" fill="#1a1a1a">10<tspan dy="-1.1" font-size="2.1">3</tspan></text>
<line x1="516.9" y1="161.6" x2="516.9" y2="162.6" stroke="#555" stroke-width="0.5"/>
<text x="516.9" y="166.29999999999998" font-size="3.3" text-anchor="middle" fill="#1a1a1a">10<tspan dy="-1.1" font-size="2.1">4</tspan></text>
<text x="490.0" y="170.9" font-size="3.3" text-anchor="middle" fill="#1a1a1a">Sca-1-PE</text>
<line x1="462.1" y1="161.6" x2="463.1" y2="161.6" stroke="#555" stroke-width="0.5"/>
<text x="460.1" y="161.6" font-size="3.3" text-anchor="middle" fill="#1a1a1a" transform="rotate(-90 460.1 161.6)">10<tspan dy="-1.1" font-size="2.1">0</tspan></text>
<line x1="462.1" y1="149.35" x2="463.1" y2="149.35" stroke="#555" stroke-width="0.5"/>
<text x="460.1" y="149.35" font-size="3.3" text-anchor="middle" fill="#1a1a1a" transform="rotate(-90 460.1 149.35)">10<tspan dy="-1.1" font-size="2.1">1</tspan></text>
<line x1="462.1" y1="137.1" x2="463.1" y2="137.1" stroke="#555" stroke-width="0.5"/>
<text x="460.1" y="137.1" font-size="3.3" text-anchor="middle" fill="#1a1a1a" transform="rotate(-90 460.1 137.1)">10<tspan dy="-1.1" font-size="2.1">2</tspan></text>
<line x1="462.1" y1="124.85" x2="463.1" y2="124.85" stroke="#555" stroke-width="0.5"/>
<text x="460.1" y="124.85" font-size="3.3" text-anchor="middle" fill="#1a1a1a" transform="rotate(-90 460.1 124.85)">10<tspan dy="-1.1" font-size="2.1">3</tspan></text>
<line x1="462.1" y1="112.6" x2="463.1" y2="112.6" stroke="#555" stroke-width="0.5"/>
<text x="460.1" y="112.6" font-size="3.3" text-anchor="middle" fill="#1a1a1a" transform="rotate(-90 460.1 112.6)">10<tspan dy="-1.1" font-size="2.1">4</tspan></text>
<text x="456.5" y="137.1" font-size="3.3" text-anchor="middle" fill="#1a1a1a" transform="rotate(-90 456.5 137.1)">c-Kit-APC</text>
<line x1="483.8" y1="112.6" x2="483.8" y2="161.6" stroke="#666" stroke-width="0.8"/>
<line x1="463.1" y1="141" x2="516.9" y2="141" stroke="#666" stroke-width="0.8"/>
<text x="465.0" y="120.3" font-size="6.7" font-weight="bold">0.69%</text>
<text x="464.5" y="128.4" font-size="6.7" font-weight="bold">(0.05)</text>
<text x="514.6" y="120.3" font-size="6.7" font-weight="bold" text-anchor="end">0.013%</text>
<text x="514.6" y="128.4" font-size="6.7" font-weight="bold" text-anchor="end">(0.002)</text>
<text x="481.552" y="107" font-size="8.0" font-weight="bold">5</text>
<text x="486.0" y="107" font-size="8.0" font-weight="bold">6</text>
<line x1="266.6" y1="38.5" x2="266.6" y2="79.5" stroke="#111" stroke-width="1.1"/>
<polygon fill="#111" points="262.6,39.4 270.8,39.4 266.7,33.4"/>
<line x1="266.6" y1="125" x2="266.6" y2="173.2" stroke="#111" stroke-width="1.1"/>
<text x="0" y="0" font-size="7.8" font-weight="bold" fill="#111" transform="translate(271.4,103.3) rotate(-90)" text-anchor="middle" textLength="37" lengthAdjust="spacingAndGlyphs">C-Kit-APC</text>
<line x1="280" y1="175.5" x2="373.8" y2="175.5" stroke="#111" stroke-width="1.1"/>
<line x1="419" y1="175.5" x2="508" y2="175.5" stroke="#111" stroke-width="1.1"/>
<text x="398.8" y="178.7" font-size="8.5" font-weight="bold" text-anchor="middle" textLength="33.2" lengthAdjust="spacingAndGlyphs">Sca-1-PE</text>
<polygon fill="#111" points="507.4,172.2 514,175.8 507.4,179.8"/>
<line x1="294.3" y1="209.3" x2="294.3" y2="266.1" stroke="#111" stroke-width="1.1"/>
<line x1="292.5" y1="265.6" x2="294.3" y2="265.6" stroke="#111" stroke-width="0.7"/>
<text x="292.0" y="267.6" font-size="5.4" font-weight="bold" text-anchor="end" fill="#222">0.00</text>
<line x1="292.5" y1="251.55" x2="294.3" y2="251.55" stroke="#111" stroke-width="0.7"/>
<text x="292.0" y="253.55" font-size="5.4" font-weight="bold" text-anchor="end" fill="#222">0.25</text>
<line x1="292.5" y1="237.50000000000003" x2="294.3" y2="237.50000000000003" stroke="#111" stroke-width="0.7"/>
<text x="292.0" y="239.50000000000003" font-size="5.4" font-weight="bold" text-anchor="end" fill="#222">0.50</text>
<line x1="292.5" y1="223.45000000000002" x2="294.3" y2="223.45000000000002" stroke="#111" stroke-width="0.7"/>
<text x="292.0" y="225.45000000000002" font-size="5.4" font-weight="bold" text-anchor="end" fill="#222">0.75</text>
<line x1="292.5" y1="209.40000000000003" x2="294.3" y2="209.40000000000003" stroke="#111" stroke-width="0.7"/>
<text x="292.0" y="211.40000000000003" font-size="5.4" font-weight="bold" text-anchor="end" fill="#222">1.00</text>
<line x1="294.3" y1="265.6" x2="362" y2="265.6" stroke="#111" stroke-width="1.1"/>
<line x1="362" y1="264.1" x2="362" y2="267.1" stroke="#111" stroke-width="0.7"/>
<line x1="294.3" y1="265.6" x2="294.3" y2="267.20000000000005" stroke="#111" stroke-width="0.7"/>
<text x="294.3" y="272.8" font-size="5.2" font-weight="bold" text-anchor="middle" fill="#222">0</text>
<line x1="316.90000000000003" y1="265.6" x2="316.90000000000003" y2="267.20000000000005" stroke="#111" stroke-width="0.7"/>
<text x="316.90000000000003" y="272.8" font-size="5.2" font-weight="bold" text-anchor="middle" fill="#222">10</text>
<line x1="339.5" y1="265.6" x2="339.5" y2="267.20000000000005" stroke="#111" stroke-width="0.7"/>
<text x="339.5" y="272.8" font-size="5.2" font-weight="bold" text-anchor="middle" fill="#222">20</text>
<line x1="364.3" y1="265.6" x2="379" y2="265.6" stroke="#111" stroke-width="1.1"/>
<line x1="364.3" y1="264.1" x2="364.3" y2="267.1" stroke="#111" stroke-width="0.7"/>
<line x1="365.8" y1="265.6" x2="365.8" y2="267.20000000000005" stroke="#111" stroke-width="0.7"/>
<line x1="378.6" y1="265.6" x2="378.6" y2="267.20000000000005" stroke="#111" stroke-width="0.7"/>
<text x="358.7" y="272.8" font-size="5.2" font-weight="bold" fill="#222" textLength="11.4" lengthAdjust="spacingAndGlyphs">3035</text>
<text x="379.20000000000005" y="272.8" font-size="5.2" font-weight="bold" text-anchor="middle" fill="#222">60</text>
<text x="316" y="280.5" font-size="6.2" font-weight="bold" textLength="41" lengthAdjust="spacingAndGlyphs">Days after TBI</text>
<text x="0" y="0" font-size="6.2" font-weight="bold" fill="#111" transform="translate(270.8,236.3) rotate(-90)" text-anchor="middle" textLength="69.5" lengthAdjust="spacingAndGlyphs">Frequency of LKS<tspan font-size="3.8" dy="-2.1">-</tspan><tspan dy="2.1"> cells</tspan></text>
<text x="0" y="0" font-size="6.0" font-weight="bold" fill="#111" transform="translate(278.6,237.5) rotate(-90)" text-anchor="middle" textLength="49" lengthAdjust="spacingAndGlyphs">(% of total MNCs)</text>
<text x="325.6" y="208.3" font-size="5.6" font-weight="bold" fill="#111" textLength="25.5" lengthAdjust="spacingAndGlyphs">LKS<tspan font-size="3.6" dy="-2">-</tspan><tspan dy="2"> cells</tspan></text>
<polyline fill="none" stroke="#111" stroke-width="1.1" points="294.3,216.9 296.6,264.2 301,264.8 310.2,262.8 325.7,242.3 357.3,242"/>
<line x1="357.3" y1="242" x2="360.8" y2="239.3" stroke="#111" stroke-width="1.1"/>
<line x1="366.2" y1="235" x2="376.9" y2="226.9" stroke="#111" stroke-width="1.1"/>
<rect x="293.1" y="215.70000000000002" width="2.4" height="2.4" fill="#111"/>
<rect x="295.40000000000003" y="263.0" width="2.4" height="2.4" fill="#111"/>
<rect x="299.8" y="263.6" width="2.4" height="2.4" fill="#111"/>
<rect x="309.0" y="261.6" width="2.4" height="2.4" fill="#111"/>
<rect x="324.5" y="241.10000000000002" width="2.4" height="2.4" fill="#111"/>
<rect x="356.1" y="240.8" width="2.4" height="2.4" fill="#111"/>
<rect x="375.7" y="225.70000000000002" width="2.4" height="2.4" fill="#111"/>
<line x1="325.7" y1="239.4" x2="325.7" y2="245.2" stroke="#111" stroke-width="0.6"/>
<line x1="324.5" y1="239.4" x2="326.9" y2="239.4" stroke="#111" stroke-width="0.6"/>
<line x1="324.5" y1="245.2" x2="326.9" y2="245.2" stroke="#111" stroke-width="0.6"/>
<line x1="357.3" y1="238.6" x2="357.3" y2="245.2" stroke="#111" stroke-width="0.6"/>
<line x1="356.1" y1="238.6" x2="358.5" y2="238.6" stroke="#111" stroke-width="0.6"/>
<line x1="356.1" y1="245.2" x2="358.5" y2="245.2" stroke="#111" stroke-width="0.6"/>
<line x1="376.9" y1="224" x2="376.9" y2="229.6" stroke="#111" stroke-width="0.6"/>
<line x1="375.7" y1="224" x2="378.09999999999997" y2="224" stroke="#111" stroke-width="0.6"/>
<line x1="375.7" y1="229.6" x2="378.09999999999997" y2="229.6" stroke="#111" stroke-width="0.6"/>
<line x1="310.2" y1="261.4" x2="310.2" y2="264.6" stroke="#111" stroke-width="0.6"/>
<line x1="309.0" y1="261.4" x2="311.4" y2="261.4" stroke="#111" stroke-width="0.6"/>
<line x1="309.0" y1="264.6" x2="311.4" y2="264.6" stroke="#111" stroke-width="0.6"/>
<line x1="425.5" y1="204.8" x2="425.5" y2="264.9" stroke="#111" stroke-width="1.1"/>
<line x1="423.7" y1="264.4" x2="425.5" y2="264.4" stroke="#111" stroke-width="0.7"/>
<text x="423.2" y="266.4" font-size="5.4" font-weight="bold" text-anchor="end" fill="#222">0.00</text>
<line x1="423.7" y1="249.57999999999998" x2="425.5" y2="249.57999999999998" stroke="#111" stroke-width="0.7"/>
<text x="423.2" y="251.57999999999998" font-size="5.4" font-weight="bold" text-anchor="end" fill="#222">0.02</text>
<line x1="423.7" y1="234.76" x2="425.5" y2="234.76" stroke="#111" stroke-width="0.7"/>
<text x="423.2" y="236.76" font-size="5.4" font-weight="bold" text-anchor="end" fill="#222">0.04</text>
<line x1="423.7" y1="219.93999999999997" x2="425.5" y2="219.93999999999997" stroke="#111" stroke-width="0.7"/>
<text x="423.2" y="221.93999999999997" font-size="5.4" font-weight="bold" text-anchor="end" fill="#222">0.06</text>
<line x1="423.7" y1="205.11999999999998" x2="425.5" y2="205.11999999999998" stroke="#111" stroke-width="0.7"/>
<text x="423.2" y="207.11999999999998" font-size="5.4" font-weight="bold" text-anchor="end" fill="#222">0.08</text>
<line x1="425.5" y1="264.4" x2="496.6" y2="264.4" stroke="#111" stroke-width="1.1"/>
<line x1="496.6" y1="262.9" x2="496.6" y2="265.9" stroke="#111" stroke-width="0.7"/>
<line x1="425.5" y1="264.4" x2="425.5" y2="266.0" stroke="#111" stroke-width="0.7"/>
<text x="425.5" y="271.59999999999997" font-size="5.2" font-weight="bold" text-anchor="middle" fill="#222">0</text>
<line x1="449.0" y1="264.4" x2="449.0" y2="266.0" stroke="#111" stroke-width="0.7"/>
<text x="449.0" y="271.59999999999997" font-size="5.2" font-weight="bold" text-anchor="middle" fill="#222">10</text>
<line x1="472.5" y1="264.4" x2="472.5" y2="266.0" stroke="#111" stroke-width="0.7"/>
<text x="472.5" y="271.59999999999997" font-size="5.2" font-weight="bold" text-anchor="middle" fill="#222">20</text>
<line x1="499.1" y1="264.4" x2="514.6" y2="264.4" stroke="#111" stroke-width="1.1"/>
<line x1="499.1" y1="262.9" x2="499.1" y2="265.9" stroke="#111" stroke-width="0.7"/>
<line x1="500.6" y1="264.4" x2="500.6" y2="266.0" stroke="#111" stroke-width="0.7"/>
<line x1="514.2" y1="264.4" x2="514.2" y2="266.0" stroke="#111" stroke-width="0.7"/>
<text x="493.3" y="271.59999999999997" font-size="5.2" font-weight="bold" fill="#222" textLength="11.4" lengthAdjust="spacingAndGlyphs">3035</text>
<text x="514.8000000000001" y="271.59999999999997" font-size="5.2" font-weight="bold" text-anchor="middle" fill="#222">60</text>
<text x="449" y="279.29999999999995" font-size="6.2" font-weight="bold" textLength="41" lengthAdjust="spacingAndGlyphs">Days after TBI</text>
<text x="0" y="0" font-size="6.0" font-weight="bold" fill="#111" transform="translate(400.8,233.4) rotate(-90)" text-anchor="middle" textLength="65.8" lengthAdjust="spacingAndGlyphs">Frequency of LKS<tspan font-size="3.8" dy="-2.1">+</tspan><tspan dy="2.1"> cells</tspan></text>
<text x="0" y="0" font-size="5.8" font-weight="bold" fill="#111" transform="translate(408.7,234.7) rotate(-90)" text-anchor="middle" textLength="45.4" lengthAdjust="spacingAndGlyphs">(% of total MNCs)</text>
<text x="458.4" y="208.3" font-size="5.6" font-weight="bold" fill="#111" textLength="27.8" lengthAdjust="spacingAndGlyphs">LKS<tspan font-size="3.6" dy="-2">+</tspan><tspan dy="2"> cells</tspan></text>
<polyline fill="none" stroke="#111" stroke-width="1.1" points="425.5,206 428,252.5 432.5,264 441.3,264.4 458.6,256.9 491.6,254.4"/>
<line x1="491.6" y1="254.4" x2="496.2" y2="254.5" stroke="#111" stroke-width="1.1"/>
<line x1="500.6" y1="254.7" x2="512.3" y2="254.7" stroke="#111" stroke-width="1.1"/>
<rect x="424.3" y="204.8" width="2.4" height="2.4" fill="#111"/>
<rect x="426.8" y="251.3" width="2.4" height="2.4" fill="#111"/>
<rect x="431.3" y="262.8" width="2.4" height="2.4" fill="#111"/>
<rect x="440.1" y="263.2" width="2.4" height="2.4" fill="#111"/>
<rect x="457.40000000000003" y="255.7" width="2.4" height="2.4" fill="#111"/>
<rect x="490.40000000000003" y="253.20000000000002" width="2.4" height="2.4" fill="#111"/>
<rect x="511.09999999999997" y="253.5" width="2.4" height="2.4" fill="#111"/>
<line x1="428" y1="250.6" x2="428" y2="254.6" stroke="#111" stroke-width="0.7"/>
<line x1="426.8" y1="250.6" x2="429.2" y2="250.6" stroke="#111" stroke-width="0.6"/>
<line x1="426.8" y1="254.6" x2="429.2" y2="254.6" stroke="#111" stroke-width="0.6"/>
<line x1="491.6" y1="252.6" x2="491.6" y2="256.2" stroke="#111" stroke-width="0.7"/>
<line x1="490.40000000000003" y1="252.6" x2="492.8" y2="252.6" stroke="#111" stroke-width="0.6"/>
<line x1="490.40000000000003" y1="256.2" x2="492.8" y2="256.2" stroke="#111" stroke-width="0.6"/>
<line x1="512.3" y1="252.8" x2="512.3" y2="256.6" stroke="#111" stroke-width="0.7"/>
<line x1="511.09999999999997" y1="252.8" x2="513.5" y2="252.8" stroke="#111" stroke-width="0.6"/>
<line x1="511.09999999999997" y1="256.6" x2="513.5" y2="256.6" stroke="#111" stroke-width="0.6"/>
</g>
</svg></body></html>
